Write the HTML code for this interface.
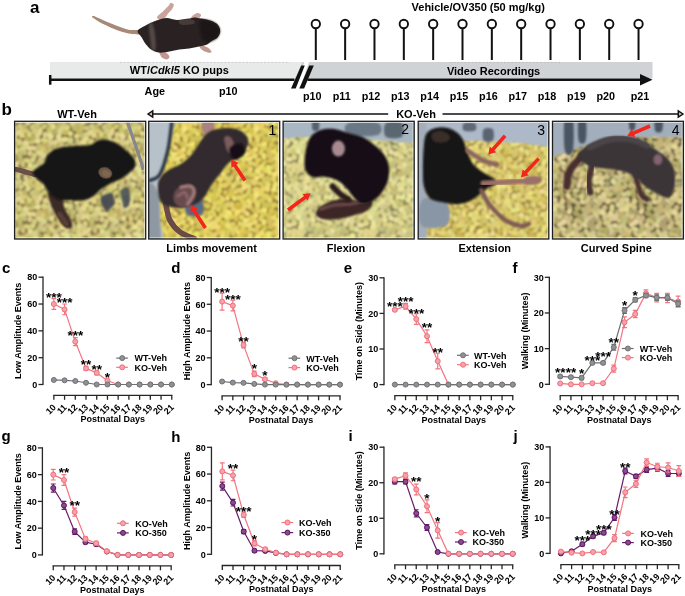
<!DOCTYPE html>
<html><head><meta charset="utf-8"><style>
html,body{margin:0;padding:0;background:#fff;width:685px;height:596px;overflow:hidden}
svg{display:block;will-change:transform}
</style></head><body>
<svg width="685" height="596" viewBox="0 0 685 596">
<defs><pattern id="pel0" width="72" height="66" patternUnits="userSpaceOnUse" x="0" y="0"><rect width="72" height="66" fill="#7e6e42"/><ellipse cx="44.8" cy="49.0" rx="3.3" ry="2.7" transform="rotate(114 44.8 49.0)" fill="#ded185"/><ellipse cx="57.3" cy="-3.8" rx="3.0" ry="2.9" transform="rotate(165 57.3 -3.8)" fill="#c5bb70"/><ellipse cx="57.3" cy="62.2" rx="3.0" ry="2.9" transform="rotate(165 57.3 62.2)" fill="#c5bb70"/><ellipse cx="2.1" cy="30.7" rx="3.8" ry="2.5" transform="rotate(110 2.1 30.7)" fill="#ccc37e"/><ellipse cx="74.1" cy="30.7" rx="3.8" ry="2.5" transform="rotate(110 74.1 30.7)" fill="#ccc37e"/><ellipse cx="-4.1" cy="42.8" rx="2.8" ry="2.4" transform="rotate(40 -4.1 42.8)" fill="#e7d899"/><ellipse cx="67.9" cy="42.8" rx="2.8" ry="2.4" transform="rotate(40 67.9 42.8)" fill="#e7d899"/><ellipse cx="64.9" cy="7.5" rx="3.9" ry="2.4" transform="rotate(176 64.9 7.5)" fill="#e9de8d"/><ellipse cx="33.8" cy="16.3" rx="3.1" ry="2.3" transform="rotate(33 33.8 16.3)" fill="#e5d692"/><ellipse cx="39.2" cy="37.9" rx="3.1" ry="2.6" transform="rotate(39 39.2 37.9)" fill="#b8ae69"/><ellipse cx="0.9" cy="14.3" rx="3.0" ry="3.0" transform="rotate(151 0.9 14.3)" fill="#c8bd77"/><ellipse cx="72.9" cy="14.3" rx="3.0" ry="3.0" transform="rotate(151 72.9 14.3)" fill="#c8bd77"/><ellipse cx="20.1" cy="60.5" rx="3.1" ry="2.3" transform="rotate(21 20.1 60.5)" fill="#d3d27e"/><ellipse cx="55.1" cy="10.5" rx="3.4" ry="2.7" transform="rotate(145 55.1 10.5)" fill="#dad58c"/><ellipse cx="44.5" cy="8.4" rx="3.6" ry="2.9" transform="rotate(24 44.5 8.4)" fill="#dcd280"/><ellipse cx="0.1" cy="57.5" rx="3.8" ry="2.4" transform="rotate(54 0.1 57.5)" fill="#d8d185"/><ellipse cx="72.1" cy="57.5" rx="3.8" ry="2.4" transform="rotate(54 72.1 57.5)" fill="#d8d185"/><ellipse cx="15.1" cy="14.2" rx="2.9" ry="2.9" transform="rotate(174 15.1 14.2)" fill="#c0ba67"/><ellipse cx="38.8" cy="44.7" rx="3.5" ry="2.3" transform="rotate(17 38.8 44.7)" fill="#c3b566"/><ellipse cx="14.7" cy="-3.9" rx="3.0" ry="2.5" transform="rotate(13 14.7 -3.9)" fill="#d8c784"/><ellipse cx="14.7" cy="62.1" rx="3.0" ry="2.5" transform="rotate(13 14.7 62.1)" fill="#d8c784"/><ellipse cx="49.7" cy="-2.2" rx="3.6" ry="3.1" transform="rotate(91 49.7 -2.2)" fill="#c6c368"/><ellipse cx="49.7" cy="63.8" rx="3.6" ry="3.1" transform="rotate(91 49.7 63.8)" fill="#c6c368"/><ellipse cx="64.3" cy="19.7" rx="2.9" ry="2.2" transform="rotate(109 64.3 19.7)" fill="#d1c878"/><ellipse cx="26.0" cy="11.0" rx="3.3" ry="2.8" transform="rotate(14 26.0 11.0)" fill="#e7db97"/><ellipse cx="10.5" cy="4.3" rx="3.8" ry="2.4" transform="rotate(81 10.5 4.3)" fill="#c4ba71"/><ellipse cx="10.5" cy="70.3" rx="3.8" ry="2.4" transform="rotate(81 10.5 70.3)" fill="#c4ba71"/><ellipse cx="21.7" cy="39.8" rx="3.3" ry="2.2" transform="rotate(148 21.7 39.8)" fill="#dacf85"/><ellipse cx="0.2" cy="44.7" rx="3.9" ry="2.3" transform="rotate(125 0.2 44.7)" fill="#e5d893"/><ellipse cx="72.2" cy="44.7" rx="3.9" ry="2.3" transform="rotate(125 72.2 44.7)" fill="#e5d893"/><ellipse cx="24.3" cy="20.5" rx="3.2" ry="2.4" transform="rotate(24 24.3 20.5)" fill="#c6be79"/><ellipse cx="58.9" cy="31.7" rx="2.9" ry="2.5" transform="rotate(115 58.9 31.7)" fill="#cbc17b"/><ellipse cx="22.7" cy="31.8" rx="3.8" ry="2.3" transform="rotate(73 22.7 31.8)" fill="#d4c27d"/><ellipse cx="50.7" cy="3.8" rx="3.5" ry="3.1" transform="rotate(82 50.7 3.8)" fill="#e9df99"/><ellipse cx="50.7" cy="69.8" rx="3.5" ry="3.1" transform="rotate(82 50.7 69.8)" fill="#e9df99"/><ellipse cx="-1.8" cy="1.5" rx="2.9" ry="2.3" transform="rotate(32 -1.8 1.5)" fill="#e8df89"/><ellipse cx="-1.8" cy="67.5" rx="2.9" ry="2.3" transform="rotate(32 -1.8 67.5)" fill="#e8df89"/><ellipse cx="70.2" cy="1.5" rx="2.9" ry="2.3" transform="rotate(32 70.2 1.5)" fill="#e8df89"/><ellipse cx="70.2" cy="67.5" rx="2.9" ry="2.3" transform="rotate(32 70.2 67.5)" fill="#e8df89"/><ellipse cx="54.0" cy="55.8" rx="3.9" ry="3.0" transform="rotate(173 54.0 55.8)" fill="#b8ad66"/><ellipse cx="1.3" cy="52.0" rx="3.2" ry="2.4" transform="rotate(29 1.3 52.0)" fill="#d5c475"/><ellipse cx="73.3" cy="52.0" rx="3.2" ry="2.4" transform="rotate(29 73.3 52.0)" fill="#d5c475"/><ellipse cx="26.4" cy="38.2" rx="3.6" ry="2.2" transform="rotate(108 26.4 38.2)" fill="#d3c47f"/><ellipse cx="14.1" cy="49.9" rx="2.9" ry="2.4" transform="rotate(43 14.1 49.9)" fill="#dad987"/><ellipse cx="66.9" cy="-3.8" rx="3.7" ry="2.7" transform="rotate(121 66.9 -3.8)" fill="#ded67f"/><ellipse cx="66.9" cy="62.2" rx="3.7" ry="2.7" transform="rotate(121 66.9 62.2)" fill="#ded67f"/><ellipse cx="37.8" cy="51.2" rx="3.3" ry="2.9" transform="rotate(4 37.8 51.2)" fill="#d8cc75"/><ellipse cx="7.8" cy="49.4" rx="3.2" ry="2.3" transform="rotate(149 7.8 49.4)" fill="#bfb16e"/><ellipse cx="2.6" cy="-3.6" rx="3.4" ry="2.6" transform="rotate(47 2.6 -3.6)" fill="#c2b868"/><ellipse cx="2.6" cy="62.4" rx="3.4" ry="2.6" transform="rotate(47 2.6 62.4)" fill="#c2b868"/><ellipse cx="74.6" cy="-3.6" rx="3.4" ry="2.6" transform="rotate(47 74.6 -3.6)" fill="#c2b868"/><ellipse cx="74.6" cy="62.4" rx="3.4" ry="2.6" transform="rotate(47 74.6 62.4)" fill="#c2b868"/><ellipse cx="6.6" cy="22.5" rx="3.0" ry="2.5" transform="rotate(68 6.6 22.5)" fill="#ccc073"/><ellipse cx="44.0" cy="60.6" rx="3.6" ry="2.3" transform="rotate(147 44.0 60.6)" fill="#d0cc75"/><ellipse cx="39.3" cy="20.6" rx="3.6" ry="3.1" transform="rotate(40 39.3 20.6)" fill="#ded589"/><ellipse cx="5.6" cy="9.8" rx="3.7" ry="2.4" transform="rotate(86 5.6 9.8)" fill="#c6c27b"/><ellipse cx="-1.0" cy="35.2" rx="2.9" ry="2.3" transform="rotate(172 -1.0 35.2)" fill="#bcb370"/><ellipse cx="71.0" cy="35.2" rx="2.9" ry="2.3" transform="rotate(172 71.0 35.2)" fill="#bcb370"/><ellipse cx="29.2" cy="15.7" rx="3.5" ry="2.3" transform="rotate(13 29.2 15.7)" fill="#e3db8e"/><ellipse cx="42.8" cy="54.5" rx="3.1" ry="2.5" transform="rotate(107 42.8 54.5)" fill="#ddd98d"/><ellipse cx="32.8" cy="27.8" rx="3.2" ry="2.7" transform="rotate(107 32.8 27.8)" fill="#d7d283"/><ellipse cx="60.4" cy="8.6" rx="3.0" ry="2.6" transform="rotate(52 60.4 8.6)" fill="#e2dd96"/><ellipse cx="7.7" cy="28.7" rx="3.6" ry="3.1" transform="rotate(85 7.7 28.7)" fill="#dfdb8d"/><ellipse cx="10.7" cy="55.8" rx="3.7" ry="2.8" transform="rotate(162 10.7 55.8)" fill="#ece08f"/><ellipse cx="27.1" cy="-0.8" rx="3.0" ry="2.4" transform="rotate(35 27.1 -0.8)" fill="#d2c672"/><ellipse cx="27.1" cy="65.2" rx="3.0" ry="2.4" transform="rotate(35 27.1 65.2)" fill="#d2c672"/><ellipse cx="6.4" cy="18.0" rx="3.1" ry="2.4" transform="rotate(173 6.4 18.0)" fill="#d3c983"/><ellipse cx="26.0" cy="51.9" rx="3.7" ry="2.4" transform="rotate(29 26.0 51.9)" fill="#e0dc8c"/><ellipse cx="55.8" cy="45.8" rx="3.2" ry="2.4" transform="rotate(6 55.8 45.8)" fill="#e0d482"/><ellipse cx="26.2" cy="46.5" rx="3.9" ry="2.4" transform="rotate(72 26.2 46.5)" fill="#dccd91"/><ellipse cx="46.8" cy="38.3" rx="3.5" ry="2.9" transform="rotate(2 46.8 38.3)" fill="#e4db88"/><ellipse cx="18.0" cy="44.3" rx="3.2" ry="2.2" transform="rotate(86 18.0 44.3)" fill="#ddd688"/><ellipse cx="33.3" cy="53.9" rx="3.2" ry="2.4" transform="rotate(10 33.3 53.9)" fill="#c6bf71"/><ellipse cx="62.6" cy="45.4" rx="3.2" ry="3.1" transform="rotate(103 62.6 45.4)" fill="#e7d892"/><ellipse cx="-4.5" cy="31.5" rx="3.3" ry="2.4" transform="rotate(132 -4.5 31.5)" fill="#e0d48b"/><ellipse cx="67.5" cy="31.5" rx="3.3" ry="2.4" transform="rotate(132 67.5 31.5)" fill="#e0d48b"/><ellipse cx="49.8" cy="47.5" rx="3.4" ry="2.4" transform="rotate(42 49.8 47.5)" fill="#d8c475"/><ellipse cx="56.2" cy="38.3" rx="3.7" ry="3.0" transform="rotate(4 56.2 38.3)" fill="#e8dc98"/><ellipse cx="47.9" cy="27.8" rx="2.8" ry="2.6" transform="rotate(154 47.9 27.8)" fill="#c6bc7f"/><ellipse cx="31.8" cy="42.9" rx="3.7" ry="2.5" transform="rotate(29 31.8 42.9)" fill="#d1c380"/><ellipse cx="45.4" cy="2.8" rx="2.8" ry="2.9" transform="rotate(12 45.4 2.8)" fill="#ded289"/><ellipse cx="45.4" cy="68.8" rx="2.8" ry="2.9" transform="rotate(12 45.4 68.8)" fill="#ded289"/><ellipse cx="0.0" cy="26.8" rx="3.4" ry="2.4" transform="rotate(113 0.0 26.8)" fill="#d7cb80"/><ellipse cx="72.0" cy="26.8" rx="3.4" ry="2.4" transform="rotate(113 72.0 26.8)" fill="#d7cb80"/><ellipse cx="20.1" cy="27.1" rx="3.2" ry="3.0" transform="rotate(87 20.1 27.1)" fill="#b9b467"/><ellipse cx="58.5" cy="42.4" rx="3.5" ry="2.9" transform="rotate(147 58.5 42.4)" fill="#e2d897"/><ellipse cx="43.8" cy="23.2" rx="3.5" ry="3.0" transform="rotate(92 43.8 23.2)" fill="#dad593"/><ellipse cx="64.3" cy="0.1" rx="3.5" ry="2.7" transform="rotate(50 64.3 0.1)" fill="#c8b969"/><ellipse cx="64.3" cy="66.1" rx="3.5" ry="2.7" transform="rotate(50 64.3 66.1)" fill="#c8b969"/><ellipse cx="7.8" cy="37.3" rx="3.3" ry="3.0" transform="rotate(100 7.8 37.3)" fill="#e5d599"/><ellipse cx="27.1" cy="28.5" rx="3.8" ry="2.4" transform="rotate(13 27.1 28.5)" fill="#d8d27e"/><ellipse cx="16.3" cy="19.2" rx="3.7" ry="2.6" transform="rotate(67 16.3 19.2)" fill="#e1d98b"/><ellipse cx="42.9" cy="17.1" rx="3.2" ry="2.8" transform="rotate(127 42.9 17.1)" fill="#dacd7c"/><ellipse cx="29.9" cy="21.1" rx="3.1" ry="2.2" transform="rotate(94 29.9 21.1)" fill="#e0ca8d"/><ellipse cx="56.3" cy="16.2" rx="3.5" ry="3.0" transform="rotate(175 56.3 16.2)" fill="#c4b969"/><ellipse cx="19.3" cy="10.2" rx="3.8" ry="3.1" transform="rotate(60 19.3 10.2)" fill="#d7ce7e"/><ellipse cx="-0.8" cy="19.4" rx="3.2" ry="2.4" transform="rotate(154 -0.8 19.4)" fill="#c3b668"/><ellipse cx="71.2" cy="19.4" rx="3.2" ry="2.4" transform="rotate(154 71.2 19.4)" fill="#c3b668"/><ellipse cx="43.8" cy="31.3" rx="3.1" ry="3.1" transform="rotate(122 43.8 31.3)" fill="#cec77c"/><ellipse cx="32.8" cy="60.5" rx="3.8" ry="2.3" transform="rotate(141 32.8 60.5)" fill="#d0c882"/><ellipse cx="63.9" cy="36.0" rx="3.7" ry="2.8" transform="rotate(172 63.9 36.0)" fill="#e4da97"/><ellipse cx="30.8" cy="38.0" rx="3.1" ry="2.2" transform="rotate(169 30.8 38.0)" fill="#ccc478"/><ellipse cx="51.0" cy="41.7" rx="3.4" ry="2.7" transform="rotate(39 51.0 41.7)" fill="#e5d58d"/><ellipse cx="61.3" cy="13.0" rx="3.8" ry="3.0" transform="rotate(84 61.3 13.0)" fill="#cdbd7c"/><ellipse cx="21.3" cy="54.8" rx="2.9" ry="2.2" transform="rotate(126 21.3 54.8)" fill="#decf82"/><ellipse cx="4.8" cy="55.2" rx="3.6" ry="2.9" transform="rotate(88 4.8 55.2)" fill="#dbd281"/><ellipse cx="76.8" cy="55.2" rx="3.6" ry="2.9" transform="rotate(88 76.8 55.2)" fill="#dbd281"/><ellipse cx="58.5" cy="4.5" rx="3.1" ry="2.5" transform="rotate(124 58.5 4.5)" fill="#eddb90"/><ellipse cx="58.5" cy="70.5" rx="3.1" ry="2.5" transform="rotate(124 58.5 70.5)" fill="#eddb90"/><ellipse cx="16.6" cy="54.1" rx="3.7" ry="2.2" transform="rotate(135 16.6 54.1)" fill="#cbbe7c"/><ellipse cx="5.2" cy="3.8" rx="3.2" ry="2.3" transform="rotate(148 5.2 3.8)" fill="#e9dc8c"/><ellipse cx="5.2" cy="69.8" rx="3.2" ry="2.3" transform="rotate(148 5.2 69.8)" fill="#e9dc8c"/><ellipse cx="-4.4" cy="24.7" rx="3.4" ry="3.0" transform="rotate(114 -4.4 24.7)" fill="#e5da88"/><ellipse cx="67.6" cy="24.7" rx="3.4" ry="3.0" transform="rotate(114 67.6 24.7)" fill="#e5da88"/><ellipse cx="10.9" cy="41.7" rx="3.3" ry="2.4" transform="rotate(13 10.9 41.7)" fill="#bdb666"/><ellipse cx="37.2" cy="8.8" rx="3.7" ry="2.8" transform="rotate(179 37.2 8.8)" fill="#e6df98"/><ellipse cx="6.1" cy="44.1" rx="3.5" ry="2.3" transform="rotate(139 6.1 44.1)" fill="#d9d583"/><ellipse cx="53.3" cy="26.1" rx="3.7" ry="2.5" transform="rotate(117 53.3 26.1)" fill="#c8bf71"/><ellipse cx="14.6" cy="2.6" rx="3.4" ry="2.7" transform="rotate(10 14.6 2.6)" fill="#d5cc82"/><ellipse cx="14.6" cy="68.6" rx="3.4" ry="2.7" transform="rotate(10 14.6 68.6)" fill="#d5cc82"/><ellipse cx="54.7" cy="0.0" rx="3.9" ry="2.7" transform="rotate(131 54.7 0.0)" fill="#baaf66"/><ellipse cx="54.7" cy="66.0" rx="3.9" ry="2.7" transform="rotate(131 54.7 66.0)" fill="#baaf66"/><ellipse cx="11.1" cy="10.5" rx="3.8" ry="2.9" transform="rotate(151 11.1 10.5)" fill="#ead890"/><ellipse cx="11.6" cy="18.9" rx="3.6" ry="2.6" transform="rotate(123 11.6 18.9)" fill="#e4d68f"/><ellipse cx="16.9" cy="31.8" rx="2.9" ry="2.3" transform="rotate(123 16.9 31.8)" fill="#e6d793"/><ellipse cx="29.5" cy="3.0" rx="3.1" ry="2.8" transform="rotate(139 29.5 3.0)" fill="#d9d67f"/><ellipse cx="29.5" cy="69.0" rx="3.1" ry="2.8" transform="rotate(139 29.5 69.0)" fill="#d9d67f"/><ellipse cx="39.5" cy="-0.7" rx="3.8" ry="3.0" transform="rotate(91 39.5 -0.7)" fill="#ead78f"/><ellipse cx="39.5" cy="65.3" rx="3.8" ry="3.0" transform="rotate(91 39.5 65.3)" fill="#ead78f"/><ellipse cx="22.0" cy="3.4" rx="3.0" ry="2.6" transform="rotate(178 22.0 3.4)" fill="#e6d585"/><ellipse cx="22.0" cy="69.4" rx="3.0" ry="2.6" transform="rotate(178 22.0 69.4)" fill="#e6d585"/><ellipse cx="59.0" cy="20.6" rx="3.5" ry="2.2" transform="rotate(97 59.0 20.6)" fill="#dbcd7e"/><ellipse cx="26.9" cy="6.5" rx="3.2" ry="2.4" transform="rotate(38 26.9 6.5)" fill="#b5aa5e"/><ellipse cx="-4.4" cy="52.5" rx="3.1" ry="2.3" transform="rotate(148 -4.4 52.5)" fill="#c1ba6b"/><ellipse cx="67.6" cy="52.5" rx="3.1" ry="2.3" transform="rotate(148 67.6 52.5)" fill="#c1ba6b"/><ellipse cx="49.2" cy="57.0" rx="3.6" ry="2.2" transform="rotate(56 49.2 57.0)" fill="#d4ce7e"/><ellipse cx="13.3" cy="25.7" rx="2.9" ry="2.5" transform="rotate(77 13.3 25.7)" fill="#ddd384"/><ellipse cx="48.9" cy="34.5" rx="3.6" ry="2.5" transform="rotate(90 48.9 34.5)" fill="#bdb862"/><ellipse cx="51.4" cy="20.2" rx="2.9" ry="2.7" transform="rotate(88 51.4 20.2)" fill="#ebde99"/><ellipse cx="59.8" cy="58.0" rx="3.4" ry="3.0" transform="rotate(141 59.8 58.0)" fill="#c4b261"/><ellipse cx="42.8" cy="42.7" rx="3.6" ry="2.4" transform="rotate(110 42.8 42.7)" fill="#dace84"/><ellipse cx="34.5" cy="23.4" rx="3.0" ry="2.3" transform="rotate(68 34.5 23.4)" fill="#d6cd80"/><ellipse cx="53.1" cy="60.6" rx="2.9" ry="2.2" transform="rotate(95 53.1 60.6)" fill="#e9dd8e"/><ellipse cx="37.2" cy="3.5" rx="3.2" ry="2.9" transform="rotate(103 37.2 3.5)" fill="#e3d68e"/><ellipse cx="37.2" cy="69.5" rx="3.2" ry="2.9" transform="rotate(103 37.2 69.5)" fill="#e3d68e"/><ellipse cx="12.2" cy="30.2" rx="3.6" ry="3.0" transform="rotate(99 12.2 30.2)" fill="#d4c585"/><ellipse cx="64.6" cy="58.4" rx="3.0" ry="2.4" transform="rotate(21 64.6 58.4)" fill="#c7c37a"/><ellipse cx="19.2" cy="49.8" rx="3.0" ry="2.7" transform="rotate(171 19.2 49.8)" fill="#cecc85"/><ellipse cx="17.3" cy="37.5" rx="3.7" ry="2.2" transform="rotate(56 17.3 37.5)" fill="#d6cb85"/><ellipse cx="34.6" cy="46.6" rx="3.2" ry="2.4" transform="rotate(54 34.6 46.6)" fill="#cec480"/><ellipse cx="30.2" cy="33.3" rx="2.9" ry="2.6" transform="rotate(86 30.2 33.3)" fill="#e6df8f"/><ellipse cx="63.1" cy="29.0" rx="3.3" ry="2.8" transform="rotate(164 63.1 29.0)" fill="#ebe391"/><ellipse cx="54.6" cy="34.0" rx="3.2" ry="2.7" transform="rotate(49 54.6 34.0)" fill="#d5c885"/><ellipse cx="7.4" cy="-0.2" rx="3.5" ry="3.0" transform="rotate(91 7.4 -0.2)" fill="#c0b863"/><ellipse cx="7.4" cy="65.8" rx="3.5" ry="3.0" transform="rotate(91 7.4 65.8)" fill="#c0b863"/><ellipse cx="11.7" cy="46.1" rx="2.8" ry="2.4" transform="rotate(102 11.7 46.1)" fill="#e0d180"/><ellipse cx="-1.7" cy="8.5" rx="3.5" ry="3.0" transform="rotate(98 -1.7 8.5)" fill="#d2cf85"/><ellipse cx="70.3" cy="8.5" rx="3.5" ry="3.0" transform="rotate(98 70.3 8.5)" fill="#d2cf85"/><ellipse cx="56.9" cy="50.9" rx="2.8" ry="3.1" transform="rotate(11 56.9 50.9)" fill="#c7be7f"/><ellipse cx="38.5" cy="31.6" rx="3.1" ry="2.8" transform="rotate(93 38.5 31.6)" fill="#c2bd73"/><ellipse cx="49.6" cy="14.3" rx="3.1" ry="3.0" transform="rotate(172 49.6 14.3)" fill="#c8b772"/><ellipse cx="31.9" cy="10.0" rx="2.9" ry="2.3" transform="rotate(165 31.9 10.0)" fill="#d0c371"/><ellipse cx="20.6" cy="17.4" rx="3.4" ry="2.3" transform="rotate(138 20.6 17.4)" fill="#d4d17b"/><ellipse cx="28.1" cy="56.6" rx="3.0" ry="2.6" transform="rotate(128 28.1 56.6)" fill="#e3d890"/><ellipse cx="-4.7" cy="48.0" rx="2.9" ry="2.8" transform="rotate(127 -4.7 48.0)" fill="#cec080"/><ellipse cx="67.3" cy="48.0" rx="2.9" ry="2.8" transform="rotate(127 67.3 48.0)" fill="#cec080"/><ellipse cx="38.6" cy="56.6" rx="3.6" ry="3.0" transform="rotate(168 38.6 56.6)" fill="#dacf78"/><ellipse cx="22.8" cy="-1.3" rx="3.2" ry="2.7" transform="rotate(7 22.8 -1.3)" fill="#d9ca78"/><ellipse cx="22.8" cy="64.7" rx="3.2" ry="2.7" transform="rotate(7 22.8 64.7)" fill="#d9ca78"/><ellipse cx="66.9" cy="15.0" rx="3.4" ry="2.4" transform="rotate(96 66.9 15.0)" fill="#c9c070"/><ellipse cx="44.8" cy="13.0" rx="3.4" ry="2.3" transform="rotate(12 44.8 13.0)" fill="#c4af5e"/><ellipse cx="2.8" cy="38.3" rx="3.9" ry="2.5" transform="rotate(14 2.8 38.3)" fill="#d6d47d"/><ellipse cx="74.8" cy="38.3" rx="3.9" ry="2.5" transform="rotate(14 74.8 38.3)" fill="#d6d47d"/><ellipse cx="59.4" cy="25.6" rx="3.0" ry="2.2" transform="rotate(18 59.4 25.6)" fill="#d9c676"/><ellipse cx="39.0" cy="15.1" rx="3.7" ry="3.1" transform="rotate(140 39.0 15.1)" fill="#c9bc6e"/><ellipse cx="40.8" cy="27.7" rx="3.4" ry="2.6" transform="rotate(92 40.8 27.7)" fill="#d2c386"/><ellipse cx="14.1" cy="7.0" rx="2.9" ry="2.4" transform="rotate(2 14.1 7.0)" fill="#e5dc8b"/><ellipse cx="49.9" cy="52.1" rx="3.3" ry="2.8" transform="rotate(44 49.9 52.1)" fill="#cdc27c"/><ellipse cx="61.2" cy="52.7" rx="2.9" ry="2.7" transform="rotate(129 61.2 52.7)" fill="#ddd792"/><ellipse cx="37.1" cy="-4.6" rx="3.2" ry="2.9" transform="rotate(19 37.1 -4.6)" fill="#c2c173"/><ellipse cx="37.1" cy="61.4" rx="3.2" ry="2.9" transform="rotate(19 37.1 61.4)" fill="#c2c173"/><ellipse cx="30.6" cy="49.3" rx="3.9" ry="2.9" transform="rotate(106 30.6 49.3)" fill="#d0c472"/><ellipse cx="6.3" cy="59.4" rx="3.8" ry="2.6" transform="rotate(167 6.3 59.4)" fill="#c0b46c"/><ellipse cx="50.3" cy="9.8" rx="3.7" ry="2.7" transform="rotate(76 50.3 9.8)" fill="#d9cc89"/><ellipse cx="12.5" cy="34.8" rx="3.4" ry="2.9" transform="rotate(116 12.5 34.8)" fill="#e1d687"/><ellipse cx="9.2" cy="14.5" rx="3.2" ry="2.9" transform="rotate(173 9.2 14.5)" fill="#d3c889"/><ellipse cx="35.1" cy="35.7" rx="3.6" ry="3.0" transform="rotate(85 35.1 35.7)" fill="#d3d286"/><ellipse cx="33.1" cy="5.7" rx="3.3" ry="2.5" transform="rotate(17 33.1 5.7)" fill="#b8b261"/><ellipse cx="25.1" cy="60.4" rx="2.9" ry="2.6" transform="rotate(89 25.1 60.4)" fill="#c0b36f"/><ellipse cx="3.5" cy="47.9" rx="3.8" ry="2.2" transform="rotate(71 3.5 47.9)" fill="#d8cc7a"/><ellipse cx="75.5" cy="47.9" rx="3.8" ry="2.2" transform="rotate(71 75.5 47.9)" fill="#d8cc7a"/><ellipse cx="59.7" cy="0.1" rx="3.0" ry="2.4" transform="rotate(75 59.7 0.1)" fill="#d8d78f"/><ellipse cx="59.7" cy="66.1" rx="3.0" ry="2.4" transform="rotate(75 59.7 66.1)" fill="#d8d78f"/><ellipse cx="6.6" cy="33.0" rx="3.5" ry="2.4" transform="rotate(136 6.6 33.0)" fill="#dad07d"/><ellipse cx="34.8" cy="-0.4" rx="3.5" ry="2.9" transform="rotate(40 34.8 -0.4)" fill="#d5c77e"/><ellipse cx="34.8" cy="65.6" rx="3.5" ry="2.9" transform="rotate(40 34.8 65.6)" fill="#d5c77e"/><ellipse cx="51.5" cy="30.7" rx="3.2" ry="2.3" transform="rotate(56 51.5 30.7)" fill="#e3d28c"/><ellipse cx="46.8" cy="19.5" rx="3.7" ry="2.8" transform="rotate(50 46.8 19.5)" fill="#c3b86c"/><ellipse cx="18.3" cy="0.3" rx="3.3" ry="2.5" transform="rotate(133 18.3 0.3)" fill="#dfd894"/><ellipse cx="18.3" cy="66.3" rx="3.3" ry="2.5" transform="rotate(133 18.3 66.3)" fill="#dfd894"/><ellipse cx="19.7" cy="22.2" rx="3.8" ry="3.0" transform="rotate(94 19.7 22.2)" fill="#c5b96f"/><ellipse cx="9.8" cy="-4.0" rx="3.3" ry="2.8" transform="rotate(102 9.8 -4.0)" fill="#c8bc66"/><ellipse cx="9.8" cy="62.0" rx="3.3" ry="2.8" transform="rotate(102 9.8 62.0)" fill="#c8bc66"/><ellipse cx="35.8" cy="41.0" rx="3.2" ry="2.7" transform="rotate(63 35.8 41.0)" fill="#e7db94"/><ellipse cx="63.5" cy="41.1" rx="2.8" ry="3.0" transform="rotate(125 63.5 41.1)" fill="#c5bf6b"/><ellipse cx="24.5" cy="15.4" rx="3.4" ry="2.7" transform="rotate(82 24.5 15.4)" fill="#d7d086"/><ellipse cx="-4.3" cy="38.4" rx="3.7" ry="2.8" transform="rotate(91 -4.3 38.4)" fill="#e0e199"/><ellipse cx="67.7" cy="38.4" rx="3.7" ry="2.8" transform="rotate(91 67.7 38.4)" fill="#e0e199"/><ellipse cx="62.0" cy="-3.8" rx="3.0" ry="2.5" transform="rotate(122 62.0 -3.8)" fill="#d6d286"/><ellipse cx="62.0" cy="62.2" rx="3.0" ry="2.5" transform="rotate(122 62.0 62.2)" fill="#d6d286"/></pattern><pattern id="pel1" width="72" height="66" patternUnits="userSpaceOnUse" x="13" y="7"><rect width="72" height="66" fill="#8a7035"/><ellipse cx="57.1" cy="54.2" rx="3.1" ry="2.6" transform="rotate(131 57.1 54.2)" fill="#cec650"/><ellipse cx="34.9" cy="17.3" rx="3.5" ry="2.4" transform="rotate(90 34.9 17.3)" fill="#eee475"/><ellipse cx="0.0" cy="43.7" rx="3.1" ry="2.3" transform="rotate(120 0.0 43.7)" fill="#ddc95d"/><ellipse cx="72.0" cy="43.7" rx="3.1" ry="2.3" transform="rotate(120 72.0 43.7)" fill="#ddc95d"/><ellipse cx="33.9" cy="50.1" rx="3.7" ry="2.9" transform="rotate(133 33.9 50.1)" fill="#edd26b"/><ellipse cx="26.9" cy="50.8" rx="3.8" ry="3.0" transform="rotate(164 26.9 50.8)" fill="#ead46b"/><ellipse cx="19.6" cy="52.9" rx="3.9" ry="2.3" transform="rotate(115 19.6 52.9)" fill="#ddd265"/><ellipse cx="52.5" cy="27.3" rx="3.8" ry="2.5" transform="rotate(44 52.5 27.3)" fill="#dac960"/><ellipse cx="38.8" cy="45.0" rx="3.2" ry="3.1" transform="rotate(175 38.8 45.0)" fill="#dfda68"/><ellipse cx="13.9" cy="36.5" rx="3.0" ry="2.6" transform="rotate(173 13.9 36.5)" fill="#d7c656"/><ellipse cx="58.0" cy="17.5" rx="3.7" ry="2.5" transform="rotate(16 58.0 17.5)" fill="#e8d772"/><ellipse cx="57.8" cy="45.3" rx="3.3" ry="2.2" transform="rotate(77 57.8 45.3)" fill="#d4bd49"/><ellipse cx="60.8" cy="22.1" rx="3.2" ry="2.7" transform="rotate(174 60.8 22.1)" fill="#f6dc6d"/><ellipse cx="6.7" cy="52.8" rx="2.9" ry="2.4" transform="rotate(104 6.7 52.8)" fill="#e4d068"/><ellipse cx="57.9" cy="29.4" rx="3.4" ry="2.3" transform="rotate(158 57.9 29.4)" fill="#e5d26c"/><ellipse cx="6.8" cy="13.0" rx="3.6" ry="2.3" transform="rotate(75 6.8 13.0)" fill="#d9c451"/><ellipse cx="45.7" cy="19.2" rx="3.1" ry="2.2" transform="rotate(157 45.7 19.2)" fill="#e7d975"/><ellipse cx="-3.5" cy="38.8" rx="3.7" ry="2.7" transform="rotate(50 -3.5 38.8)" fill="#dad069"/><ellipse cx="68.5" cy="38.8" rx="3.7" ry="2.7" transform="rotate(50 68.5 38.8)" fill="#dad069"/><ellipse cx="14.5" cy="43.3" rx="3.4" ry="2.3" transform="rotate(125 14.5 43.3)" fill="#ede16d"/><ellipse cx="25.9" cy="-4.4" rx="3.0" ry="2.7" transform="rotate(39 25.9 -4.4)" fill="#e5ce64"/><ellipse cx="25.9" cy="61.6" rx="3.0" ry="2.7" transform="rotate(39 25.9 61.6)" fill="#e5ce64"/><ellipse cx="65.5" cy="34.0" rx="3.3" ry="3.0" transform="rotate(32 65.5 34.0)" fill="#f6e281"/><ellipse cx="46.4" cy="46.1" rx="3.8" ry="3.0" transform="rotate(114 46.4 46.1)" fill="#f1de70"/><ellipse cx="58.0" cy="-1.6" rx="3.1" ry="2.8" transform="rotate(33 58.0 -1.6)" fill="#e1cf6c"/><ellipse cx="58.0" cy="64.4" rx="3.1" ry="2.8" transform="rotate(33 58.0 64.4)" fill="#e1cf6c"/><ellipse cx="2.0" cy="23.9" rx="3.3" ry="3.0" transform="rotate(34 2.0 23.9)" fill="#e8d36f"/><ellipse cx="74.0" cy="23.9" rx="3.3" ry="3.0" transform="rotate(34 74.0 23.9)" fill="#e8d36f"/><ellipse cx="42.4" cy="5.9" rx="3.0" ry="3.1" transform="rotate(175 42.4 5.9)" fill="#d8c651"/><ellipse cx="8.4" cy="43.7" rx="3.6" ry="2.7" transform="rotate(179 8.4 43.7)" fill="#d7ca66"/><ellipse cx="22.5" cy="13.0" rx="3.6" ry="2.8" transform="rotate(138 22.5 13.0)" fill="#e4c959"/><ellipse cx="34.8" cy="9.1" rx="3.8" ry="2.9" transform="rotate(163 34.8 9.1)" fill="#d4ca57"/><ellipse cx="15.1" cy="57.1" rx="3.6" ry="2.4" transform="rotate(176 15.1 57.1)" fill="#e1d561"/><ellipse cx="50.3" cy="0.8" rx="3.5" ry="2.7" transform="rotate(9 50.3 0.8)" fill="#dac552"/><ellipse cx="50.3" cy="66.8" rx="3.5" ry="2.7" transform="rotate(9 50.3 66.8)" fill="#dac552"/><ellipse cx="27.2" cy="25.7" rx="2.8" ry="2.7" transform="rotate(113 27.2 25.7)" fill="#dcc566"/><ellipse cx="9.1" cy="-0.0" rx="3.2" ry="3.0" transform="rotate(42 9.1 -0.0)" fill="#d2b946"/><ellipse cx="9.1" cy="66.0" rx="3.2" ry="3.0" transform="rotate(42 9.1 66.0)" fill="#d2b946"/><ellipse cx="3.9" cy="27.9" rx="3.6" ry="2.3" transform="rotate(68 3.9 27.9)" fill="#dccc62"/><ellipse cx="75.9" cy="27.9" rx="3.6" ry="2.3" transform="rotate(68 75.9 27.9)" fill="#dccc62"/><ellipse cx="-1.4" cy="16.2" rx="3.5" ry="2.5" transform="rotate(84 -1.4 16.2)" fill="#cec25b"/><ellipse cx="70.6" cy="16.2" rx="3.5" ry="2.5" transform="rotate(84 70.6 16.2)" fill="#cec25b"/><ellipse cx="-1.5" cy="58.9" rx="2.9" ry="2.4" transform="rotate(97 -1.5 58.9)" fill="#f2df76"/><ellipse cx="70.5" cy="58.9" rx="2.9" ry="2.4" transform="rotate(97 70.5 58.9)" fill="#f2df76"/><ellipse cx="48.3" cy="58.7" rx="3.1" ry="2.6" transform="rotate(58 48.3 58.7)" fill="#e3db6d"/><ellipse cx="32.2" cy="54.9" rx="3.9" ry="2.9" transform="rotate(34 32.2 54.9)" fill="#e9cf60"/><ellipse cx="57.3" cy="34.1" rx="3.9" ry="2.7" transform="rotate(9 57.3 34.1)" fill="#e6d170"/><ellipse cx="29.5" cy="5.7" rx="3.6" ry="2.4" transform="rotate(15 29.5 5.7)" fill="#e1cf69"/><ellipse cx="8.9" cy="38.9" rx="3.0" ry="2.2" transform="rotate(94 8.9 38.9)" fill="#f6e57f"/><ellipse cx="26.0" cy="16.9" rx="3.0" ry="2.9" transform="rotate(98 26.0 16.9)" fill="#eadb73"/><ellipse cx="32.5" cy="-4.8" rx="3.4" ry="2.8" transform="rotate(5 32.5 -4.8)" fill="#d3c859"/><ellipse cx="32.5" cy="61.2" rx="3.4" ry="2.8" transform="rotate(5 32.5 61.2)" fill="#d3c859"/><ellipse cx="18.3" cy="27.1" rx="3.6" ry="2.9" transform="rotate(173 18.3 27.1)" fill="#d1ba58"/><ellipse cx="63.3" cy="40.4" rx="3.1" ry="3.0" transform="rotate(51 63.3 40.4)" fill="#e7da64"/><ellipse cx="66.5" cy="24.8" rx="3.8" ry="2.6" transform="rotate(86 66.5 24.8)" fill="#ceba4c"/><ellipse cx="28.7" cy="32.2" rx="3.5" ry="3.0" transform="rotate(52 28.7 32.2)" fill="#ede477"/><ellipse cx="20.9" cy="0.4" rx="3.9" ry="2.2" transform="rotate(97 20.9 0.4)" fill="#ead571"/><ellipse cx="20.9" cy="66.4" rx="3.9" ry="2.2" transform="rotate(97 20.9 66.4)" fill="#ead571"/><ellipse cx="2.2" cy="51.1" rx="3.0" ry="2.8" transform="rotate(151 2.2 51.1)" fill="#cfbc5a"/><ellipse cx="74.2" cy="51.1" rx="3.0" ry="2.8" transform="rotate(151 74.2 51.1)" fill="#cfbc5a"/><ellipse cx="61.5" cy="4.1" rx="3.0" ry="2.5" transform="rotate(91 61.5 4.1)" fill="#dfd25e"/><ellipse cx="61.5" cy="70.1" rx="3.0" ry="2.5" transform="rotate(91 61.5 70.1)" fill="#dfd25e"/><ellipse cx="13.9" cy="-3.5" rx="3.8" ry="2.8" transform="rotate(64 13.9 -3.5)" fill="#e0cb5b"/><ellipse cx="13.9" cy="62.5" rx="3.8" ry="2.8" transform="rotate(64 13.9 62.5)" fill="#e0cb5b"/><ellipse cx="44.2" cy="27.9" rx="3.2" ry="2.8" transform="rotate(105 44.2 27.9)" fill="#d1c756"/><ellipse cx="35.4" cy="30.9" rx="3.8" ry="2.8" transform="rotate(61 35.4 30.9)" fill="#decf5c"/><ellipse cx="7.2" cy="23.9" rx="3.3" ry="2.6" transform="rotate(109 7.2 23.9)" fill="#e5d465"/><ellipse cx="65.6" cy="59.9" rx="3.6" ry="2.3" transform="rotate(65 65.6 59.9)" fill="#ead769"/><ellipse cx="50.0" cy="52.2" rx="3.0" ry="2.6" transform="rotate(167 50.0 52.2)" fill="#decb5a"/><ellipse cx="65.4" cy="29.1" rx="3.8" ry="2.8" transform="rotate(90 65.4 29.1)" fill="#e7d86b"/><ellipse cx="19.9" cy="47.0" rx="3.0" ry="2.5" transform="rotate(81 19.9 47.0)" fill="#edd974"/><ellipse cx="-4.3" cy="5.5" rx="3.6" ry="2.8" transform="rotate(99 -4.3 5.5)" fill="#d8ce58"/><ellipse cx="67.7" cy="5.5" rx="3.6" ry="2.8" transform="rotate(99 67.7 5.5)" fill="#d8ce58"/><ellipse cx="46.0" cy="35.3" rx="3.6" ry="2.6" transform="rotate(139 46.0 35.3)" fill="#f3e579"/><ellipse cx="2.4" cy="11.4" rx="3.1" ry="2.8" transform="rotate(80 2.4 11.4)" fill="#ddd154"/><ellipse cx="74.4" cy="11.4" rx="3.1" ry="2.8" transform="rotate(80 74.4 11.4)" fill="#ddd154"/><ellipse cx="-3.6" cy="46.2" rx="3.2" ry="2.9" transform="rotate(154 -3.6 46.2)" fill="#e5cc61"/><ellipse cx="68.4" cy="46.2" rx="3.2" ry="2.9" transform="rotate(154 68.4 46.2)" fill="#e5cc61"/><ellipse cx="24.7" cy="5.1" rx="3.2" ry="2.6" transform="rotate(47 24.7 5.1)" fill="#cbbe50"/><ellipse cx="52.7" cy="7.5" rx="3.6" ry="2.2" transform="rotate(153 52.7 7.5)" fill="#dece5a"/><ellipse cx="5.3" cy="34.3" rx="3.4" ry="2.3" transform="rotate(122 5.3 34.3)" fill="#cbb34f"/><ellipse cx="10.8" cy="18.6" rx="2.8" ry="2.3" transform="rotate(104 10.8 18.6)" fill="#e1d85f"/><ellipse cx="28.6" cy="-0.2" rx="3.8" ry="2.9" transform="rotate(92 28.6 -0.2)" fill="#e5d56c"/><ellipse cx="28.6" cy="65.8" rx="3.8" ry="2.9" transform="rotate(92 28.6 65.8)" fill="#e5d56c"/><ellipse cx="51.6" cy="42.6" rx="3.0" ry="2.6" transform="rotate(35 51.6 42.6)" fill="#d0c857"/><ellipse cx="40.7" cy="60.9" rx="3.8" ry="2.6" transform="rotate(81 40.7 60.9)" fill="#f1dd7c"/><ellipse cx="21.1" cy="31.1" rx="3.7" ry="2.3" transform="rotate(123 21.1 31.1)" fill="#ebdc71"/><ellipse cx="8.6" cy="7.4" rx="3.9" ry="2.7" transform="rotate(133 8.6 7.4)" fill="#f9e06f"/><ellipse cx="31.9" cy="13.3" rx="3.3" ry="2.4" transform="rotate(113 31.9 13.3)" fill="#e3d161"/><ellipse cx="61.9" cy="51.4" rx="3.0" ry="3.1" transform="rotate(124 61.9 51.4)" fill="#e1d765"/><ellipse cx="9.5" cy="27.7" rx="3.1" ry="2.5" transform="rotate(53 9.5 27.7)" fill="#eddb70"/><ellipse cx="27.6" cy="39.2" rx="3.0" ry="2.3" transform="rotate(126 27.6 39.2)" fill="#f7e97a"/><ellipse cx="9.8" cy="58.6" rx="2.9" ry="2.3" transform="rotate(78 9.8 58.6)" fill="#e3d862"/><ellipse cx="13.9" cy="29.6" rx="3.0" ry="2.8" transform="rotate(7 13.9 29.6)" fill="#cbbc47"/><ellipse cx="-3.7" cy="53.4" rx="2.8" ry="2.2" transform="rotate(112 -3.7 53.4)" fill="#dac359"/><ellipse cx="68.3" cy="53.4" rx="2.8" ry="2.2" transform="rotate(112 68.3 53.4)" fill="#dac359"/><ellipse cx="64.8" cy="10.2" rx="3.1" ry="2.5" transform="rotate(37 64.8 10.2)" fill="#e0d15e"/><ellipse cx="18.1" cy="8.8" rx="2.9" ry="2.4" transform="rotate(41 18.1 8.8)" fill="#f3dc7e"/><ellipse cx="26.7" cy="56.4" rx="3.8" ry="3.1" transform="rotate(145 26.7 56.4)" fill="#efe881"/><ellipse cx="44.8" cy="50.7" rx="2.9" ry="2.4" transform="rotate(161 44.8 50.7)" fill="#eee978"/><ellipse cx="35.1" cy="24.0" rx="3.6" ry="2.3" transform="rotate(136 35.1 24.0)" fill="#d4c854"/><ellipse cx="47.9" cy="8.2" rx="3.0" ry="3.1" transform="rotate(110 47.9 8.2)" fill="#ccba57"/><ellipse cx="52.4" cy="60.5" rx="3.4" ry="2.7" transform="rotate(62 52.4 60.5)" fill="#eedb6b"/><ellipse cx="12.6" cy="12.1" rx="3.0" ry="2.7" transform="rotate(152 12.6 12.1)" fill="#e0d75d"/><ellipse cx="65.6" cy="18.1" rx="3.1" ry="3.1" transform="rotate(69 65.6 18.1)" fill="#d5c750"/><ellipse cx="2.2" cy="-0.4" rx="3.5" ry="3.1" transform="rotate(170 2.2 -0.4)" fill="#e4ce6c"/><ellipse cx="2.2" cy="65.6" rx="3.5" ry="3.1" transform="rotate(170 2.2 65.6)" fill="#e4ce6c"/><ellipse cx="74.2" cy="-0.4" rx="3.5" ry="3.1" transform="rotate(170 74.2 -0.4)" fill="#e4ce6c"/><ellipse cx="74.2" cy="65.6" rx="3.5" ry="3.1" transform="rotate(170 74.2 65.6)" fill="#e4ce6c"/><ellipse cx="48.8" cy="31.7" rx="3.2" ry="2.2" transform="rotate(68 48.8 31.7)" fill="#f1db6b"/><ellipse cx="44.8" cy="0.2" rx="3.3" ry="2.2" transform="rotate(122 44.8 0.2)" fill="#e1d461"/><ellipse cx="44.8" cy="66.2" rx="3.3" ry="2.2" transform="rotate(122 44.8 66.2)" fill="#e1d461"/><ellipse cx="15.1" cy="20.1" rx="3.9" ry="2.8" transform="rotate(118 15.1 20.1)" fill="#e2d973"/><ellipse cx="44.6" cy="40.2" rx="3.0" ry="2.7" transform="rotate(163 44.6 40.2)" fill="#e3d45d"/><ellipse cx="19.4" cy="42.1" rx="3.5" ry="3.0" transform="rotate(55 19.4 42.1)" fill="#c8bb58"/><ellipse cx="-2.0" cy="31.8" rx="3.1" ry="2.8" transform="rotate(126 -2.0 31.8)" fill="#d3c854"/><ellipse cx="70.0" cy="31.8" rx="3.1" ry="2.8" transform="rotate(126 70.0 31.8)" fill="#d3c854"/><ellipse cx="53.3" cy="18.7" rx="3.1" ry="2.3" transform="rotate(174 53.3 18.7)" fill="#ede27c"/><ellipse cx="37.1" cy="57.6" rx="3.3" ry="3.0" transform="rotate(89 37.1 57.6)" fill="#dad360"/><ellipse cx="11.0" cy="51.7" rx="3.8" ry="2.5" transform="rotate(32 11.0 51.7)" fill="#e3cf6b"/><ellipse cx="57.1" cy="8.9" rx="3.8" ry="2.2" transform="rotate(70 57.1 8.9)" fill="#ddd263"/><ellipse cx="35.2" cy="4.6" rx="3.0" ry="3.0" transform="rotate(97 35.2 4.6)" fill="#f6e876"/><ellipse cx="35.2" cy="70.6" rx="3.0" ry="3.0" transform="rotate(97 35.2 70.6)" fill="#f6e876"/><ellipse cx="44.3" cy="12.7" rx="3.8" ry="2.9" transform="rotate(165 44.3 12.7)" fill="#e7dd61"/><ellipse cx="25.0" cy="43.0" rx="3.8" ry="3.1" transform="rotate(74 25.0 43.0)" fill="#e7ce70"/><ellipse cx="-0.3" cy="7.3" rx="3.6" ry="2.6" transform="rotate(23 -0.3 7.3)" fill="#f7e27e"/><ellipse cx="71.7" cy="7.3" rx="3.6" ry="2.6" transform="rotate(23 71.7 7.3)" fill="#f7e27e"/><ellipse cx="40.4" cy="33.1" rx="3.5" ry="2.7" transform="rotate(51 40.4 33.1)" fill="#efdf70"/><ellipse cx="23.5" cy="35.8" rx="3.9" ry="2.6" transform="rotate(174 23.5 35.8)" fill="#dcce5a"/><ellipse cx="20.4" cy="19.8" rx="3.9" ry="2.4" transform="rotate(153 20.4 19.8)" fill="#f2e077"/><ellipse cx="41.8" cy="21.6" rx="3.6" ry="2.7" transform="rotate(177 41.8 21.6)" fill="#d7bf59"/><ellipse cx="5.2" cy="59.1" rx="3.0" ry="2.5" transform="rotate(61 5.2 59.1)" fill="#e9e373"/><ellipse cx="3.5" cy="19.5" rx="3.5" ry="2.6" transform="rotate(153 3.5 19.5)" fill="#dacd66"/><ellipse cx="75.5" cy="19.5" rx="3.5" ry="2.6" transform="rotate(153 75.5 19.5)" fill="#dacd66"/><ellipse cx="61.1" cy="56.0" rx="2.8" ry="2.8" transform="rotate(156 61.1 56.0)" fill="#e0cf5c"/><ellipse cx="49.7" cy="21.4" rx="3.5" ry="2.9" transform="rotate(42 49.7 21.4)" fill="#eee473"/><ellipse cx="-2.2" cy="0.0" rx="3.4" ry="2.6" transform="rotate(122 -2.2 0.0)" fill="#dfcd67"/><ellipse cx="-2.2" cy="66.0" rx="3.4" ry="2.6" transform="rotate(122 -2.2 66.0)" fill="#dfcd67"/><ellipse cx="69.8" cy="0.0" rx="3.4" ry="2.6" transform="rotate(122 69.8 0.0)" fill="#dfcd67"/><ellipse cx="69.8" cy="66.0" rx="3.4" ry="2.6" transform="rotate(122 69.8 66.0)" fill="#dfcd67"/><ellipse cx="29.3" cy="21.3" rx="3.4" ry="2.4" transform="rotate(157 29.3 21.3)" fill="#e2cd5c"/><ellipse cx="52.9" cy="12.7" rx="3.2" ry="2.6" transform="rotate(144 52.9 12.7)" fill="#f0dd71"/><ellipse cx="43.4" cy="56.7" rx="3.7" ry="2.3" transform="rotate(102 43.4 56.7)" fill="#ccb946"/><ellipse cx="61.1" cy="14.1" rx="3.4" ry="2.9" transform="rotate(159 61.1 14.1)" fill="#ead768"/><ellipse cx="10.1" cy="32.5" rx="3.4" ry="2.9" transform="rotate(148 10.1 32.5)" fill="#dac859"/><ellipse cx="32.5" cy="36.8" rx="3.2" ry="2.6" transform="rotate(138 32.5 36.8)" fill="#ebd66f"/><ellipse cx="31.1" cy="44.7" rx="3.9" ry="2.2" transform="rotate(17 31.1 44.7)" fill="#d8cc60"/><ellipse cx="39.6" cy="11.2" rx="3.5" ry="2.2" transform="rotate(115 39.6 11.2)" fill="#cfc05a"/><ellipse cx="38.7" cy="49.6" rx="3.5" ry="2.3" transform="rotate(98 38.7 49.6)" fill="#f2df77"/><ellipse cx="56.7" cy="2.9" rx="3.1" ry="2.4" transform="rotate(120 56.7 2.9)" fill="#e0d662"/><ellipse cx="56.7" cy="68.9" rx="3.1" ry="2.4" transform="rotate(120 56.7 68.9)" fill="#e0d662"/><ellipse cx="1.5" cy="55.4" rx="3.6" ry="2.6" transform="rotate(165 1.5 55.4)" fill="#d8c450"/><ellipse cx="73.5" cy="55.4" rx="3.6" ry="2.6" transform="rotate(165 73.5 55.4)" fill="#d8c450"/><ellipse cx="15.5" cy="48.1" rx="3.8" ry="2.7" transform="rotate(134 15.5 48.1)" fill="#f5df7f"/><ellipse cx="4.9" cy="4.2" rx="3.0" ry="2.8" transform="rotate(4 4.9 4.2)" fill="#e3d05d"/><ellipse cx="4.9" cy="70.2" rx="3.0" ry="2.8" transform="rotate(4 4.9 70.2)" fill="#e3d05d"/><ellipse cx="76.9" cy="4.2" rx="3.0" ry="2.8" transform="rotate(4 76.9 4.2)" fill="#e3d05d"/><ellipse cx="76.9" cy="70.2" rx="3.0" ry="2.8" transform="rotate(4 76.9 70.2)" fill="#e3d05d"/><ellipse cx="48.9" cy="15.6" rx="3.4" ry="2.4" transform="rotate(161 48.9 15.6)" fill="#edde6b"/><ellipse cx="14.1" cy="4.6" rx="3.6" ry="2.9" transform="rotate(87 14.1 4.6)" fill="#e6d26b"/><ellipse cx="14.1" cy="70.6" rx="3.6" ry="2.9" transform="rotate(87 14.1 70.6)" fill="#e6d26b"/><ellipse cx="51.2" cy="36.9" rx="3.4" ry="2.5" transform="rotate(93 51.2 36.9)" fill="#e3d069"/><ellipse cx="56.1" cy="22.1" rx="3.7" ry="2.7" transform="rotate(160 56.1 22.1)" fill="#edda6f"/><ellipse cx="31.9" cy="28.2" rx="3.7" ry="2.4" transform="rotate(135 31.9 28.2)" fill="#ede06c"/><ellipse cx="26.6" cy="10.5" rx="2.9" ry="2.6" transform="rotate(123 26.6 10.5)" fill="#f0df73"/><ellipse cx="53.1" cy="47.0" rx="3.2" ry="3.1" transform="rotate(4 53.1 47.0)" fill="#d7cd5e"/><ellipse cx="20.0" cy="-4.2" rx="2.8" ry="3.1" transform="rotate(94 20.0 -4.2)" fill="#ede477"/><ellipse cx="20.0" cy="61.8" rx="2.8" ry="3.1" transform="rotate(94 20.0 61.8)" fill="#ede477"/><ellipse cx="22.2" cy="57.8" rx="3.8" ry="2.9" transform="rotate(81 22.2 57.8)" fill="#d2c14d"/><ellipse cx="39.7" cy="-0.5" rx="3.5" ry="3.1" transform="rotate(136 39.7 -0.5)" fill="#c8bf55"/><ellipse cx="39.7" cy="65.5" rx="3.5" ry="3.1" transform="rotate(136 39.7 65.5)" fill="#c8bf55"/><ellipse cx="1.6" cy="39.4" rx="3.8" ry="2.6" transform="rotate(137 1.6 39.4)" fill="#d8cb68"/><ellipse cx="73.6" cy="39.4" rx="3.8" ry="2.6" transform="rotate(137 73.6 39.4)" fill="#d8cb68"/><ellipse cx="4.5" cy="46.7" rx="2.9" ry="3.0" transform="rotate(168 4.5 46.7)" fill="#e2da69"/><ellipse cx="76.5" cy="46.7" rx="2.9" ry="3.0" transform="rotate(168 76.5 46.7)" fill="#e2da69"/><ellipse cx="59.3" cy="38.0" rx="3.3" ry="2.9" transform="rotate(110 59.3 38.0)" fill="#e1c85d"/><ellipse cx="39.4" cy="39.5" rx="3.8" ry="2.5" transform="rotate(31 39.4 39.5)" fill="#cdc05c"/><ellipse cx="22.6" cy="24.2" rx="3.8" ry="2.2" transform="rotate(20 22.6 24.2)" fill="#ded665"/><ellipse cx="-1.2" cy="20.6" rx="3.1" ry="2.9" transform="rotate(93 -1.2 20.6)" fill="#ebe170"/><ellipse cx="70.8" cy="20.6" rx="3.1" ry="2.9" transform="rotate(93 70.8 20.6)" fill="#ebe170"/><ellipse cx="13.5" cy="24.8" rx="3.1" ry="3.0" transform="rotate(92 13.5 24.8)" fill="#e1cb54"/><ellipse cx="63.8" cy="46.5" rx="2.8" ry="3.0" transform="rotate(174 63.8 46.5)" fill="#e4d360"/><ellipse cx="39.6" cy="28.6" rx="2.9" ry="2.7" transform="rotate(16 39.6 28.6)" fill="#eae670"/><ellipse cx="18.0" cy="34.6" rx="3.7" ry="2.5" transform="rotate(28 18.0 34.6)" fill="#d3cb62"/><ellipse cx="40.7" cy="16.3" rx="3.4" ry="3.0" transform="rotate(169 40.7 16.3)" fill="#d3be5e"/><ellipse cx="65.2" cy="0.4" rx="3.2" ry="2.8" transform="rotate(80 65.2 0.4)" fill="#cec356"/><ellipse cx="65.2" cy="66.4" rx="3.2" ry="2.8" transform="rotate(80 65.2 66.4)" fill="#cec356"/><ellipse cx="35.1" cy="-0.1" rx="3.8" ry="2.4" transform="rotate(87 35.1 -0.1)" fill="#cebe52"/><ellipse cx="35.1" cy="65.9" rx="3.8" ry="2.4" transform="rotate(87 35.1 65.9)" fill="#cebe52"/><ellipse cx="55.0" cy="39.6" rx="3.8" ry="2.2" transform="rotate(152 55.0 39.6)" fill="#d6c152"/><ellipse cx="57.7" cy="49.7" rx="3.9" ry="2.8" transform="rotate(57 57.7 49.7)" fill="#cab854"/><ellipse cx="17.0" cy="15.3" rx="3.5" ry="2.6" transform="rotate(177 17.0 15.3)" fill="#f2e27b"/><ellipse cx="62.3" cy="-2.9" rx="3.2" ry="2.6" transform="rotate(96 62.3 -2.9)" fill="#e1d256"/><ellipse cx="62.3" cy="63.1" rx="3.2" ry="2.6" transform="rotate(96 62.3 63.1)" fill="#e1d256"/><ellipse cx="57.1" cy="59.1" rx="3.8" ry="2.4" transform="rotate(7 57.1 59.1)" fill="#d1c451"/><ellipse cx="35.2" cy="41.4" rx="3.2" ry="2.3" transform="rotate(81 35.2 41.4)" fill="#d1c75c"/><ellipse cx="16.3" cy="0.6" rx="3.2" ry="2.5" transform="rotate(36 16.3 0.6)" fill="#e6d567"/><ellipse cx="16.3" cy="66.6" rx="3.2" ry="2.5" transform="rotate(36 16.3 66.6)" fill="#e6d567"/><ellipse cx="-2.6" cy="11.5" rx="3.1" ry="2.7" transform="rotate(54 -2.6 11.5)" fill="#eee273"/><ellipse cx="69.4" cy="11.5" rx="3.1" ry="2.7" transform="rotate(54 69.4 11.5)" fill="#eee273"/><ellipse cx="-1.2" cy="27.2" rx="3.5" ry="2.5" transform="rotate(102 -1.2 27.2)" fill="#d3ca5a"/><ellipse cx="70.8" cy="27.2" rx="3.5" ry="2.5" transform="rotate(102 70.8 27.2)" fill="#d3ca5a"/><ellipse cx="48.0" cy="25.6" rx="3.8" ry="2.3" transform="rotate(76 48.0 25.6)" fill="#e8d066"/><ellipse cx="61.4" cy="26.6" rx="2.9" ry="2.8" transform="rotate(12 61.4 26.6)" fill="#dac75b"/><ellipse cx="53.2" cy="32.6" rx="3.8" ry="2.3" transform="rotate(95 53.2 32.6)" fill="#ddd055"/><ellipse cx="53.0" cy="56.0" rx="2.9" ry="2.3" transform="rotate(168 53.0 56.0)" fill="#dbd257"/></pattern><pattern id="pel2" width="72" height="66" patternUnits="userSpaceOnUse" x="26" y="14"><rect width="72" height="66" fill="#7e7448"/><ellipse cx="23.3" cy="10.0" rx="3.8" ry="2.3" transform="rotate(51 23.3 10.0)" fill="#d5cb8a"/><ellipse cx="46.9" cy="4.8" rx="3.7" ry="2.9" transform="rotate(149 46.9 4.8)" fill="#dcd68d"/><ellipse cx="46.9" cy="70.8" rx="3.7" ry="2.9" transform="rotate(149 46.9 70.8)" fill="#dcd68d"/><ellipse cx="38.6" cy="24.1" rx="3.2" ry="3.0" transform="rotate(141 38.6 24.1)" fill="#ebe891"/><ellipse cx="4.2" cy="33.5" rx="3.4" ry="3.0" transform="rotate(176 4.2 33.5)" fill="#dfda98"/><ellipse cx="76.2" cy="33.5" rx="3.4" ry="3.0" transform="rotate(176 76.2 33.5)" fill="#dfda98"/><ellipse cx="2.7" cy="28.6" rx="3.3" ry="3.1" transform="rotate(144 2.7 28.6)" fill="#e9de8e"/><ellipse cx="74.7" cy="28.6" rx="3.3" ry="3.1" transform="rotate(144 74.7 28.6)" fill="#e9de8e"/><ellipse cx="5.0" cy="6.0" rx="2.9" ry="2.6" transform="rotate(59 5.0 6.0)" fill="#ece19e"/><ellipse cx="30.6" cy="54.6" rx="3.6" ry="2.5" transform="rotate(157 30.6 54.6)" fill="#dddd84"/><ellipse cx="8.9" cy="14.7" rx="3.7" ry="3.0" transform="rotate(106 8.9 14.7)" fill="#c5c278"/><ellipse cx="45.2" cy="-3.5" rx="3.7" ry="2.6" transform="rotate(109 45.2 -3.5)" fill="#eee79b"/><ellipse cx="45.2" cy="62.5" rx="3.7" ry="2.6" transform="rotate(109 45.2 62.5)" fill="#eee79b"/><ellipse cx="-1.7" cy="3.1" rx="3.2" ry="2.6" transform="rotate(58 -1.7 3.1)" fill="#ddd689"/><ellipse cx="-1.7" cy="69.1" rx="3.2" ry="2.6" transform="rotate(58 -1.7 69.1)" fill="#ddd689"/><ellipse cx="70.3" cy="3.1" rx="3.2" ry="2.6" transform="rotate(58 70.3 3.1)" fill="#ddd689"/><ellipse cx="70.3" cy="69.1" rx="3.2" ry="2.6" transform="rotate(58 70.3 69.1)" fill="#ddd689"/><ellipse cx="61.8" cy="19.1" rx="3.1" ry="3.0" transform="rotate(6 61.8 19.1)" fill="#cdcc80"/><ellipse cx="10.4" cy="7.8" rx="3.5" ry="2.8" transform="rotate(171 10.4 7.8)" fill="#e8dc96"/><ellipse cx="22.2" cy="53.9" rx="3.1" ry="2.8" transform="rotate(60 22.2 53.9)" fill="#e4e58e"/><ellipse cx="13.0" cy="38.4" rx="3.2" ry="2.2" transform="rotate(140 13.0 38.4)" fill="#e1dd91"/><ellipse cx="46.0" cy="24.6" rx="3.6" ry="2.2" transform="rotate(52 46.0 24.6)" fill="#d1d27f"/><ellipse cx="39.4" cy="4.1" rx="3.7" ry="2.6" transform="rotate(164 39.4 4.1)" fill="#e3d989"/><ellipse cx="39.4" cy="70.1" rx="3.7" ry="2.6" transform="rotate(164 39.4 70.1)" fill="#e3d989"/><ellipse cx="4.3" cy="13.6" rx="3.7" ry="2.6" transform="rotate(89 4.3 13.6)" fill="#ded97e"/><ellipse cx="76.3" cy="13.6" rx="3.7" ry="2.6" transform="rotate(89 76.3 13.6)" fill="#ded97e"/><ellipse cx="49.0" cy="28.2" rx="2.9" ry="2.4" transform="rotate(122 49.0 28.2)" fill="#ddd77c"/><ellipse cx="22.6" cy="38.6" rx="3.5" ry="2.4" transform="rotate(100 22.6 38.6)" fill="#cacd7d"/><ellipse cx="32.6" cy="19.8" rx="2.8" ry="2.7" transform="rotate(161 32.6 19.8)" fill="#bcb86b"/><ellipse cx="57.2" cy="46.1" rx="3.7" ry="2.8" transform="rotate(69 57.2 46.1)" fill="#e3df88"/><ellipse cx="17.6" cy="37.9" rx="3.3" ry="2.9" transform="rotate(117 17.6 37.9)" fill="#d9dd88"/><ellipse cx="37.8" cy="57.8" rx="3.0" ry="2.3" transform="rotate(59 37.8 57.8)" fill="#dddb8d"/><ellipse cx="52.5" cy="19.0" rx="3.1" ry="2.8" transform="rotate(82 52.5 19.0)" fill="#e0d283"/><ellipse cx="-1.4" cy="7.8" rx="3.1" ry="2.8" transform="rotate(31 -1.4 7.8)" fill="#ede591"/><ellipse cx="70.6" cy="7.8" rx="3.1" ry="2.8" transform="rotate(31 70.6 7.8)" fill="#ede591"/><ellipse cx="30.1" cy="50.0" rx="3.8" ry="2.7" transform="rotate(34 30.1 50.0)" fill="#ded47e"/><ellipse cx="10.9" cy="32.3" rx="3.1" ry="2.4" transform="rotate(125 10.9 32.3)" fill="#d6d58d"/><ellipse cx="2.8" cy="44.1" rx="3.7" ry="2.2" transform="rotate(85 2.8 44.1)" fill="#e1d988"/><ellipse cx="74.8" cy="44.1" rx="3.7" ry="2.2" transform="rotate(85 74.8 44.1)" fill="#e1d988"/><ellipse cx="55.0" cy="37.8" rx="2.9" ry="2.7" transform="rotate(22 55.0 37.8)" fill="#e4dd91"/><ellipse cx="50.1" cy="39.2" rx="3.4" ry="2.6" transform="rotate(157 50.1 39.2)" fill="#dfd887"/><ellipse cx="41.8" cy="30.1" rx="3.2" ry="2.4" transform="rotate(144 41.8 30.1)" fill="#e8e68f"/><ellipse cx="60.5" cy="-3.7" rx="3.7" ry="3.0" transform="rotate(166 60.5 -3.7)" fill="#dbdf93"/><ellipse cx="60.5" cy="62.3" rx="3.7" ry="3.0" transform="rotate(166 60.5 62.3)" fill="#dbdf93"/><ellipse cx="34.1" cy="43.8" rx="3.8" ry="2.2" transform="rotate(167 34.1 43.8)" fill="#e6df98"/><ellipse cx="27.8" cy="44.1" rx="3.1" ry="2.8" transform="rotate(75 27.8 44.1)" fill="#eadf98"/><ellipse cx="4.2" cy="50.7" rx="3.3" ry="2.4" transform="rotate(21 4.2 50.7)" fill="#e7db8d"/><ellipse cx="76.2" cy="50.7" rx="3.3" ry="2.4" transform="rotate(21 76.2 50.7)" fill="#e7db8d"/><ellipse cx="59.0" cy="57.0" rx="2.9" ry="3.1" transform="rotate(126 59.0 57.0)" fill="#c1c371"/><ellipse cx="20.0" cy="27.4" rx="3.4" ry="2.5" transform="rotate(163 20.0 27.4)" fill="#bdbc72"/><ellipse cx="25.8" cy="58.4" rx="3.1" ry="2.9" transform="rotate(18 25.8 58.4)" fill="#d2d48b"/><ellipse cx="16.8" cy="32.0" rx="3.2" ry="3.1" transform="rotate(162 16.8 32.0)" fill="#ebe294"/><ellipse cx="42.4" cy="17.3" rx="3.1" ry="2.6" transform="rotate(59 42.4 17.3)" fill="#dde099"/><ellipse cx="-3.4" cy="45.6" rx="3.0" ry="2.5" transform="rotate(134 -3.4 45.6)" fill="#e4d787"/><ellipse cx="68.6" cy="45.6" rx="3.0" ry="2.5" transform="rotate(134 68.6 45.6)" fill="#e4d787"/><ellipse cx="64.8" cy="51.5" rx="3.4" ry="2.7" transform="rotate(138 64.8 51.5)" fill="#c0bc72"/><ellipse cx="28.3" cy="26.3" rx="3.0" ry="2.6" transform="rotate(14 28.3 26.3)" fill="#ecea91"/><ellipse cx="7.5" cy="41.9" rx="3.1" ry="2.7" transform="rotate(151 7.5 41.9)" fill="#c6bb6d"/><ellipse cx="15.0" cy="10.7" rx="3.9" ry="2.8" transform="rotate(35 15.0 10.7)" fill="#e0db8a"/><ellipse cx="24.5" cy="3.5" rx="2.9" ry="2.5" transform="rotate(178 24.5 3.5)" fill="#dcd582"/><ellipse cx="24.5" cy="69.5" rx="2.9" ry="2.5" transform="rotate(178 24.5 69.5)" fill="#dcd582"/><ellipse cx="7.3" cy="24.0" rx="3.1" ry="2.8" transform="rotate(142 7.3 24.0)" fill="#e3e08d"/><ellipse cx="1.8" cy="57.7" rx="3.2" ry="2.4" transform="rotate(180 1.8 57.7)" fill="#d4cc87"/><ellipse cx="73.8" cy="57.7" rx="3.2" ry="2.4" transform="rotate(180 73.8 57.7)" fill="#d4cc87"/><ellipse cx="44.2" cy="9.8" rx="3.7" ry="2.6" transform="rotate(78 44.2 9.8)" fill="#cfc56f"/><ellipse cx="18.2" cy="22.9" rx="3.4" ry="2.3" transform="rotate(126 18.2 22.9)" fill="#d0ca81"/><ellipse cx="33.6" cy="31.9" rx="3.8" ry="2.4" transform="rotate(62 33.6 31.9)" fill="#e8dc94"/><ellipse cx="24.7" cy="17.5" rx="3.9" ry="2.7" transform="rotate(130 24.7 17.5)" fill="#cacb79"/><ellipse cx="59.7" cy="10.7" rx="3.8" ry="2.7" transform="rotate(100 59.7 10.7)" fill="#e9e596"/><ellipse cx="1.7" cy="-3.2" rx="3.1" ry="2.5" transform="rotate(64 1.7 -3.2)" fill="#beb771"/><ellipse cx="1.7" cy="62.8" rx="3.1" ry="2.5" transform="rotate(64 1.7 62.8)" fill="#beb771"/><ellipse cx="73.7" cy="-3.2" rx="3.1" ry="2.5" transform="rotate(64 73.7 -3.2)" fill="#beb771"/><ellipse cx="73.7" cy="62.8" rx="3.1" ry="2.5" transform="rotate(64 73.7 62.8)" fill="#beb771"/><ellipse cx="38.0" cy="9.7" rx="3.8" ry="2.9" transform="rotate(111 38.0 9.7)" fill="#dbd594"/><ellipse cx="38.0" cy="-1.4" rx="3.8" ry="2.9" transform="rotate(133 38.0 -1.4)" fill="#e3d98a"/><ellipse cx="38.0" cy="64.6" rx="3.8" ry="2.9" transform="rotate(133 38.0 64.6)" fill="#e3d98a"/><ellipse cx="62.2" cy="45.9" rx="3.9" ry="2.7" transform="rotate(126 62.2 45.9)" fill="#d7d57f"/><ellipse cx="12.0" cy="50.9" rx="3.1" ry="2.5" transform="rotate(112 12.0 50.9)" fill="#ebe390"/><ellipse cx="38.3" cy="51.4" rx="3.5" ry="2.5" transform="rotate(109 38.3 51.4)" fill="#dee291"/><ellipse cx="2.0" cy="18.4" rx="3.1" ry="3.1" transform="rotate(115 2.0 18.4)" fill="#c0c47b"/><ellipse cx="74.0" cy="18.4" rx="3.1" ry="3.1" transform="rotate(115 74.0 18.4)" fill="#c0c47b"/><ellipse cx="18.7" cy="45.7" rx="3.8" ry="3.1" transform="rotate(26 18.7 45.7)" fill="#c9c385"/><ellipse cx="-3.1" cy="29.5" rx="3.4" ry="2.7" transform="rotate(169 -3.1 29.5)" fill="#cdcd7f"/><ellipse cx="68.9" cy="29.5" rx="3.4" ry="2.7" transform="rotate(169 68.9 29.5)" fill="#cdcd7f"/><ellipse cx="-4.5" cy="-0.8" rx="3.2" ry="2.2" transform="rotate(156 -4.5 -0.8)" fill="#d7d38a"/><ellipse cx="-4.5" cy="65.2" rx="3.2" ry="2.2" transform="rotate(156 -4.5 65.2)" fill="#d7d38a"/><ellipse cx="67.5" cy="-0.8" rx="3.2" ry="2.2" transform="rotate(156 67.5 -0.8)" fill="#d7d38a"/><ellipse cx="67.5" cy="65.2" rx="3.2" ry="2.2" transform="rotate(156 67.5 65.2)" fill="#d7d38a"/><ellipse cx="-3.2" cy="24.1" rx="2.9" ry="2.8" transform="rotate(154 -3.2 24.1)" fill="#d7cb88"/><ellipse cx="68.8" cy="24.1" rx="2.9" ry="2.8" transform="rotate(154 68.8 24.1)" fill="#d7cb88"/><ellipse cx="60.5" cy="31.6" rx="3.7" ry="2.8" transform="rotate(166 60.5 31.6)" fill="#d0cb7f"/><ellipse cx="47.0" cy="52.8" rx="3.9" ry="2.8" transform="rotate(47 47.0 52.8)" fill="#caca7b"/><ellipse cx="54.0" cy="31.6" rx="3.2" ry="2.5" transform="rotate(71 54.0 31.6)" fill="#c7c672"/><ellipse cx="28.9" cy="-3.5" rx="3.1" ry="2.3" transform="rotate(39 28.9 -3.5)" fill="#e7e58e"/><ellipse cx="28.9" cy="62.5" rx="3.1" ry="2.3" transform="rotate(39 28.9 62.5)" fill="#e7e58e"/><ellipse cx="52.2" cy="11.2" rx="3.0" ry="2.9" transform="rotate(127 52.2 11.2)" fill="#ddd984"/><ellipse cx="9.4" cy="0.9" rx="3.3" ry="2.3" transform="rotate(16 9.4 0.9)" fill="#c9cb82"/><ellipse cx="9.4" cy="66.9" rx="3.3" ry="2.3" transform="rotate(16 9.4 66.9)" fill="#c9cb82"/><ellipse cx="9.4" cy="60.1" rx="3.6" ry="2.7" transform="rotate(43 9.4 60.1)" fill="#d8d688"/><ellipse cx="25.5" cy="30.2" rx="3.9" ry="2.3" transform="rotate(66 25.5 30.2)" fill="#d0ca7e"/><ellipse cx="31.7" cy="12.1" rx="2.8" ry="2.7" transform="rotate(180 31.7 12.1)" fill="#e6dc96"/><ellipse cx="0.3" cy="52.7" rx="3.6" ry="2.5" transform="rotate(1 0.3 52.7)" fill="#d8cd8b"/><ellipse cx="72.3" cy="52.7" rx="3.6" ry="2.5" transform="rotate(1 72.3 52.7)" fill="#d8cd8b"/><ellipse cx="23.5" cy="34.2" rx="3.6" ry="2.7" transform="rotate(168 23.5 34.2)" fill="#e3e194"/><ellipse cx="7.6" cy="37.0" rx="3.7" ry="2.5" transform="rotate(136 7.6 37.0)" fill="#e2de91"/><ellipse cx="17.9" cy="18.3" rx="3.8" ry="3.0" transform="rotate(179 17.9 18.3)" fill="#ebe29d"/><ellipse cx="50.3" cy="57.9" rx="3.6" ry="2.7" transform="rotate(126 50.3 57.9)" fill="#dfdf8b"/><ellipse cx="-4.2" cy="17.1" rx="2.9" ry="2.8" transform="rotate(29 -4.2 17.1)" fill="#c5be7f"/><ellipse cx="67.8" cy="17.1" rx="2.9" ry="2.8" transform="rotate(29 67.8 17.1)" fill="#c5be7f"/><ellipse cx="15.8" cy="-3.1" rx="3.9" ry="2.7" transform="rotate(146 15.8 -3.1)" fill="#ece69b"/><ellipse cx="15.8" cy="62.9" rx="3.9" ry="2.7" transform="rotate(146 15.8 62.9)" fill="#ece69b"/><ellipse cx="14.1" cy="21.0" rx="3.6" ry="2.7" transform="rotate(14 14.1 21.0)" fill="#d7d089"/><ellipse cx="52.0" cy="1.3" rx="3.4" ry="2.4" transform="rotate(176 52.0 1.3)" fill="#e1de8a"/><ellipse cx="52.0" cy="67.3" rx="3.4" ry="2.4" transform="rotate(176 52.0 67.3)" fill="#e1de8a"/><ellipse cx="44.9" cy="33.8" rx="3.6" ry="2.8" transform="rotate(130 44.9 33.8)" fill="#beb474"/><ellipse cx="41.1" cy="46.2" rx="3.1" ry="3.0" transform="rotate(28 41.1 46.2)" fill="#bebc75"/><ellipse cx="37.9" cy="15.7" rx="3.5" ry="3.0" transform="rotate(70 37.9 15.7)" fill="#d4d27a"/><ellipse cx="18.0" cy="1.0" rx="3.1" ry="2.8" transform="rotate(15 18.0 1.0)" fill="#dedb94"/><ellipse cx="18.0" cy="67.0" rx="3.1" ry="2.8" transform="rotate(15 18.0 67.0)" fill="#dedb94"/><ellipse cx="6.1" cy="55.5" rx="3.5" ry="2.2" transform="rotate(39 6.1 55.5)" fill="#e2de89"/><ellipse cx="-2.0" cy="36.1" rx="3.6" ry="3.0" transform="rotate(160 -2.0 36.1)" fill="#ccc778"/><ellipse cx="70.0" cy="36.1" rx="3.6" ry="3.0" transform="rotate(160 70.0 36.1)" fill="#ccc778"/><ellipse cx="3.0" cy="1.5" rx="3.0" ry="2.4" transform="rotate(103 3.0 1.5)" fill="#d2d48c"/><ellipse cx="3.0" cy="67.5" rx="3.0" ry="2.4" transform="rotate(103 3.0 67.5)" fill="#d2d48c"/><ellipse cx="75.0" cy="1.5" rx="3.0" ry="2.4" transform="rotate(103 75.0 1.5)" fill="#d2d48c"/><ellipse cx="75.0" cy="67.5" rx="3.0" ry="2.4" transform="rotate(103 75.0 67.5)" fill="#d2d48c"/><ellipse cx="28.0" cy="21.5" rx="3.9" ry="2.7" transform="rotate(128 28.0 21.5)" fill="#b9b471"/><ellipse cx="64.2" cy="41.4" rx="3.6" ry="3.0" transform="rotate(24 64.2 41.4)" fill="#e8e498"/><ellipse cx="52.8" cy="53.6" rx="3.3" ry="2.4" transform="rotate(127 52.8 53.6)" fill="#dbd688"/><ellipse cx="49.2" cy="45.8" rx="3.5" ry="2.5" transform="rotate(159 49.2 45.8)" fill="#d2cb87"/><ellipse cx="40.2" cy="41.4" rx="3.0" ry="2.8" transform="rotate(45 40.2 41.4)" fill="#c2bc75"/><ellipse cx="33.6" cy="7.8" rx="3.3" ry="2.4" transform="rotate(125 33.6 7.8)" fill="#e9e09b"/><ellipse cx="64.3" cy="13.2" rx="3.3" ry="2.5" transform="rotate(122 64.3 13.2)" fill="#d3cc7c"/><ellipse cx="20.6" cy="-4.3" rx="3.0" ry="2.9" transform="rotate(34 20.6 -4.3)" fill="#d0c56f"/><ellipse cx="20.6" cy="61.7" rx="3.0" ry="2.9" transform="rotate(34 20.6 61.7)" fill="#d0c56f"/><ellipse cx="54.2" cy="42.5" rx="3.2" ry="2.9" transform="rotate(8 54.2 42.5)" fill="#e3db8f"/><ellipse cx="47.2" cy="19.9" rx="2.8" ry="3.0" transform="rotate(59 47.2 19.9)" fill="#e3d689"/><ellipse cx="29.8" cy="34.6" rx="3.7" ry="3.0" transform="rotate(136 29.8 34.6)" fill="#e6dc8a"/><ellipse cx="-3.3" cy="56.0" rx="3.9" ry="2.6" transform="rotate(71 -3.3 56.0)" fill="#e6e395"/><ellipse cx="68.7" cy="56.0" rx="3.9" ry="2.6" transform="rotate(71 68.7 56.0)" fill="#e6e395"/><ellipse cx="62.8" cy="1.4" rx="3.0" ry="2.9" transform="rotate(142 62.8 1.4)" fill="#d3c980"/><ellipse cx="62.8" cy="67.4" rx="3.0" ry="2.9" transform="rotate(142 62.8 67.4)" fill="#d3c980"/><ellipse cx="42.3" cy="0.0" rx="3.4" ry="2.7" transform="rotate(34 42.3 0.0)" fill="#d0cb78"/><ellipse cx="42.3" cy="66.0" rx="3.4" ry="2.7" transform="rotate(34 42.3 66.0)" fill="#d0cb78"/><ellipse cx="59.0" cy="15.2" rx="3.3" ry="2.7" transform="rotate(139 59.0 15.2)" fill="#ece491"/><ellipse cx="64.7" cy="58.3" rx="3.1" ry="3.0" transform="rotate(52 64.7 58.3)" fill="#e0dd91"/><ellipse cx="-3.0" cy="40.7" rx="3.7" ry="2.4" transform="rotate(149 -3.0 40.7)" fill="#e3d98d"/><ellipse cx="69.0" cy="40.7" rx="3.7" ry="2.4" transform="rotate(149 69.0 40.7)" fill="#e3d98d"/><ellipse cx="59.2" cy="51.0" rx="3.6" ry="2.5" transform="rotate(139 59.2 51.0)" fill="#e7db87"/><ellipse cx="23.0" cy="23.9" rx="3.5" ry="2.7" transform="rotate(100 23.0 23.9)" fill="#ccc079"/><ellipse cx="56.3" cy="5.2" rx="3.4" ry="3.1" transform="rotate(33 56.3 5.2)" fill="#ede89d"/><ellipse cx="19.1" cy="5.5" rx="3.2" ry="2.7" transform="rotate(151 19.1 5.5)" fill="#dfdb8c"/><ellipse cx="46.9" cy="13.4" rx="3.7" ry="2.3" transform="rotate(177 46.9 13.4)" fill="#eae196"/><ellipse cx="11.8" cy="45.9" rx="3.3" ry="2.6" transform="rotate(41 11.8 45.9)" fill="#c2bb74"/><ellipse cx="34.8" cy="3.5" rx="3.1" ry="2.9" transform="rotate(91 34.8 3.5)" fill="#e6e09c"/><ellipse cx="34.8" cy="69.5" rx="3.1" ry="2.9" transform="rotate(91 34.8 69.5)" fill="#e6e09c"/><ellipse cx="62.9" cy="36.6" rx="3.4" ry="2.4" transform="rotate(154 62.9 36.6)" fill="#eada8a"/><ellipse cx="24.2" cy="49.5" rx="3.5" ry="2.9" transform="rotate(30 24.2 49.5)" fill="#ece693"/><ellipse cx="53.6" cy="-3.6" rx="2.9" ry="3.0" transform="rotate(1 53.6 -3.6)" fill="#e4de8b"/><ellipse cx="53.6" cy="62.4" rx="2.9" ry="3.0" transform="rotate(1 53.6 62.4)" fill="#e4de8b"/><ellipse cx="62.1" cy="6.0" rx="3.7" ry="3.0" transform="rotate(44 62.1 6.0)" fill="#cec982"/><ellipse cx="20.4" cy="14.2" rx="3.2" ry="2.6" transform="rotate(91 20.4 14.2)" fill="#c7c273"/><ellipse cx="11.2" cy="55.6" rx="3.1" ry="2.3" transform="rotate(50 11.2 55.6)" fill="#c4c66c"/><ellipse cx="56.0" cy="25.7" rx="3.4" ry="2.3" transform="rotate(128 56.0 25.7)" fill="#d9ce7f"/><ellipse cx="33.8" cy="37.1" rx="3.1" ry="2.6" transform="rotate(144 33.8 37.1)" fill="#e9df8f"/><ellipse cx="60.0" cy="23.4" rx="3.0" ry="2.3" transform="rotate(100 60.0 23.4)" fill="#ddd287"/><ellipse cx="16.8" cy="51.2" rx="3.3" ry="2.6" transform="rotate(120 16.8 51.2)" fill="#e3e793"/><ellipse cx="45.9" cy="42.0" rx="3.4" ry="3.0" transform="rotate(74 45.9 42.0)" fill="#e5e493"/><ellipse cx="23.8" cy="-1.2" rx="2.8" ry="2.8" transform="rotate(8 23.8 -1.2)" fill="#c2c07a"/><ellipse cx="23.8" cy="64.8" rx="2.8" ry="2.8" transform="rotate(8 23.8 64.8)" fill="#c2c07a"/><ellipse cx="7.0" cy="19.1" rx="3.8" ry="2.8" transform="rotate(97 7.0 19.1)" fill="#c2b974"/><ellipse cx="14.6" cy="4.3" rx="3.5" ry="2.9" transform="rotate(99 14.6 4.3)" fill="#d1c774"/><ellipse cx="14.6" cy="70.3" rx="3.5" ry="2.9" transform="rotate(99 14.6 70.3)" fill="#d1c774"/><ellipse cx="1.3" cy="39.6" rx="3.6" ry="2.9" transform="rotate(50 1.3 39.6)" fill="#d2c675"/><ellipse cx="73.3" cy="39.6" rx="3.6" ry="2.9" transform="rotate(50 73.3 39.6)" fill="#d2c675"/><ellipse cx="42.6" cy="56.8" rx="3.8" ry="2.7" transform="rotate(50 42.6 56.8)" fill="#e2db99"/><ellipse cx="37.5" cy="28.6" rx="3.7" ry="2.7" transform="rotate(0 37.5 28.6)" fill="#bcbb6f"/><ellipse cx="27.6" cy="38.7" rx="3.4" ry="2.4" transform="rotate(40 27.6 38.7)" fill="#e0e59d"/><ellipse cx="53.2" cy="49.1" rx="2.9" ry="2.8" transform="rotate(18 53.2 49.1)" fill="#ddd58a"/><ellipse cx="65.9" cy="8.4" rx="3.5" ry="2.7" transform="rotate(146 65.9 8.4)" fill="#d2c981"/><ellipse cx="63.9" cy="27.8" rx="3.1" ry="2.4" transform="rotate(77 63.9 27.8)" fill="#c8c36c"/><ellipse cx="51.5" cy="23.4" rx="3.4" ry="2.6" transform="rotate(97 51.5 23.4)" fill="#ddd783"/><ellipse cx="29.0" cy="4.3" rx="3.8" ry="2.6" transform="rotate(98 29.0 4.3)" fill="#e6dd8c"/><ellipse cx="29.0" cy="70.3" rx="3.8" ry="2.6" transform="rotate(98 29.0 70.3)" fill="#e6dd8c"/><ellipse cx="23.1" cy="43.7" rx="3.0" ry="2.7" transform="rotate(32 23.1 43.7)" fill="#dfd18f"/><ellipse cx="33.1" cy="-0.9" rx="3.8" ry="2.3" transform="rotate(171 33.1 -0.9)" fill="#cdc479"/><ellipse cx="33.1" cy="65.1" rx="3.8" ry="2.3" transform="rotate(171 33.1 65.1)" fill="#cdc479"/><ellipse cx="15.1" cy="58.3" rx="3.3" ry="2.5" transform="rotate(97 15.1 58.3)" fill="#c1bb6b"/><ellipse cx="39.2" cy="36.2" rx="3.1" ry="2.7" transform="rotate(149 39.2 36.2)" fill="#eae88e"/><ellipse cx="14.5" cy="27.9" rx="3.7" ry="3.1" transform="rotate(161 14.5 27.9)" fill="#c3b56c"/><ellipse cx="-0.8" cy="12.5" rx="3.0" ry="2.9" transform="rotate(85 -0.8 12.5)" fill="#d8cf81"/><ellipse cx="71.2" cy="12.5" rx="3.0" ry="2.9" transform="rotate(85 71.2 12.5)" fill="#d8cf81"/><ellipse cx="65.3" cy="32.9" rx="3.9" ry="2.9" transform="rotate(73 65.3 32.9)" fill="#ebe191"/><ellipse cx="59.2" cy="39.7" rx="3.4" ry="2.8" transform="rotate(55 59.2 39.7)" fill="#ccc87e"/><ellipse cx="33.3" cy="26.5" rx="3.7" ry="2.8" transform="rotate(126 33.3 26.5)" fill="#dddd86"/><ellipse cx="-2.7" cy="60.9" rx="3.9" ry="2.6" transform="rotate(131 -2.7 60.9)" fill="#d0c482"/><ellipse cx="69.3" cy="60.9" rx="3.9" ry="2.6" transform="rotate(131 69.3 60.9)" fill="#d0c482"/><ellipse cx="34.7" cy="48.3" rx="3.6" ry="3.0" transform="rotate(79 34.7 48.3)" fill="#d8cc8b"/><ellipse cx="56.9" cy="20.2" rx="3.7" ry="2.7" transform="rotate(118 56.9 20.2)" fill="#e1d384"/><ellipse cx="7.2" cy="46.8" rx="3.0" ry="2.2" transform="rotate(48 7.2 46.8)" fill="#c3bd73"/><ellipse cx="42.9" cy="51.2" rx="2.9" ry="2.4" transform="rotate(109 42.9 51.2)" fill="#e8d78b"/><ellipse cx="50.5" cy="34.3" rx="3.6" ry="2.6" transform="rotate(54 50.5 34.3)" fill="#d2ca7a"/><ellipse cx="1.6" cy="23.2" rx="3.7" ry="2.7" transform="rotate(42 1.6 23.2)" fill="#c4bc72"/><ellipse cx="73.6" cy="23.2" rx="3.7" ry="2.7" transform="rotate(42 73.6 23.2)" fill="#c4bc72"/><ellipse cx="15.0" cy="42.7" rx="3.7" ry="2.8" transform="rotate(168 15.0 42.7)" fill="#e8e090"/><ellipse cx="33.5" cy="59.5" rx="3.0" ry="3.1" transform="rotate(126 33.5 59.5)" fill="#e8e29f"/><ellipse cx="29.6" cy="16.3" rx="3.3" ry="2.6" transform="rotate(72 29.6 16.3)" fill="#c1bc76"/><ellipse cx="13.8" cy="16.1" rx="3.4" ry="2.7" transform="rotate(40 13.8 16.1)" fill="#d2c478"/><ellipse cx="51.4" cy="5.7" rx="3.4" ry="2.7" transform="rotate(100 51.4 5.7)" fill="#ccc36d"/><ellipse cx="58.0" cy="0.8" rx="3.7" ry="2.4" transform="rotate(29 58.0 0.8)" fill="#dade8a"/><ellipse cx="58.0" cy="66.8" rx="3.7" ry="2.4" transform="rotate(29 58.0 66.8)" fill="#dade8a"/><ellipse cx="7.5" cy="28.9" rx="3.4" ry="2.4" transform="rotate(95 7.5 28.9)" fill="#b7b56a"/><ellipse cx="27.7" cy="8.9" rx="3.1" ry="2.3" transform="rotate(162 27.7 8.9)" fill="#cbc57c"/><ellipse cx="43.7" cy="38.1" rx="3.8" ry="2.5" transform="rotate(54 43.7 38.1)" fill="#dfd98c"/><ellipse cx="0.7" cy="48.0" rx="3.0" ry="2.4" transform="rotate(1 0.7 48.0)" fill="#cdcd83"/><ellipse cx="72.7" cy="48.0" rx="3.0" ry="2.4" transform="rotate(1 72.7 48.0)" fill="#cdcd83"/></pattern><pattern id="pel3" width="72" height="66" patternUnits="userSpaceOnUse" x="39" y="21"><rect width="72" height="66" fill="#96823e"/><ellipse cx="16.3" cy="-2.5" rx="2.8" ry="2.7" transform="rotate(39 16.3 -2.5)" fill="#f0e885"/><ellipse cx="16.3" cy="63.5" rx="2.8" ry="2.7" transform="rotate(39 16.3 63.5)" fill="#f0e885"/><ellipse cx="9.1" cy="46.5" rx="3.5" ry="2.3" transform="rotate(35 9.1 46.5)" fill="#cfc56b"/><ellipse cx="6.1" cy="16.3" rx="3.0" ry="2.9" transform="rotate(123 6.1 16.3)" fill="#e4cb77"/><ellipse cx="-0.1" cy="13.8" rx="3.2" ry="2.5" transform="rotate(105 -0.1 13.8)" fill="#e5d184"/><ellipse cx="71.9" cy="13.8" rx="3.2" ry="2.5" transform="rotate(105 71.9 13.8)" fill="#e5d184"/><ellipse cx="46.2" cy="30.3" rx="3.8" ry="3.1" transform="rotate(104 46.2 30.3)" fill="#e1d37c"/><ellipse cx="32.6" cy="32.7" rx="3.7" ry="3.1" transform="rotate(90 32.6 32.7)" fill="#ebe382"/><ellipse cx="13.8" cy="54.8" rx="3.7" ry="2.3" transform="rotate(74 13.8 54.8)" fill="#e7d082"/><ellipse cx="29.4" cy="59.5" rx="3.8" ry="3.0" transform="rotate(136 29.4 59.5)" fill="#eee284"/><ellipse cx="27.3" cy="7.5" rx="3.4" ry="2.5" transform="rotate(74 27.3 7.5)" fill="#e1d670"/><ellipse cx="4.5" cy="40.9" rx="3.5" ry="3.0" transform="rotate(175 4.5 40.9)" fill="#dfdb7a"/><ellipse cx="76.5" cy="40.9" rx="3.5" ry="3.0" transform="rotate(175 76.5 40.9)" fill="#dfdb7a"/><ellipse cx="27.2" cy="43.6" rx="3.2" ry="2.7" transform="rotate(158 27.2 43.6)" fill="#dbd06e"/><ellipse cx="35.8" cy="42.9" rx="3.2" ry="2.6" transform="rotate(161 35.8 42.9)" fill="#ddd47a"/><ellipse cx="64.9" cy="38.4" rx="3.4" ry="2.3" transform="rotate(116 64.9 38.4)" fill="#e2d16a"/><ellipse cx="10.2" cy="4.2" rx="3.5" ry="2.8" transform="rotate(115 10.2 4.2)" fill="#cec067"/><ellipse cx="10.2" cy="70.2" rx="3.5" ry="2.8" transform="rotate(115 10.2 70.2)" fill="#cec067"/><ellipse cx="-3.9" cy="32.3" rx="2.9" ry="2.6" transform="rotate(166 -3.9 32.3)" fill="#e7d66e"/><ellipse cx="68.1" cy="32.3" rx="2.9" ry="2.6" transform="rotate(166 68.1 32.3)" fill="#e7d66e"/><ellipse cx="41.7" cy="48.1" rx="3.0" ry="2.6" transform="rotate(104 41.7 48.1)" fill="#d2bf66"/><ellipse cx="63.4" cy="18.9" rx="3.6" ry="2.7" transform="rotate(63 63.4 18.9)" fill="#cdb451"/><ellipse cx="50.6" cy="-3.3" rx="3.6" ry="2.6" transform="rotate(76 50.6 -3.3)" fill="#eee08f"/><ellipse cx="50.6" cy="62.7" rx="3.6" ry="2.6" transform="rotate(76 50.6 62.7)" fill="#eee08f"/><ellipse cx="60.7" cy="33.2" rx="3.5" ry="2.2" transform="rotate(15 60.7 33.2)" fill="#e0d97c"/><ellipse cx="14.2" cy="9.9" rx="3.4" ry="2.9" transform="rotate(42 14.2 9.9)" fill="#dac767"/><ellipse cx="38.1" cy="33.6" rx="3.6" ry="2.6" transform="rotate(85 38.1 33.6)" fill="#ecdb77"/><ellipse cx="5.1" cy="59.6" rx="3.0" ry="2.9" transform="rotate(102 5.1 59.6)" fill="#ebdc7d"/><ellipse cx="15.8" cy="16.1" rx="3.1" ry="2.8" transform="rotate(143 15.8 16.1)" fill="#ecde8e"/><ellipse cx="0.9" cy="22.7" rx="3.9" ry="2.8" transform="rotate(32 0.9 22.7)" fill="#dcd07d"/><ellipse cx="72.9" cy="22.7" rx="3.9" ry="2.8" transform="rotate(32 72.9 22.7)" fill="#dcd07d"/><ellipse cx="19.2" cy="27.9" rx="3.5" ry="2.3" transform="rotate(175 19.2 27.9)" fill="#e7de7e"/><ellipse cx="27.1" cy="55.1" rx="3.7" ry="2.8" transform="rotate(168 27.1 55.1)" fill="#ccb85f"/><ellipse cx="64.2" cy="11.6" rx="3.0" ry="2.2" transform="rotate(152 64.2 11.6)" fill="#e4d274"/><ellipse cx="21.6" cy="0.9" rx="3.5" ry="2.4" transform="rotate(39 21.6 0.9)" fill="#e3dc85"/><ellipse cx="21.6" cy="66.9" rx="3.5" ry="2.4" transform="rotate(39 21.6 66.9)" fill="#e3dc85"/><ellipse cx="55.0" cy="22.6" rx="3.5" ry="2.6" transform="rotate(165 55.0 22.6)" fill="#e3d87e"/><ellipse cx="12.3" cy="28.8" rx="2.9" ry="3.0" transform="rotate(8 12.3 28.8)" fill="#ece183"/><ellipse cx="32.1" cy="27.6" rx="3.2" ry="2.8" transform="rotate(48 32.1 27.6)" fill="#d4c360"/><ellipse cx="42.4" cy="19.1" rx="3.8" ry="3.1" transform="rotate(16 42.4 19.1)" fill="#c9b351"/><ellipse cx="7.7" cy="34.4" rx="3.7" ry="2.8" transform="rotate(72 7.7 34.4)" fill="#d8cd73"/><ellipse cx="-1.4" cy="4.2" rx="3.3" ry="2.7" transform="rotate(78 -1.4 4.2)" fill="#d0c05e"/><ellipse cx="-1.4" cy="70.2" rx="3.3" ry="2.7" transform="rotate(78 -1.4 70.2)" fill="#d0c05e"/><ellipse cx="70.6" cy="4.2" rx="3.3" ry="2.7" transform="rotate(78 70.6 4.2)" fill="#d0c05e"/><ellipse cx="70.6" cy="70.2" rx="3.3" ry="2.7" transform="rotate(78 70.6 70.2)" fill="#d0c05e"/><ellipse cx="1.2" cy="9.3" rx="3.6" ry="2.7" transform="rotate(123 1.2 9.3)" fill="#eae57b"/><ellipse cx="73.2" cy="9.3" rx="3.6" ry="2.7" transform="rotate(123 73.2 9.3)" fill="#eae57b"/><ellipse cx="27.8" cy="37.9" rx="3.7" ry="2.2" transform="rotate(113 27.8 37.9)" fill="#e8d876"/><ellipse cx="60.2" cy="13.9" rx="3.1" ry="2.7" transform="rotate(89 60.2 13.9)" fill="#d0b556"/><ellipse cx="63.0" cy="2.2" rx="3.9" ry="2.7" transform="rotate(175 63.0 2.2)" fill="#e2c973"/><ellipse cx="63.0" cy="68.2" rx="3.9" ry="2.7" transform="rotate(175 63.0 68.2)" fill="#e2c973"/><ellipse cx="-2.5" cy="50.1" rx="3.3" ry="2.3" transform="rotate(156 -2.5 50.1)" fill="#e8d474"/><ellipse cx="69.5" cy="50.1" rx="3.3" ry="2.3" transform="rotate(156 69.5 50.1)" fill="#e8d474"/><ellipse cx="-0.7" cy="38.3" rx="3.8" ry="2.6" transform="rotate(4 -0.7 38.3)" fill="#f2da8a"/><ellipse cx="71.3" cy="38.3" rx="3.8" ry="2.6" transform="rotate(4 71.3 38.3)" fill="#f2da8a"/><ellipse cx="31.8" cy="5.5" rx="3.0" ry="2.8" transform="rotate(24 31.8 5.5)" fill="#d7c96a"/><ellipse cx="34.1" cy="10.2" rx="2.9" ry="3.0" transform="rotate(168 34.1 10.2)" fill="#e0cf6f"/><ellipse cx="31.6" cy="47.9" rx="2.8" ry="2.9" transform="rotate(55 31.6 47.9)" fill="#d0c060"/><ellipse cx="51.5" cy="31.1" rx="3.4" ry="2.4" transform="rotate(11 51.5 31.1)" fill="#ddc36c"/><ellipse cx="28.4" cy="23.8" rx="3.4" ry="2.6" transform="rotate(121 28.4 23.8)" fill="#e3cc79"/><ellipse cx="52.2" cy="46.7" rx="3.5" ry="2.4" transform="rotate(172 52.2 46.7)" fill="#dfce74"/><ellipse cx="44.0" cy="1.5" rx="3.8" ry="2.8" transform="rotate(120 44.0 1.5)" fill="#d5c46e"/><ellipse cx="44.0" cy="67.5" rx="3.8" ry="2.8" transform="rotate(120 44.0 67.5)" fill="#d5c46e"/><ellipse cx="26.2" cy="28.5" rx="3.3" ry="2.4" transform="rotate(59 26.2 28.5)" fill="#ddcd6b"/><ellipse cx="6.7" cy="-2.1" rx="3.7" ry="2.7" transform="rotate(38 6.7 -2.1)" fill="#e4d477"/><ellipse cx="6.7" cy="63.9" rx="3.7" ry="2.7" transform="rotate(38 6.7 63.9)" fill="#e4d477"/><ellipse cx="50.8" cy="13.2" rx="3.7" ry="3.1" transform="rotate(132 50.8 13.2)" fill="#e8da8a"/><ellipse cx="16.5" cy="34.7" rx="3.7" ry="2.2" transform="rotate(120 16.5 34.7)" fill="#d2b767"/><ellipse cx="66.8" cy="-1.2" rx="3.8" ry="2.9" transform="rotate(56 66.8 -1.2)" fill="#d2bf61"/><ellipse cx="66.8" cy="64.8" rx="3.8" ry="2.9" transform="rotate(56 66.8 64.8)" fill="#d2bf61"/><ellipse cx="39.4" cy="-1.5" rx="3.2" ry="3.0" transform="rotate(115 39.4 -1.5)" fill="#ddc868"/><ellipse cx="39.4" cy="64.5" rx="3.2" ry="3.0" transform="rotate(115 39.4 64.5)" fill="#ddc868"/><ellipse cx="45.0" cy="-2.8" rx="3.6" ry="3.0" transform="rotate(110 45.0 -2.8)" fill="#d9c76c"/><ellipse cx="45.0" cy="63.2" rx="3.6" ry="3.0" transform="rotate(110 45.0 63.2)" fill="#d9c76c"/><ellipse cx="26.6" cy="-2.7" rx="3.2" ry="2.9" transform="rotate(127 26.6 -2.7)" fill="#e3d37e"/><ellipse cx="26.6" cy="63.3" rx="3.2" ry="2.9" transform="rotate(127 26.6 63.3)" fill="#e3d37e"/><ellipse cx="20.9" cy="40.5" rx="3.7" ry="2.4" transform="rotate(174 20.9 40.5)" fill="#d9ca5f"/><ellipse cx="60.7" cy="45.2" rx="3.6" ry="2.5" transform="rotate(176 60.7 45.2)" fill="#e8d86f"/><ellipse cx="59.1" cy="39.9" rx="3.4" ry="2.9" transform="rotate(171 59.1 39.9)" fill="#f1e580"/><ellipse cx="4.9" cy="48.4" rx="3.1" ry="2.4" transform="rotate(133 4.9 48.4)" fill="#d2b961"/><ellipse cx="76.9" cy="48.4" rx="3.1" ry="2.4" transform="rotate(133 76.9 48.4)" fill="#d2b961"/><ellipse cx="8.4" cy="54.7" rx="3.4" ry="2.4" transform="rotate(145 8.4 54.7)" fill="#ead97c"/><ellipse cx="19.7" cy="19.2" rx="3.0" ry="2.8" transform="rotate(7 19.7 19.2)" fill="#cabc5b"/><ellipse cx="20.0" cy="58.6" rx="3.5" ry="2.5" transform="rotate(109 20.0 58.6)" fill="#ebd987"/><ellipse cx="53.8" cy="16.5" rx="3.6" ry="3.0" transform="rotate(60 53.8 16.5)" fill="#dcd37c"/><ellipse cx="59.7" cy="24.3" rx="3.8" ry="2.3" transform="rotate(172 59.7 24.3)" fill="#d7d368"/><ellipse cx="56.2" cy="52.4" rx="2.9" ry="2.4" transform="rotate(66 56.2 52.4)" fill="#d7c575"/><ellipse cx="56.2" cy="-0.5" rx="3.7" ry="2.5" transform="rotate(73 56.2 -0.5)" fill="#e4df80"/><ellipse cx="56.2" cy="65.5" rx="3.7" ry="2.5" transform="rotate(73 56.2 65.5)" fill="#e4df80"/><ellipse cx="9.8" cy="40.3" rx="3.1" ry="2.8" transform="rotate(83 9.8 40.3)" fill="#d5c86b"/><ellipse cx="49.3" cy="5.7" rx="3.2" ry="2.2" transform="rotate(123 49.3 5.7)" fill="#ebd57e"/><ellipse cx="33.3" cy="57.3" rx="3.9" ry="3.0" transform="rotate(9 33.3 57.3)" fill="#d7c567"/><ellipse cx="66.2" cy="56.7" rx="3.7" ry="2.5" transform="rotate(178 66.2 56.7)" fill="#dcc56b"/><ellipse cx="47.1" cy="24.2" rx="3.6" ry="2.7" transform="rotate(98 47.1 24.2)" fill="#ead984"/><ellipse cx="52.2" cy="39.6" rx="3.3" ry="2.7" transform="rotate(56 52.2 39.6)" fill="#d2bd6c"/><ellipse cx="56.3" cy="6.6" rx="3.3" ry="3.1" transform="rotate(14 56.3 6.6)" fill="#d5be69"/><ellipse cx="12.7" cy="49.5" rx="3.6" ry="2.6" transform="rotate(77 12.7 49.5)" fill="#d6ca71"/><ellipse cx="-0.2" cy="-4.5" rx="3.0" ry="2.8" transform="rotate(162 -0.2 -4.5)" fill="#ecde82"/><ellipse cx="-0.2" cy="61.5" rx="3.0" ry="2.8" transform="rotate(162 -0.2 61.5)" fill="#ecde82"/><ellipse cx="71.8" cy="-4.5" rx="3.0" ry="2.8" transform="rotate(162 71.8 -4.5)" fill="#ecde82"/><ellipse cx="71.8" cy="61.5" rx="3.0" ry="2.8" transform="rotate(162 71.8 61.5)" fill="#ecde82"/><ellipse cx="9.6" cy="21.6" rx="3.3" ry="3.0" transform="rotate(5 9.6 21.6)" fill="#dbcd6c"/><ellipse cx="64.6" cy="60.9" rx="3.5" ry="2.2" transform="rotate(102 64.6 60.9)" fill="#efe386"/><ellipse cx="35.3" cy="24.2" rx="3.0" ry="2.8" transform="rotate(75 35.3 24.2)" fill="#e6d273"/><ellipse cx="22.2" cy="44.9" rx="2.9" ry="2.3" transform="rotate(110 22.2 44.9)" fill="#d4c25f"/><ellipse cx="28.4" cy="2.3" rx="3.1" ry="2.9" transform="rotate(94 28.4 2.3)" fill="#dec768"/><ellipse cx="28.4" cy="68.3" rx="3.1" ry="2.9" transform="rotate(94 28.4 68.3)" fill="#dec768"/><ellipse cx="44.7" cy="9.5" rx="2.9" ry="2.3" transform="rotate(152 44.7 9.5)" fill="#d8c96f"/><ellipse cx="43.3" cy="43.3" rx="3.1" ry="2.9" transform="rotate(55 43.3 43.3)" fill="#eede87"/><ellipse cx="-3.8" cy="42.9" rx="3.9" ry="2.5" transform="rotate(89 -3.8 42.9)" fill="#e2cf77"/><ellipse cx="68.2" cy="42.9" rx="3.9" ry="2.5" transform="rotate(89 68.2 42.9)" fill="#e2cf77"/><ellipse cx="17.0" cy="24.1" rx="3.1" ry="2.8" transform="rotate(156 17.0 24.1)" fill="#d1bc61"/><ellipse cx="46.6" cy="51.9" rx="3.6" ry="2.8" transform="rotate(174 46.6 51.9)" fill="#e5d580"/><ellipse cx="0.8" cy="53.6" rx="2.8" ry="3.1" transform="rotate(56 0.8 53.6)" fill="#e8d381"/><ellipse cx="72.8" cy="53.6" rx="2.8" ry="3.1" transform="rotate(56 72.8 53.6)" fill="#e8d381"/><ellipse cx="34.7" cy="-0.9" rx="3.9" ry="3.0" transform="rotate(102 34.7 -0.9)" fill="#d0be57"/><ellipse cx="34.7" cy="65.1" rx="3.9" ry="3.0" transform="rotate(102 34.7 65.1)" fill="#d0be57"/><ellipse cx="65.2" cy="28.1" rx="3.1" ry="3.1" transform="rotate(36 65.2 28.1)" fill="#ddc969"/><ellipse cx="14.3" cy="1.8" rx="2.9" ry="2.6" transform="rotate(71 14.3 1.8)" fill="#d1c46f"/><ellipse cx="14.3" cy="67.8" rx="2.9" ry="2.6" transform="rotate(71 14.3 67.8)" fill="#d1c46f"/><ellipse cx="43.4" cy="26.8" rx="3.8" ry="2.4" transform="rotate(55 43.4 26.8)" fill="#c9b957"/><ellipse cx="62.4" cy="51.5" rx="3.4" ry="2.9" transform="rotate(79 62.4 51.5)" fill="#e2d479"/><ellipse cx="33.8" cy="14.6" rx="3.1" ry="2.2" transform="rotate(83 33.8 14.6)" fill="#f1db83"/><ellipse cx="32.2" cy="39.5" rx="3.5" ry="3.0" transform="rotate(63 32.2 39.5)" fill="#d1c16e"/><ellipse cx="39.4" cy="13.1" rx="3.2" ry="2.5" transform="rotate(26 39.4 13.1)" fill="#dfcb72"/><ellipse cx="22.5" cy="32.2" rx="2.8" ry="2.6" transform="rotate(90 22.5 32.2)" fill="#ebe789"/><ellipse cx="54.9" cy="58.1" rx="3.2" ry="2.7" transform="rotate(14 54.9 58.1)" fill="#ceb859"/><ellipse cx="8.9" cy="12.2" rx="3.5" ry="2.3" transform="rotate(160 8.9 12.2)" fill="#f4e783"/><ellipse cx="21.6" cy="14.5" rx="3.0" ry="2.2" transform="rotate(121 21.6 14.5)" fill="#f4dd8e"/><ellipse cx="31.7" cy="19.1" rx="3.4" ry="2.4" transform="rotate(52 31.7 19.1)" fill="#e0cb6e"/><ellipse cx="5.4" cy="29.2" rx="3.0" ry="2.7" transform="rotate(81 5.4 29.2)" fill="#dcd77d"/><ellipse cx="54.9" cy="10.8" rx="3.3" ry="2.5" transform="rotate(142 54.9 10.8)" fill="#d1bf55"/><ellipse cx="21.3" cy="9.3" rx="2.9" ry="2.6" transform="rotate(92 21.3 9.3)" fill="#d8c570"/><ellipse cx="45.2" cy="36.0" rx="2.9" ry="2.5" transform="rotate(8 45.2 36.0)" fill="#ccc05e"/><ellipse cx="41.9" cy="57.3" rx="2.8" ry="2.7" transform="rotate(58 41.9 57.3)" fill="#e8e187"/><ellipse cx="65.6" cy="23.7" rx="2.8" ry="2.4" transform="rotate(85 65.6 23.7)" fill="#e6d16f"/><ellipse cx="53.2" cy="26.7" rx="3.5" ry="2.3" transform="rotate(33 53.2 26.7)" fill="#e8d577"/><ellipse cx="59.4" cy="58.4" rx="3.1" ry="2.8" transform="rotate(67 59.4 58.4)" fill="#dad270"/><ellipse cx="5.8" cy="24.2" rx="3.4" ry="2.5" transform="rotate(12 5.8 24.2)" fill="#edd789"/><ellipse cx="5.3" cy="5.0" rx="3.0" ry="2.2" transform="rotate(163 5.3 5.0)" fill="#f1dc85"/><ellipse cx="5.3" cy="71.0" rx="3.0" ry="2.2" transform="rotate(163 5.3 71.0)" fill="#f1dc85"/><ellipse cx="38.5" cy="38.1" rx="3.2" ry="2.5" transform="rotate(149 38.5 38.1)" fill="#e9d683"/><ellipse cx="56.2" cy="30.0" rx="3.8" ry="2.3" transform="rotate(4 56.2 30.0)" fill="#e9d984"/><ellipse cx="13.2" cy="59.7" rx="3.2" ry="2.8" transform="rotate(144 13.2 59.7)" fill="#e1cf79"/><ellipse cx="3.0" cy="0.5" rx="3.6" ry="2.8" transform="rotate(72 3.0 0.5)" fill="#e2db7a"/><ellipse cx="3.0" cy="66.5" rx="3.6" ry="2.8" transform="rotate(72 3.0 66.5)" fill="#e2db7a"/><ellipse cx="75.0" cy="0.5" rx="3.6" ry="2.8" transform="rotate(72 75.0 0.5)" fill="#e2db7a"/><ellipse cx="75.0" cy="66.5" rx="3.6" ry="2.8" transform="rotate(72 75.0 66.5)" fill="#e2db7a"/><ellipse cx="28.2" cy="12.3" rx="2.8" ry="2.6" transform="rotate(33 28.2 12.3)" fill="#d1b85d"/><ellipse cx="37.5" cy="19.8" rx="3.0" ry="2.3" transform="rotate(81 37.5 19.8)" fill="#dbd178"/><ellipse cx="26.8" cy="17.3" rx="3.7" ry="2.4" transform="rotate(27 26.8 17.3)" fill="#e1d674"/><ellipse cx="46.3" cy="56.5" rx="3.0" ry="2.6" transform="rotate(165 46.3 56.5)" fill="#eae585"/><ellipse cx="15.4" cy="45.0" rx="3.6" ry="3.0" transform="rotate(87 15.4 45.0)" fill="#d6d16c"/><ellipse cx="0.4" cy="46.3" rx="3.5" ry="3.0" transform="rotate(30 0.4 46.3)" fill="#d8c364"/><ellipse cx="72.4" cy="46.3" rx="3.5" ry="3.0" transform="rotate(30 72.4 46.3)" fill="#d8c364"/><ellipse cx="38.4" cy="52.7" rx="3.4" ry="3.1" transform="rotate(73 38.4 52.7)" fill="#e4d87e"/><ellipse cx="48.0" cy="16.8" rx="2.9" ry="2.6" transform="rotate(63 48.0 16.8)" fill="#d2c268"/><ellipse cx="22.1" cy="53.3" rx="3.4" ry="2.5" transform="rotate(167 22.1 53.3)" fill="#e8d57d"/><ellipse cx="37.9" cy="28.6" rx="3.7" ry="2.6" transform="rotate(66 37.9 28.6)" fill="#d3c570"/><ellipse cx="18.6" cy="49.5" rx="3.7" ry="2.6" transform="rotate(52 18.6 49.5)" fill="#ebd57f"/><ellipse cx="50.5" cy="55.0" rx="3.6" ry="2.5" transform="rotate(88 50.5 55.0)" fill="#e0cb6a"/><ellipse cx="38.5" cy="6.4" rx="3.7" ry="3.0" transform="rotate(53 38.5 6.4)" fill="#e4d26f"/><ellipse cx="26.8" cy="48.2" rx="3.9" ry="3.0" transform="rotate(65 26.8 48.2)" fill="#e7d482"/><ellipse cx="12.3" cy="33.3" rx="3.5" ry="2.2" transform="rotate(97 12.3 33.3)" fill="#ddc469"/><ellipse cx="66.5" cy="7.1" rx="3.0" ry="2.7" transform="rotate(109 66.5 7.1)" fill="#dacf73"/><ellipse cx="17.8" cy="5.7" rx="2.9" ry="2.5" transform="rotate(21 17.8 5.7)" fill="#dbcd6c"/><ellipse cx="23.6" cy="22.2" rx="3.5" ry="2.6" transform="rotate(180 23.6 22.2)" fill="#d6c36f"/><ellipse cx="60.7" cy="6.4" rx="3.9" ry="2.8" transform="rotate(179 60.7 6.4)" fill="#e3d572"/><ellipse cx="33.8" cy="52.1" rx="3.7" ry="2.5" transform="rotate(134 33.8 52.1)" fill="#ded07d"/><ellipse cx="57.1" cy="35.9" rx="3.5" ry="3.1" transform="rotate(92 57.1 35.9)" fill="#d8c571"/><ellipse cx="11.1" cy="16.8" rx="3.6" ry="2.9" transform="rotate(6 11.1 16.8)" fill="#e7d981"/><ellipse cx="-0.6" cy="28.7" rx="3.2" ry="3.0" transform="rotate(136 -0.6 28.7)" fill="#efe486"/><ellipse cx="71.4" cy="28.7" rx="3.2" ry="3.0" transform="rotate(136 71.4 28.7)" fill="#efe486"/><ellipse cx="27.2" cy="33.3" rx="3.0" ry="2.9" transform="rotate(93 27.2 33.3)" fill="#efe684"/><ellipse cx="65.2" cy="46.5" rx="3.1" ry="3.0" transform="rotate(14 65.2 46.5)" fill="#d4cd63"/><ellipse cx="50.3" cy="1.2" rx="3.3" ry="2.4" transform="rotate(155 50.3 1.2)" fill="#d7bf5f"/><ellipse cx="50.3" cy="67.2" rx="3.3" ry="2.4" transform="rotate(155 50.3 67.2)" fill="#d7bf5f"/><ellipse cx="23.5" cy="5.0" rx="3.8" ry="2.9" transform="rotate(132 23.5 5.0)" fill="#dece79"/><ellipse cx="56.4" cy="43.5" rx="3.1" ry="2.5" transform="rotate(76 56.4 43.5)" fill="#e9d481"/><ellipse cx="48.0" cy="41.8" rx="3.0" ry="2.7" transform="rotate(163 48.0 41.8)" fill="#e3d47b"/><ellipse cx="47.5" cy="46.3" rx="2.9" ry="2.5" transform="rotate(19 47.5 46.3)" fill="#d4cc6a"/><ellipse cx="2.9" cy="35.1" rx="3.1" ry="2.8" transform="rotate(43 2.9 35.1)" fill="#dac87b"/><ellipse cx="74.9" cy="35.1" rx="3.1" ry="2.8" transform="rotate(43 74.9 35.1)" fill="#dac87b"/><ellipse cx="36.4" cy="47.8" rx="3.6" ry="3.0" transform="rotate(149 36.4 47.8)" fill="#eadd80"/><ellipse cx="-3.9" cy="16.3" rx="3.3" ry="2.8" transform="rotate(105 -3.9 16.3)" fill="#e6e079"/><ellipse cx="68.1" cy="16.3" rx="3.3" ry="2.8" transform="rotate(105 68.1 16.3)" fill="#e6e079"/><ellipse cx="50.7" cy="21.7" rx="2.8" ry="2.9" transform="rotate(147 50.7 21.7)" fill="#e3d274"/><ellipse cx="37.1" cy="60.1" rx="3.8" ry="2.9" transform="rotate(8 37.1 60.1)" fill="#d9c96d"/><ellipse cx="24.8" cy="59.1" rx="3.3" ry="2.6" transform="rotate(131 24.8 59.1)" fill="#e3dd79"/><ellipse cx="58.8" cy="19.1" rx="3.5" ry="2.4" transform="rotate(176 58.8 19.1)" fill="#d6c26b"/><ellipse cx="60.6" cy="-2.4" rx="3.8" ry="2.3" transform="rotate(159 60.6 -2.4)" fill="#dbc673"/><ellipse cx="60.6" cy="63.6" rx="3.8" ry="2.3" transform="rotate(159 60.6 63.6)" fill="#dbc673"/><ellipse cx="1.8" cy="18.3" rx="3.8" ry="2.8" transform="rotate(92 1.8 18.3)" fill="#e8d377"/><ellipse cx="73.8" cy="18.3" rx="3.8" ry="2.8" transform="rotate(92 73.8 18.3)" fill="#e8d377"/><ellipse cx="11.7" cy="-2.2" rx="3.0" ry="2.3" transform="rotate(128 11.7 -2.2)" fill="#d9c968"/><ellipse cx="11.7" cy="63.8" rx="3.0" ry="2.3" transform="rotate(128 11.7 63.8)" fill="#d9c968"/><ellipse cx="16.4" cy="40.5" rx="3.8" ry="2.9" transform="rotate(175 16.4 40.5)" fill="#ebdc82"/><ellipse cx="60.9" cy="28.8" rx="3.9" ry="2.9" transform="rotate(32 60.9 28.8)" fill="#d8cf65"/><ellipse cx="39.7" cy="23.7" rx="3.0" ry="2.7" transform="rotate(128 39.7 23.7)" fill="#ede08e"/><ellipse cx="41.7" cy="30.9" rx="3.8" ry="2.5" transform="rotate(9 41.7 30.9)" fill="#ceb352"/><ellipse cx="50.4" cy="35.4" rx="3.0" ry="2.6" transform="rotate(66 50.4 35.4)" fill="#decc6f"/><ellipse cx="14.0" cy="20.3" rx="3.1" ry="2.7" transform="rotate(69 14.0 20.3)" fill="#e6df80"/><ellipse cx="23.5" cy="36.7" rx="3.0" ry="2.4" transform="rotate(116 23.5 36.7)" fill="#d3c35c"/><ellipse cx="43.8" cy="13.8" rx="3.5" ry="2.6" transform="rotate(9 43.8 13.8)" fill="#e7d873"/></pattern><pattern id="pel4" width="72" height="66" patternUnits="userSpaceOnUse" x="52" y="28"><rect width="72" height="66" fill="#5a4e34"/><ellipse cx="33.3" cy="24.6" rx="3.1" ry="2.6" transform="rotate(83 33.3 24.6)" fill="#aea565"/><ellipse cx="10.0" cy="57.2" rx="3.0" ry="2.6" transform="rotate(75 10.0 57.2)" fill="#d2c080"/><ellipse cx="0.5" cy="33.2" rx="3.0" ry="3.1" transform="rotate(114 0.5 33.2)" fill="#d0cb87"/><ellipse cx="72.5" cy="33.2" rx="3.0" ry="3.1" transform="rotate(114 72.5 33.2)" fill="#d0cb87"/><ellipse cx="64.7" cy="5.3" rx="3.3" ry="2.5" transform="rotate(45 64.7 5.3)" fill="#c9c080"/><ellipse cx="39.9" cy="40.7" rx="3.8" ry="2.3" transform="rotate(41 39.9 40.7)" fill="#d9cb98"/><ellipse cx="2.9" cy="25.0" rx="3.5" ry="2.3" transform="rotate(114 2.9 25.0)" fill="#c9be76"/><ellipse cx="74.9" cy="25.0" rx="3.5" ry="2.3" transform="rotate(114 74.9 25.0)" fill="#c9be76"/><ellipse cx="50.7" cy="29.8" rx="3.2" ry="2.9" transform="rotate(89 50.7 29.8)" fill="#d5c287"/><ellipse cx="52.2" cy="10.4" rx="3.4" ry="3.0" transform="rotate(7 52.2 10.4)" fill="#b8a571"/><ellipse cx="17.1" cy="7.3" rx="3.4" ry="2.5" transform="rotate(89 17.1 7.3)" fill="#e3df9a"/><ellipse cx="36.5" cy="61.0" rx="3.8" ry="2.8" transform="rotate(87 36.5 61.0)" fill="#b09e70"/><ellipse cx="42.5" cy="51.1" rx="3.0" ry="3.0" transform="rotate(79 42.5 51.1)" fill="#cac085"/><ellipse cx="27.6" cy="49.2" rx="2.9" ry="2.7" transform="rotate(155 27.6 49.2)" fill="#bdb479"/><ellipse cx="7.3" cy="19.2" rx="3.7" ry="2.9" transform="rotate(163 7.3 19.2)" fill="#c8b67a"/><ellipse cx="48.5" cy="47.9" rx="3.3" ry="2.7" transform="rotate(131 48.5 47.9)" fill="#d1bb87"/><ellipse cx="30.4" cy="5.8" rx="3.5" ry="2.3" transform="rotate(62 30.4 5.8)" fill="#d2d08b"/><ellipse cx="19.2" cy="13.9" rx="3.8" ry="2.7" transform="rotate(72 19.2 13.9)" fill="#c2b173"/><ellipse cx="20.2" cy="53.4" rx="3.4" ry="2.8" transform="rotate(30 20.2 53.4)" fill="#ada367"/><ellipse cx="14.4" cy="58.5" rx="3.5" ry="2.6" transform="rotate(87 14.4 58.5)" fill="#c8b581"/><ellipse cx="27.3" cy="32.5" rx="3.6" ry="2.6" transform="rotate(79 27.3 32.5)" fill="#b1a26d"/><ellipse cx="43.0" cy="8.0" rx="3.4" ry="2.5" transform="rotate(69 43.0 8.0)" fill="#c4bc7b"/><ellipse cx="41.7" cy="59.1" rx="2.8" ry="3.1" transform="rotate(159 41.7 59.1)" fill="#b8ac7d"/><ellipse cx="14.6" cy="0.5" rx="3.2" ry="3.0" transform="rotate(123 14.6 0.5)" fill="#c0b27b"/><ellipse cx="14.6" cy="66.5" rx="3.2" ry="3.0" transform="rotate(123 14.6 66.5)" fill="#c0b27b"/><ellipse cx="6.0" cy="35.6" rx="3.8" ry="2.3" transform="rotate(91 6.0 35.6)" fill="#b2a55f"/><ellipse cx="1.3" cy="5.6" rx="3.6" ry="2.6" transform="rotate(120 1.3 5.6)" fill="#d7c77d"/><ellipse cx="73.3" cy="5.6" rx="3.6" ry="2.6" transform="rotate(120 73.3 5.6)" fill="#d7c77d"/><ellipse cx="43.8" cy="-2.8" rx="3.3" ry="2.6" transform="rotate(99 43.8 -2.8)" fill="#ccbb7b"/><ellipse cx="43.8" cy="63.2" rx="3.3" ry="2.6" transform="rotate(99 43.8 63.2)" fill="#ccbb7b"/><ellipse cx="19.3" cy="-0.3" rx="3.7" ry="2.3" transform="rotate(69 19.3 -0.3)" fill="#e6d38f"/><ellipse cx="19.3" cy="65.7" rx="3.7" ry="2.3" transform="rotate(69 19.3 65.7)" fill="#e6d38f"/><ellipse cx="50.8" cy="-3.2" rx="3.8" ry="3.0" transform="rotate(11 50.8 -3.2)" fill="#d6c987"/><ellipse cx="50.8" cy="62.8" rx="3.8" ry="3.0" transform="rotate(11 50.8 62.8)" fill="#d6c987"/><ellipse cx="17.0" cy="40.3" rx="3.8" ry="2.6" transform="rotate(16 17.0 40.3)" fill="#cac282"/><ellipse cx="48.5" cy="39.0" rx="3.3" ry="2.9" transform="rotate(149 48.5 39.0)" fill="#d6c292"/><ellipse cx="55.8" cy="5.7" rx="3.8" ry="2.9" transform="rotate(94 55.8 5.7)" fill="#d3ca94"/><ellipse cx="25.0" cy="57.0" rx="3.8" ry="3.0" transform="rotate(20 25.0 57.0)" fill="#aaa062"/><ellipse cx="42.1" cy="29.8" rx="3.4" ry="2.4" transform="rotate(82 42.1 29.8)" fill="#e4d48d"/><ellipse cx="29.0" cy="-0.9" rx="3.6" ry="2.4" transform="rotate(38 29.0 -0.9)" fill="#e7d59a"/><ellipse cx="29.0" cy="65.1" rx="3.6" ry="2.4" transform="rotate(38 29.0 65.1)" fill="#e7d59a"/><ellipse cx="41.4" cy="1.2" rx="2.9" ry="3.0" transform="rotate(132 41.4 1.2)" fill="#d3c58f"/><ellipse cx="41.4" cy="67.2" rx="2.9" ry="3.0" transform="rotate(132 41.4 67.2)" fill="#d3c58f"/><ellipse cx="57.6" cy="21.7" rx="3.5" ry="2.7" transform="rotate(54 57.6 21.7)" fill="#dfdb98"/><ellipse cx="31.2" cy="14.1" rx="3.1" ry="2.8" transform="rotate(21 31.2 14.1)" fill="#b3a661"/><ellipse cx="6.4" cy="41.5" rx="3.1" ry="2.7" transform="rotate(112 6.4 41.5)" fill="#dfcf90"/><ellipse cx="7.4" cy="51.8" rx="2.9" ry="2.9" transform="rotate(113 7.4 51.8)" fill="#aba06e"/><ellipse cx="1.8" cy="51.5" rx="3.4" ry="2.4" transform="rotate(9 1.8 51.5)" fill="#ada65f"/><ellipse cx="73.8" cy="51.5" rx="3.4" ry="2.4" transform="rotate(9 73.8 51.5)" fill="#ada65f"/><ellipse cx="58.1" cy="32.8" rx="3.5" ry="2.3" transform="rotate(174 58.1 32.8)" fill="#a7a56a"/><ellipse cx="51.1" cy="16.4" rx="3.5" ry="2.4" transform="rotate(58 51.1 16.4)" fill="#cbc387"/><ellipse cx="28.9" cy="24.6" rx="3.8" ry="2.3" transform="rotate(107 28.9 24.6)" fill="#e7d195"/><ellipse cx="61.9" cy="24.4" rx="3.5" ry="2.3" transform="rotate(145 61.9 24.4)" fill="#cbc076"/><ellipse cx="60.7" cy="17.1" rx="3.7" ry="2.3" transform="rotate(21 60.7 17.1)" fill="#cbc58d"/><ellipse cx="3.6" cy="-1.6" rx="2.8" ry="2.7" transform="rotate(66 3.6 -1.6)" fill="#e5d79f"/><ellipse cx="3.6" cy="64.4" rx="2.8" ry="2.7" transform="rotate(66 3.6 64.4)" fill="#e5d79f"/><ellipse cx="75.6" cy="-1.6" rx="2.8" ry="2.7" transform="rotate(66 75.6 -1.6)" fill="#e5d79f"/><ellipse cx="75.6" cy="64.4" rx="2.8" ry="2.7" transform="rotate(66 75.6 64.4)" fill="#e5d79f"/><ellipse cx="12.4" cy="-3.5" rx="2.9" ry="2.2" transform="rotate(65 12.4 -3.5)" fill="#d5c48e"/><ellipse cx="12.4" cy="62.5" rx="2.9" ry="2.2" transform="rotate(65 12.4 62.5)" fill="#d5c48e"/><ellipse cx="-1.0" cy="40.0" rx="3.0" ry="2.6" transform="rotate(77 -1.0 40.0)" fill="#ddd296"/><ellipse cx="71.0" cy="40.0" rx="3.0" ry="2.6" transform="rotate(77 71.0 40.0)" fill="#ddd296"/><ellipse cx="15.0" cy="25.7" rx="3.4" ry="2.4" transform="rotate(22 15.0 25.7)" fill="#cdbf79"/><ellipse cx="25.5" cy="9.3" rx="3.8" ry="2.9" transform="rotate(118 25.5 9.3)" fill="#bcb770"/><ellipse cx="50.1" cy="4.3" rx="3.8" ry="2.5" transform="rotate(90 50.1 4.3)" fill="#b1ae69"/><ellipse cx="50.1" cy="70.3" rx="3.8" ry="2.5" transform="rotate(90 50.1 70.3)" fill="#b1ae69"/><ellipse cx="32.5" cy="46.5" rx="3.4" ry="3.1" transform="rotate(55 32.5 46.5)" fill="#c4b273"/><ellipse cx="63.9" cy="11.2" rx="3.0" ry="2.3" transform="rotate(137 63.9 11.2)" fill="#e4cf96"/><ellipse cx="63.4" cy="32.6" rx="3.4" ry="3.1" transform="rotate(110 63.4 32.6)" fill="#b3a86f"/><ellipse cx="7.1" cy="3.2" rx="3.6" ry="2.3" transform="rotate(20 7.1 3.2)" fill="#e0d896"/><ellipse cx="7.1" cy="69.2" rx="3.6" ry="2.3" transform="rotate(20 7.1 69.2)" fill="#e0d896"/><ellipse cx="38.1" cy="11.4" rx="3.0" ry="3.0" transform="rotate(120 38.1 11.4)" fill="#d9cd97"/><ellipse cx="56.2" cy="14.7" rx="3.4" ry="2.3" transform="rotate(74 56.2 14.7)" fill="#bbab73"/><ellipse cx="0.9" cy="11.6" rx="3.5" ry="3.1" transform="rotate(2 0.9 11.6)" fill="#beb66f"/><ellipse cx="72.9" cy="11.6" rx="3.5" ry="3.1" transform="rotate(2 72.9 11.6)" fill="#beb66f"/><ellipse cx="32.9" cy="36.9" rx="3.4" ry="2.8" transform="rotate(131 32.9 36.9)" fill="#c9c581"/><ellipse cx="37.7" cy="35.5" rx="2.8" ry="2.7" transform="rotate(72 37.7 35.5)" fill="#c3b26f"/><ellipse cx="21.6" cy="47.8" rx="3.5" ry="2.7" transform="rotate(150 21.6 47.8)" fill="#b7b469"/><ellipse cx="35.3" cy="42.0" rx="3.5" ry="2.7" transform="rotate(68 35.3 42.0)" fill="#b0a376"/><ellipse cx="52.5" cy="41.2" rx="3.4" ry="2.6" transform="rotate(144 52.5 41.2)" fill="#e3d48b"/><ellipse cx="-1.0" cy="55.0" rx="3.0" ry="2.8" transform="rotate(142 -1.0 55.0)" fill="#d4c68c"/><ellipse cx="71.0" cy="55.0" rx="3.0" ry="2.8" transform="rotate(142 71.0 55.0)" fill="#d4c68c"/><ellipse cx="13.8" cy="14.6" rx="3.6" ry="2.8" transform="rotate(95 13.8 14.6)" fill="#a8a06b"/><ellipse cx="8.0" cy="7.9" rx="3.6" ry="2.4" transform="rotate(48 8.0 7.9)" fill="#d1c28d"/><ellipse cx="-4.5" cy="-1.6" rx="2.9" ry="2.5" transform="rotate(129 -4.5 -1.6)" fill="#cac987"/><ellipse cx="-4.5" cy="64.4" rx="2.9" ry="2.5" transform="rotate(129 -4.5 64.4)" fill="#cac987"/><ellipse cx="67.5" cy="-1.6" rx="2.9" ry="2.5" transform="rotate(129 67.5 -1.6)" fill="#cac987"/><ellipse cx="67.5" cy="64.4" rx="2.9" ry="2.5" transform="rotate(129 67.5 64.4)" fill="#cac987"/><ellipse cx="26.6" cy="41.9" rx="2.9" ry="2.3" transform="rotate(25 26.6 41.9)" fill="#e6d692"/><ellipse cx="43.6" cy="14.6" rx="3.1" ry="2.9" transform="rotate(5 43.6 14.6)" fill="#d1be7e"/><ellipse cx="63.1" cy="60.7" rx="3.0" ry="2.4" transform="rotate(52 63.1 60.7)" fill="#cfc37c"/><ellipse cx="22.9" cy="16.3" rx="3.1" ry="2.3" transform="rotate(14 22.9 16.3)" fill="#b3a06b"/><ellipse cx="19.9" cy="30.5" rx="3.7" ry="2.3" transform="rotate(176 19.9 30.5)" fill="#d1ce84"/><ellipse cx="44.0" cy="37.5" rx="2.9" ry="2.9" transform="rotate(44 44.0 37.5)" fill="#dacf8e"/><ellipse cx="12.3" cy="35.9" rx="3.5" ry="2.5" transform="rotate(59 12.3 35.9)" fill="#e4d293"/><ellipse cx="13.6" cy="47.0" rx="3.5" ry="2.4" transform="rotate(65 13.6 47.0)" fill="#b7ae74"/><ellipse cx="47.4" cy="9.1" rx="3.8" ry="2.3" transform="rotate(38 47.4 9.1)" fill="#c8bd7a"/><ellipse cx="45.0" cy="22.3" rx="3.9" ry="2.6" transform="rotate(37 45.0 22.3)" fill="#e6d59a"/><ellipse cx="54.8" cy="58.3" rx="3.8" ry="2.8" transform="rotate(80 54.8 58.3)" fill="#d8c485"/><ellipse cx="39.0" cy="22.1" rx="3.6" ry="2.5" transform="rotate(30 39.0 22.1)" fill="#dfda93"/><ellipse cx="33.9" cy="57.2" rx="3.5" ry="2.5" transform="rotate(152 33.9 57.2)" fill="#cfc08e"/><ellipse cx="37.0" cy="6.5" rx="2.9" ry="2.8" transform="rotate(128 37.0 6.5)" fill="#d8cd93"/><ellipse cx="0.8" cy="60.8" rx="3.6" ry="2.8" transform="rotate(142 0.8 60.8)" fill="#b4a060"/><ellipse cx="72.8" cy="60.8" rx="3.6" ry="2.8" transform="rotate(142 72.8 60.8)" fill="#b4a060"/><ellipse cx="59.3" cy="-0.3" rx="2.9" ry="2.5" transform="rotate(31 59.3 -0.3)" fill="#e9d99e"/><ellipse cx="59.3" cy="65.7" rx="2.9" ry="2.5" transform="rotate(31 59.3 65.7)" fill="#e9d99e"/><ellipse cx="23.1" cy="25.4" rx="2.8" ry="2.9" transform="rotate(9 23.1 25.4)" fill="#e0d1a0"/><ellipse cx="62.5" cy="37.7" rx="3.0" ry="2.5" transform="rotate(56 62.5 37.7)" fill="#b8ae6e"/><ellipse cx="0.7" cy="45.2" rx="3.6" ry="2.7" transform="rotate(167 0.7 45.2)" fill="#e5d090"/><ellipse cx="72.7" cy="45.2" rx="3.6" ry="2.7" transform="rotate(167 72.7 45.2)" fill="#e5d090"/><ellipse cx="62.3" cy="44.7" rx="3.1" ry="2.8" transform="rotate(73 62.3 44.7)" fill="#dcce9b"/><ellipse cx="65.4" cy="49.8" rx="2.8" ry="3.1" transform="rotate(102 65.4 49.8)" fill="#e6d295"/><ellipse cx="13.4" cy="51.4" rx="3.1" ry="2.4" transform="rotate(118 13.4 51.4)" fill="#e9d69c"/><ellipse cx="4.1" cy="56.4" rx="2.9" ry="2.8" transform="rotate(135 4.1 56.4)" fill="#dac78d"/><ellipse cx="76.1" cy="56.4" rx="2.9" ry="2.8" transform="rotate(135 76.1 56.4)" fill="#dac78d"/><ellipse cx="-2.5" cy="2.8" rx="2.8" ry="2.6" transform="rotate(124 -2.5 2.8)" fill="#d3c48d"/><ellipse cx="-2.5" cy="68.8" rx="2.8" ry="2.6" transform="rotate(124 -2.5 68.8)" fill="#d3c48d"/><ellipse cx="69.5" cy="2.8" rx="2.8" ry="2.6" transform="rotate(124 69.5 2.8)" fill="#d3c48d"/><ellipse cx="69.5" cy="68.8" rx="2.8" ry="2.6" transform="rotate(124 69.5 68.8)" fill="#d3c48d"/><ellipse cx="12.5" cy="9.5" rx="3.7" ry="2.3" transform="rotate(123 12.5 9.5)" fill="#e3d68e"/><ellipse cx="48.0" cy="34.5" rx="3.0" ry="2.6" transform="rotate(35 48.0 34.5)" fill="#e2d497"/><ellipse cx="-2.9" cy="26.2" rx="3.4" ry="2.6" transform="rotate(121 -2.9 26.2)" fill="#c3ba7c"/><ellipse cx="69.1" cy="26.2" rx="3.4" ry="2.6" transform="rotate(121 69.1 26.2)" fill="#c3ba7c"/><ellipse cx="12.8" cy="42.0" rx="3.4" ry="2.3" transform="rotate(69 12.8 42.0)" fill="#ae9a63"/><ellipse cx="51.1" cy="23.6" rx="3.0" ry="3.1" transform="rotate(1 51.1 23.6)" fill="#aaa372"/><ellipse cx="40.1" cy="46.6" rx="3.5" ry="2.7" transform="rotate(24 40.1 46.6)" fill="#beb277"/><ellipse cx="5.4" cy="46.6" rx="3.8" ry="3.0" transform="rotate(35 5.4 46.6)" fill="#d1c686"/><ellipse cx="46.7" cy="52.7" rx="3.5" ry="2.8" transform="rotate(29 46.7 52.7)" fill="#e7da97"/><ellipse cx="46.4" cy="27.9" rx="3.2" ry="2.2" transform="rotate(21 46.4 27.9)" fill="#c9bf76"/><ellipse cx="2.1" cy="19.3" rx="2.8" ry="3.0" transform="rotate(55 2.1 19.3)" fill="#aea963"/><ellipse cx="74.1" cy="19.3" rx="2.8" ry="3.0" transform="rotate(55 74.1 19.3)" fill="#aea963"/><ellipse cx="56.0" cy="47.8" rx="3.9" ry="2.6" transform="rotate(92 56.0 47.8)" fill="#dcd58c"/><ellipse cx="36.8" cy="29.2" rx="3.5" ry="2.7" transform="rotate(47 36.8 29.2)" fill="#d5c88b"/><ellipse cx="37.3" cy="50.7" rx="3.2" ry="2.6" transform="rotate(24 37.3 50.7)" fill="#cabc7d"/><ellipse cx="34.7" cy="19.2" rx="3.5" ry="2.9" transform="rotate(175 34.7 19.2)" fill="#cbbe84"/><ellipse cx="54.7" cy="53.8" rx="3.0" ry="2.9" transform="rotate(46 54.7 53.8)" fill="#e5d698"/><ellipse cx="-1.9" cy="49.1" rx="3.0" ry="3.1" transform="rotate(134 -1.9 49.1)" fill="#e4d994"/><ellipse cx="70.1" cy="49.1" rx="3.0" ry="3.1" transform="rotate(134 70.1 49.1)" fill="#e4d994"/><ellipse cx="13.0" cy="4.7" rx="3.1" ry="2.5" transform="rotate(124 13.0 4.7)" fill="#bab76d"/><ellipse cx="13.0" cy="70.7" rx="3.1" ry="2.5" transform="rotate(124 13.0 70.7)" fill="#bab76d"/><ellipse cx="29.9" cy="18.6" rx="3.8" ry="2.4" transform="rotate(39 29.9 18.6)" fill="#b1a36f"/><ellipse cx="53.7" cy="34.5" rx="2.9" ry="2.8" transform="rotate(166 53.7 34.5)" fill="#cac17b"/><ellipse cx="24.3" cy="1.2" rx="3.3" ry="2.2" transform="rotate(123 24.3 1.2)" fill="#ccc389"/><ellipse cx="24.3" cy="67.2" rx="3.3" ry="2.2" transform="rotate(123 24.3 67.2)" fill="#ccc389"/><ellipse cx="39.6" cy="17.6" rx="3.6" ry="2.5" transform="rotate(7 39.6 17.6)" fill="#e6dd9c"/><ellipse cx="32.3" cy="31.1" rx="3.7" ry="2.2" transform="rotate(90 32.3 31.1)" fill="#e4d49c"/><ellipse cx="25.7" cy="36.6" rx="3.1" ry="3.0" transform="rotate(38 25.7 36.6)" fill="#d8ce88"/><ellipse cx="8.8" cy="25.2" rx="3.8" ry="2.9" transform="rotate(156 8.8 25.2)" fill="#e5d592"/><ellipse cx="-3.1" cy="20.3" rx="3.6" ry="2.8" transform="rotate(127 -3.1 20.3)" fill="#beb573"/><ellipse cx="68.9" cy="20.3" rx="3.6" ry="2.8" transform="rotate(127 68.9 20.3)" fill="#beb573"/><ellipse cx="61.4" cy="52.8" rx="3.6" ry="2.7" transform="rotate(78 61.4 52.8)" fill="#bbb379"/><ellipse cx="36.8" cy="2.0" rx="3.7" ry="3.0" transform="rotate(106 36.8 2.0)" fill="#b6a771"/><ellipse cx="36.8" cy="68.0" rx="3.7" ry="3.0" transform="rotate(106 36.8 68.0)" fill="#b6a771"/><ellipse cx="55.2" cy="28.3" rx="3.7" ry="2.4" transform="rotate(159 55.2 28.3)" fill="#cabb85"/><ellipse cx="-4.9" cy="45.0" rx="2.9" ry="3.1" transform="rotate(121 -4.9 45.0)" fill="#ceca81"/><ellipse cx="67.1" cy="45.0" rx="2.9" ry="3.1" transform="rotate(121 67.1 45.0)" fill="#ceca81"/><ellipse cx="57.6" cy="9.8" rx="3.5" ry="2.3" transform="rotate(115 57.6 9.8)" fill="#b6a671"/><ellipse cx="19.5" cy="35.2" rx="3.7" ry="2.3" transform="rotate(41 19.5 35.2)" fill="#bab16a"/><ellipse cx="65.9" cy="55.3" rx="3.7" ry="3.0" transform="rotate(159 65.9 55.3)" fill="#bdb071"/><ellipse cx="21.4" cy="43.0" rx="3.1" ry="2.3" transform="rotate(38 21.4 43.0)" fill="#c2b582"/><ellipse cx="49.4" cy="57.2" rx="3.8" ry="2.6" transform="rotate(136 49.4 57.2)" fill="#d4c78c"/><ellipse cx="30.3" cy="60.6" rx="2.8" ry="3.0" transform="rotate(2 30.3 60.6)" fill="#d3cc92"/><ellipse cx="58.3" cy="40.1" rx="3.3" ry="2.4" transform="rotate(176 58.3 40.1)" fill="#ccc182"/><ellipse cx="13.6" cy="19.1" rx="2.9" ry="2.4" transform="rotate(173 13.6 19.1)" fill="#d7cc95"/><ellipse cx="28.9" cy="54.8" rx="3.1" ry="2.7" transform="rotate(53 28.9 54.8)" fill="#c3ba82"/><ellipse cx="65.0" cy="15.7" rx="3.1" ry="2.4" transform="rotate(168 65.0 15.7)" fill="#d3c990"/><ellipse cx="-1.0" cy="15.6" rx="3.1" ry="2.3" transform="rotate(30 -1.0 15.6)" fill="#d3c688"/><ellipse cx="71.0" cy="15.6" rx="3.1" ry="2.3" transform="rotate(30 71.0 15.6)" fill="#d3c688"/><ellipse cx="24.6" cy="-3.7" rx="2.9" ry="2.3" transform="rotate(53 24.6 -3.7)" fill="#c6bd7a"/><ellipse cx="24.6" cy="62.3" rx="2.9" ry="2.3" transform="rotate(53 24.6 62.3)" fill="#c6bd7a"/><ellipse cx="-4.1" cy="34.3" rx="3.0" ry="2.5" transform="rotate(13 -4.1 34.3)" fill="#d7cd92"/><ellipse cx="67.9" cy="34.3" rx="3.0" ry="2.5" transform="rotate(13 67.9 34.3)" fill="#d7cd92"/><ellipse cx="6.1" cy="14.6" rx="2.9" ry="3.0" transform="rotate(151 6.1 14.6)" fill="#bca879"/><ellipse cx="12.0" cy="29.5" rx="3.3" ry="2.8" transform="rotate(48 12.0 29.5)" fill="#cec17e"/><ellipse cx="45.5" cy="3.2" rx="2.9" ry="2.4" transform="rotate(164 45.5 3.2)" fill="#bdb06d"/><ellipse cx="45.5" cy="69.2" rx="2.9" ry="2.4" transform="rotate(164 45.5 69.2)" fill="#bdb06d"/><ellipse cx="24.7" cy="20.6" rx="3.4" ry="2.5" transform="rotate(130 24.7 20.6)" fill="#e2cd8c"/><ellipse cx="-3.0" cy="8.0" rx="3.4" ry="2.5" transform="rotate(128 -3.0 8.0)" fill="#ccb876"/><ellipse cx="69.0" cy="8.0" rx="3.4" ry="2.5" transform="rotate(128 69.0 8.0)" fill="#ccb876"/><ellipse cx="7.4" cy="-3.9" rx="3.3" ry="3.0" transform="rotate(129 7.4 -3.9)" fill="#e7d4a0"/><ellipse cx="7.4" cy="62.1" rx="3.3" ry="3.0" transform="rotate(129 7.4 62.1)" fill="#e7d4a0"/><ellipse cx="4.9" cy="30.7" rx="3.3" ry="2.6" transform="rotate(111 4.9 30.7)" fill="#baac69"/><ellipse cx="76.9" cy="30.7" rx="3.3" ry="2.6" transform="rotate(111 76.9 30.7)" fill="#baac69"/><ellipse cx="43.9" cy="43.1" rx="3.4" ry="2.4" transform="rotate(126 43.9 43.1)" fill="#c9bc7d"/><ellipse cx="20.1" cy="4.0" rx="3.3" ry="2.9" transform="rotate(83 20.1 4.0)" fill="#cbbc85"/><ellipse cx="20.1" cy="70.0" rx="3.3" ry="2.9" transform="rotate(83 20.1 70.0)" fill="#cbbc85"/><ellipse cx="20.4" cy="60.9" rx="3.1" ry="2.6" transform="rotate(115 20.4 60.9)" fill="#cbc07b"/><ellipse cx="54.4" cy="0.6" rx="3.0" ry="3.1" transform="rotate(130 54.4 0.6)" fill="#d5cd93"/><ellipse cx="54.4" cy="66.6" rx="3.0" ry="3.1" transform="rotate(130 54.4 66.6)" fill="#d5cd93"/><ellipse cx="17.7" cy="22.0" rx="3.6" ry="3.1" transform="rotate(134 17.7 22.0)" fill="#b5ab6e"/><ellipse cx="46.5" cy="18.1" rx="3.3" ry="2.3" transform="rotate(179 46.5 18.1)" fill="#dfcd8d"/><ellipse cx="59.4" cy="57.1" rx="3.9" ry="2.9" transform="rotate(104 59.4 57.1)" fill="#decc99"/><ellipse cx="64.9" cy="28.1" rx="3.4" ry="3.1" transform="rotate(12 64.9 28.1)" fill="#c9b875"/><ellipse cx="26.5" cy="13.8" rx="3.7" ry="2.7" transform="rotate(138 26.5 13.8)" fill="#dacb83"/><ellipse cx="-3.7" cy="59.5" rx="3.6" ry="3.0" transform="rotate(59 -3.7 59.5)" fill="#c0bd7e"/><ellipse cx="68.3" cy="59.5" rx="3.6" ry="3.0" transform="rotate(59 68.3 59.5)" fill="#c0bd7e"/><ellipse cx="39.8" cy="55.0" rx="3.5" ry="2.9" transform="rotate(33 39.8 55.0)" fill="#d8c78a"/><ellipse cx="66.3" cy="40.6" rx="3.6" ry="2.8" transform="rotate(123 66.3 40.6)" fill="#dcca8e"/><ellipse cx="32.2" cy="51.2" rx="3.8" ry="2.9" transform="rotate(165 32.2 51.2)" fill="#c6b379"/><ellipse cx="33.1" cy="9.7" rx="3.4" ry="2.7" transform="rotate(68 33.1 9.7)" fill="#d7cb8e"/><ellipse cx="33.8" cy="-1.1" rx="3.2" ry="3.0" transform="rotate(96 33.8 -1.1)" fill="#b0a26f"/><ellipse cx="33.8" cy="64.9" rx="3.2" ry="3.0" transform="rotate(96 33.8 64.9)" fill="#b0a26f"/><ellipse cx="60.0" cy="28.4" rx="3.5" ry="2.7" transform="rotate(106 60.0 28.4)" fill="#cfbd7d"/><ellipse cx="30.9" cy="41.0" rx="3.3" ry="2.3" transform="rotate(138 30.9 41.0)" fill="#d7c68b"/><ellipse cx="64.0" cy="20.4" rx="2.8" ry="2.8" transform="rotate(105 64.0 20.4)" fill="#c6c187"/><ellipse cx="63.6" cy="0.8" rx="3.4" ry="2.6" transform="rotate(8 63.6 0.8)" fill="#d6ce95"/><ellipse cx="63.6" cy="66.8" rx="3.4" ry="2.6" transform="rotate(8 63.6 66.8)" fill="#d6ce95"/><ellipse cx="60.3" cy="4.4" rx="3.4" ry="2.3" transform="rotate(136 60.3 4.4)" fill="#bcb370"/><ellipse cx="60.3" cy="70.4" rx="3.4" ry="2.3" transform="rotate(136 60.3 70.4)" fill="#bcb370"/><ellipse cx="21.1" cy="9.4" rx="3.7" ry="3.0" transform="rotate(19 21.1 9.4)" fill="#d8c48f"/></pattern>
<filter id="soft" x="0" y="0" width="1" height="1"><feGaussianBlur stdDeviation="0.85"/></filter>
<filter id="bed0" x="0" y="0" width="1" height="1" color-interpolation-filters="sRGB">
<feTurbulence type="turbulence" baseFrequency="0.14" numOctaves="1" seed="4" result="n"/>
<feColorMatrix in="n" type="matrix" values="-1.0 0 0 0 0.960  -1.1 0 0 0 0.916  -0.9 0 0 0 0.584  0 0 0 0 1"/>
<feGaussianBlur stdDeviation="0.8"/>
</filter>
<filter id="bed1" x="0" y="0" width="1" height="1" color-interpolation-filters="sRGB">
<feTurbulence type="turbulence" baseFrequency="0.14" numOctaves="1" seed="11" result="n"/>
<feColorMatrix in="n" type="matrix" values="-1.0 0 0 0 1.010  -1.1 0 0 0 0.956  -0.9 0 0 0 0.564  0 0 0 0 1"/>
<feGaussianBlur stdDeviation="0.8"/>
</filter>
<filter id="bed2" x="0" y="0" width="1" height="1" color-interpolation-filters="sRGB">
<feTurbulence type="turbulence" baseFrequency="0.15" numOctaves="1" seed="5" result="n"/>
<feColorMatrix in="n" type="matrix" values="-1.0 0 0 0 0.950  -1.1 0 0 0 0.926  -0.9 0 0 0 0.624  0 0 0 0 1"/>
<feGaussianBlur stdDeviation="0.8"/>
</filter>
<filter id="bed3" x="0" y="0" width="1" height="1" color-interpolation-filters="sRGB">
<feTurbulence type="turbulence" baseFrequency="0.14" numOctaves="1" seed="3" result="n"/>
<feColorMatrix in="n" type="matrix" values="-1.0 0 0 0 0.970  -1.1 0 0 0 0.916  -0.9 0 0 0 0.574  0 0 0 0 1"/>
<feGaussianBlur stdDeviation="0.8"/>
</filter>
<filter id="bed4" x="0" y="0" width="1" height="1" color-interpolation-filters="sRGB">
<feTurbulence type="turbulence" baseFrequency="0.15" numOctaves="1" seed="9" result="n"/>
<feColorMatrix in="n" type="matrix" values="-1.1 0 0 0 0.896  -1.2100000000000002 0 0 0 0.864  -0.9900000000000001 0 0 0 0.588  0 0 0 0 1"/>
<feGaussianBlur stdDeviation="0.8"/>
</filter>
<filter id="bl1" x="-30%" y="-30%" width="160%" height="160%"><feGaussianBlur stdDeviation="1.2"/></filter>
<filter id="bl2" x="-30%" y="-30%" width="160%" height="160%"><feGaussianBlur stdDeviation="0.7"/></filter>
<filter id="bl3" x="-30%" y="-30%" width="160%" height="160%"><feGaussianBlur stdDeviation="2"/></filter>
<clipPath id="cp0"><rect x="14.6" y="121.3" width="131.1" height="117.7"/></clipPath>
<clipPath id="cp1"><rect x="148.7" y="121.3" width="131.0" height="117.7"/></clipPath>
<clipPath id="cp2"><rect x="283.1" y="121.3" width="131.1" height="117.7"/></clipPath>
<clipPath id="cp3"><rect x="418.2" y="121.3" width="130.6" height="117.7"/></clipPath>
<clipPath id="cp4"><rect x="552.5" y="121.3" width="130.9" height="117.7"/></clipPath></defs>
<rect width="685" height="596" fill="#fff"/>
<text x="30" y="13" font-family="Liberation Sans" font-weight="bold" font-size="17">a</text>
<rect x="50" y="62" width="252" height="16.5" fill="#e8e9e9"/>
<line x1="120" y1="62.4" x2="290" y2="62.4" stroke="#c4c4c4" stroke-width="0.7" stroke-dasharray="2 1.6"/>
<polygon points="302,62 652.5,62 652.5,78.5 296,78.5" fill="#d0d3d5"/>
<line x1="450" y1="62.4" x2="560" y2="62.4" stroke="#b4b6b8" stroke-width="0.7" stroke-dasharray="2 1.6"/>
<polygon points="304.8,61 309.2,61 300,89 295.7,89" fill="#fff"/>
<polygon points="301.2,65.6 304.8,65.6 295.7,88.6 291,88.6" fill="#111"/>
<polygon points="309.2,65.6 313.8,65.6 304.1,88.6 299.3,88.6" fill="#111"/>
<line x1="50" y1="79.8" x2="294.5" y2="79.8" stroke="#111" stroke-width="2.4"/>
<line x1="307.5" y1="79.8" x2="642" y2="79.8" stroke="#111" stroke-width="2.4"/>
<line x1="50.2" y1="75" x2="50.2" y2="84.7" stroke="#111" stroke-width="2.5"/>
<polygon points="640,74 652.5,79.8 640,85.5" fill="#111"/>
<line x1="315.8" y1="28" x2="315.8" y2="60" stroke="#111" stroke-width="2"/>
<circle cx="315.8" cy="24" r="4.2" fill="#fff" stroke="#111" stroke-width="1.9"/>
<text x="312.3" y="99.8" font-family="Liberation Sans" font-weight="bold" font-size="10.8" text-anchor="middle">p10</text>
<line x1="345.14" y1="28" x2="345.14" y2="60" stroke="#111" stroke-width="2"/>
<circle cx="345.14" cy="24" r="4.2" fill="#fff" stroke="#111" stroke-width="1.9"/>
<text x="341.64" y="99.8" font-family="Liberation Sans" font-weight="bold" font-size="10.8" text-anchor="middle">p11</text>
<line x1="374.48" y1="28" x2="374.48" y2="60" stroke="#111" stroke-width="2"/>
<circle cx="374.48" cy="24" r="4.2" fill="#fff" stroke="#111" stroke-width="1.9"/>
<text x="370.98" y="99.8" font-family="Liberation Sans" font-weight="bold" font-size="10.8" text-anchor="middle">p12</text>
<line x1="403.82" y1="28" x2="403.82" y2="60" stroke="#111" stroke-width="2"/>
<circle cx="403.82" cy="24" r="4.2" fill="#fff" stroke="#111" stroke-width="1.9"/>
<text x="400.32" y="99.8" font-family="Liberation Sans" font-weight="bold" font-size="10.8" text-anchor="middle">p13</text>
<line x1="433.16" y1="28" x2="433.16" y2="60" stroke="#111" stroke-width="2"/>
<circle cx="433.16" cy="24" r="4.2" fill="#fff" stroke="#111" stroke-width="1.9"/>
<text x="429.66" y="99.8" font-family="Liberation Sans" font-weight="bold" font-size="10.8" text-anchor="middle">p14</text>
<line x1="462.5" y1="28" x2="462.5" y2="60" stroke="#111" stroke-width="2"/>
<circle cx="462.5" cy="24" r="4.2" fill="#fff" stroke="#111" stroke-width="1.9"/>
<text x="459" y="99.8" font-family="Liberation Sans" font-weight="bold" font-size="10.8" text-anchor="middle">p15</text>
<line x1="491.84" y1="28" x2="491.84" y2="60" stroke="#111" stroke-width="2"/>
<circle cx="491.84" cy="24" r="4.2" fill="#fff" stroke="#111" stroke-width="1.9"/>
<text x="488.34" y="99.8" font-family="Liberation Sans" font-weight="bold" font-size="10.8" text-anchor="middle">p16</text>
<line x1="521.18" y1="28" x2="521.18" y2="60" stroke="#111" stroke-width="2"/>
<circle cx="521.18" cy="24" r="4.2" fill="#fff" stroke="#111" stroke-width="1.9"/>
<text x="517.68" y="99.8" font-family="Liberation Sans" font-weight="bold" font-size="10.8" text-anchor="middle">p17</text>
<line x1="550.52" y1="28" x2="550.52" y2="60" stroke="#111" stroke-width="2"/>
<circle cx="550.52" cy="24" r="4.2" fill="#fff" stroke="#111" stroke-width="1.9"/>
<text x="547.02" y="99.8" font-family="Liberation Sans" font-weight="bold" font-size="10.8" text-anchor="middle">p18</text>
<line x1="579.86" y1="28" x2="579.86" y2="60" stroke="#111" stroke-width="2"/>
<circle cx="579.86" cy="24" r="4.2" fill="#fff" stroke="#111" stroke-width="1.9"/>
<text x="576.36" y="99.8" font-family="Liberation Sans" font-weight="bold" font-size="10.8" text-anchor="middle">p19</text>
<line x1="609.2" y1="28" x2="609.2" y2="60" stroke="#111" stroke-width="2"/>
<circle cx="609.2" cy="24" r="4.2" fill="#fff" stroke="#111" stroke-width="1.9"/>
<text x="605.7" y="99.8" font-family="Liberation Sans" font-weight="bold" font-size="10.8" text-anchor="middle">p20</text>
<line x1="638.54" y1="28" x2="638.54" y2="60" stroke="#111" stroke-width="2"/>
<circle cx="638.54" cy="24" r="4.2" fill="#fff" stroke="#111" stroke-width="1.9"/>
<text x="640.04" y="99.8" font-family="Liberation Sans" font-weight="bold" font-size="10.8" text-anchor="middle">p21</text>
<text x="478.2" y="10.5" font-family="Liberation Sans" font-weight="bold" font-size="11" text-anchor="middle">Vehicle/OV350 (50 mg/kg)</text>
<text x="493.6" y="74.5" font-family="Liberation Sans" font-weight="bold" font-size="11" text-anchor="middle">Video Recordings</text>
<text x="179.3" y="74.3" font-family="Liberation Sans" font-weight="bold" font-size="11" text-anchor="middle">WT/<tspan font-style="italic">Cdkl5</tspan> KO pups</text>
<text x="154.8" y="94.8" font-family="Liberation Sans" font-weight="bold" font-size="10.8" text-anchor="middle">Age</text>
<text x="228.3" y="94.8" font-family="Liberation Sans" font-weight="bold" font-size="10.8" text-anchor="middle">p10</text>
<g><path d="M93.7,16.1 C95.6,16.7 100.9,19.4 104.9,21.1 C108.8,22.7 113.3,24.6 117.3,26.1 C121.2,27.5 124.9,29.1 128.4,29.8 C131.9,30.5 136.3,29.5 138.3,30.3 C140.4,31.0 142.5,33.7 140.8,34.2 C139.2,34.8 132.4,34.2 128.4,33.5 C124.5,32.8 121.2,31.7 117.3,30.3 C113.3,28.8 108.9,26.9 104.9,24.8 C100.8,22.7 95.0,19.3 93.2,17.9 C91.3,16.4 91.7,15.6 93.7,16.1Z" fill="#a88876" filter="url(#bl2)"/><path d="M157.0,17.4 C157.0,15.9 161.3,13.0 163.2,11.2 C165.0,9.3 166.9,7.6 168.1,6.2 C169.4,4.8 169.7,3.3 170.6,3.0 C171.6,2.7 173.5,3.5 173.8,4.5 C174.1,5.4 173.3,7.2 172.3,8.7 C171.4,10.2 169.7,11.8 168.1,13.6 C166.6,15.5 165.0,19.2 163.2,19.9 C161.3,20.5 157.0,18.8 157.0,17.4Z" fill="#c8a49c" filter="url(#bl2)"/><path d="M190.5,18.6 C190.5,17.4 192.9,15.3 194.2,14.4 C195.4,13.4 196.7,12.8 197.9,12.9 C199.1,13.0 201.0,13.9 201.1,14.9 C201.3,15.8 199.8,17.5 198.6,18.6 C197.5,19.8 195.5,21.8 194.2,21.8 C192.8,21.8 190.5,19.9 190.5,18.6Z" fill="#c8a49c" filter="url(#bl2)"/><path d="M155.7,48.4 C155.5,49.4 158.4,51.8 159.4,53.3 C160.5,54.9 160.7,56.5 161.9,57.6 C163.2,58.6 165.6,59.7 166.9,59.6 C168.1,59.4 169.6,57.8 169.4,56.6 C169.2,55.3 167.1,53.7 165.6,52.1 C164.2,50.5 162.3,47.8 160.7,47.1 C159.0,46.5 155.9,47.4 155.7,48.4Z" fill="#c09890" filter="url(#bl2)"/><path d="M199.1,44.7 C199.6,44.0 202.5,45.3 204.1,45.9 C205.8,46.5 207.8,47.4 209.1,48.4 C210.3,49.4 211.8,51.4 211.6,52.1 C211.3,52.8 209.5,53.0 207.8,52.6 C206.2,52.2 203.1,51.0 201.6,49.6 C200.2,48.3 198.7,45.3 199.1,44.7Z" fill="#c09890" filter="url(#bl2)"/><path d="M137.6,31.0 C138.1,29.2 142.2,27.5 144.6,26.1 C147.0,24.6 149.5,23.4 152.0,22.3 C154.5,21.2 157.0,20.1 159.4,19.4 C161.9,18.6 164.0,17.8 166.9,17.9 C169.8,17.9 173.1,19.7 176.8,19.9 C180.5,20.0 186.3,19.0 189.2,18.6 C192.1,18.2 192.1,17.4 194.2,17.4 C196.2,17.4 198.7,18.0 201.6,18.6 C204.5,19.2 208.9,20.1 211.6,21.1 C214.2,22.1 216.3,23.2 217.8,24.8 C219.2,26.5 220.2,28.9 220.2,31.0 C220.2,33.1 219.2,35.6 217.8,37.2 C216.3,38.9 213.4,39.7 211.6,40.9 C209.7,42.2 208.7,43.8 206.6,44.7 C204.5,45.6 202.0,45.8 199.1,46.4 C196.2,47.0 192.5,47.8 189.2,48.4 C185.9,48.9 182.6,49.1 179.3,49.6 C176.0,50.1 172.7,50.9 169.4,51.4 C166.1,51.9 162.3,52.8 159.4,52.6 C156.5,52.4 154.3,51.5 152.0,50.1 C149.7,48.7 147.5,46.3 145.8,44.2 C144.1,42.0 142.9,39.4 141.6,37.2 C140.2,35.0 137.1,32.9 137.6,31.0Z" fill="#2c2320" filter="url(#bl2)"/><path d="M149.0,24.8 C149.4,22.5 151.5,21.9 152.5,23.6 C153.5,25.2 154.4,30.6 155.0,34.7 C155.5,38.9 156.2,45.9 155.7,48.4 C155.2,50.9 152.9,51.5 152.0,49.6 C151.0,47.8 150.5,41.4 150.0,37.2 C149.5,33.1 148.6,27.1 149.0,24.8Z" fill="#7d706a" opacity="0.5" filter="url(#bl1)"/><path d="M201.6,19.9 C203.8,18.9 209.9,20.6 212.8,21.8 C215.7,23.1 217.9,25.4 219.0,27.3 C220.1,29.2 220.1,31.5 219.5,33.5 C218.9,35.5 217.4,37.8 215.3,39.2 C213.1,40.7 208.9,42.5 206.6,42.2 C204.3,41.9 202.8,39.7 201.6,37.2 C200.5,34.7 199.6,30.2 199.6,27.3 C199.6,24.4 199.4,20.8 201.6,19.9Z" fill="#1c1615" filter="url(#bl1)"/><path d="M179.3,20.3 C180.9,19.4 189.2,18.8 191.7,19.4 C194.2,19.9 195.8,22.7 194.2,23.6 C192.5,24.5 184.3,25.4 181.8,24.8 C179.3,24.3 177.6,21.3 179.3,20.3Z" fill="#5a4e4a" opacity="0.6" filter="url(#bl2)"/></g>
<text x="1.5" y="114.6" font-family="Liberation Sans" font-weight="bold" font-size="17">b</text>
<text x="77" y="118" font-family="Liberation Sans" font-weight="bold" font-size="11" text-anchor="middle">WT-Veh</text>
<text x="416" y="117.8" font-family="Liberation Sans" font-weight="bold" font-size="11" text-anchor="middle">KO-Veh</text>
<line x1="152" y1="114" x2="388.2" y2="114" stroke="#111" stroke-width="1.7"/>
<polygon points="148,114 152.7,110.8 152.7,117.2" fill="#ccc" stroke="#111" stroke-width="1.5" stroke-linejoin="miter"/>
<line x1="442.5" y1="114" x2="679" y2="114" stroke="#111" stroke-width="1.7"/>
<polygon points="683,114 678.3,110.8 678.3,117.2" fill="#ccc" stroke="#111" stroke-width="1.5"/>
<text x="211.6" y="251.8" font-family="Liberation Sans" font-weight="bold" font-size="11" text-anchor="middle">Limbs movement</text>
<text x="346" y="251.8" font-family="Liberation Sans" font-weight="bold" font-size="11" text-anchor="middle">Flexion</text>
<text x="484.8" y="251.8" font-family="Liberation Sans" font-weight="bold" font-size="11" text-anchor="middle">Extension</text>
<text x="616.3" y="251.8" font-family="Liberation Sans" font-weight="bold" font-size="11" text-anchor="middle">Curved Spine</text>
<g clip-path="url(#cp0)">
<g filter="url(#soft)"><rect x="14.6" y="121.3" width="131.1" height="117.7" fill="url(#pel0)"/></g>
<path d="M127.8,123.0 C129.9,129.2 138.2,153.0 140.7,160.6 C143.1,168.2 142.3,167.2 142.6,168.5" fill="none" stroke="#85868e" stroke-width="3.2" stroke-linecap="round" stroke-linejoin="round" filter="url(#bl2)"/>
<path d="M101.1,197.2 C102.7,195.2 109.8,192.1 112.0,193.2 C114.1,194.4 114.8,201.2 113.9,204.1 C113.1,207.1 109.0,210.9 107.0,211.0 C105.0,211.2 103.1,207.4 102.1,205.1 C101.1,202.8 99.4,199.2 101.1,197.2Z" fill="#3c4250" filter="url(#bl1)" opacity="0.9"/>
<path d="M120.9,190.3 C122.0,188.2 126.9,185.9 128.4,187.9 C129.9,189.9 130.4,198.8 129.8,202.1 C129.2,205.5 126.1,208.4 124.8,208.1 C123.5,207.7 122.5,203.1 121.9,200.2 C121.2,197.2 119.8,192.3 120.9,190.3Z" fill="#404856" filter="url(#bl1)" opacity="0.85"/>
<path d="M14.0,168.9 C15.6,169.3 20.3,170.5 23.9,171.5 C27.5,172.5 33.8,174.3 35.8,174.8" fill="none" stroke="#6a5048" stroke-width="5" stroke-linecap="round" stroke-linejoin="round" filter="url(#bl2)"/>
<path d="M48.6,192.2 C50.4,190.6 58.9,191.6 61.5,194.2 C64.1,196.9 62.8,203.6 64.5,208.1 C66.1,212.5 70.2,217.6 71.4,220.9 C72.5,224.2 72.5,226.9 71.4,227.9 C70.2,228.9 66.9,228.9 64.5,226.9 C62.0,224.9 58.9,219.8 56.5,216.0 C54.2,212.2 51.9,208.1 50.6,204.1 C49.3,200.2 46.8,193.9 48.6,192.2Z" fill="#3a2a28" filter="url(#bl1)" />
<path d="M59.5,214.0 C60.7,215.7 65.3,222.3 66.4,223.9" fill="none" stroke="#5a4038" stroke-width="5" stroke-linecap="round" stroke-linejoin="round" filter="url(#bl1)"/>
<path d="M32.8,171.5 C34.1,169.2 41.4,166.0 43.7,163.5 C46.0,161.1 45.0,158.9 46.7,156.6 C48.3,154.3 50.4,151.3 53.6,149.7 C56.7,148.0 61.2,147.4 65.5,146.7 C69.7,146.1 75.0,146.1 79.3,145.7 C83.6,145.4 88.2,145.6 91.2,144.7 C94.2,143.9 94.5,141.6 97.1,140.8 C99.8,140.0 103.4,139.1 107.0,139.8 C110.6,140.5 115.3,142.6 118.9,144.7 C122.5,146.9 126.1,150.2 128.8,152.7 C131.4,155.1 133.7,157.3 134.7,159.6 C135.8,161.9 135.8,164.5 135.1,166.5 C134.5,168.5 133.0,169.5 130.8,171.5 C128.6,173.4 124.8,176.6 121.9,178.4 C118.9,180.2 116.4,180.5 113.0,182.3 C109.5,184.2 104.4,187.0 101.1,189.3 C97.8,191.6 96.1,194.4 93.2,196.2 C90.2,198.0 87.6,199.5 83.3,200.2 C79.0,200.8 71.7,200.3 67.4,200.2 C63.1,200.0 60.7,200.5 57.5,199.2 C54.4,197.9 50.9,194.7 48.6,192.2 C46.3,189.8 45.8,186.8 43.7,184.3 C41.5,181.9 37.6,179.5 35.8,177.4 C34.0,175.3 31.5,173.8 32.8,171.5Z" fill="#161314" filter="url(#bl1)" />
<ellipse cx="105.3" cy="172.9" rx="7" ry="5.6" transform="rotate(20 105.3 172.9)" fill="#6e5846" filter="url(#bl2)"/>
<ellipse cx="106" cy="173.5" rx="4.2" ry="3.2" transform="rotate(20 106 173.5)" fill="#7e6650" filter="url(#bl2)"/>
<rect x="14.6" y="121.89999999999999" width="131.1" height="1" fill="#f4f4f0" opacity="0.8"/>
<rect x="14.6" y="237.2" width="131.1" height="1.1" fill="#f4f4f0" opacity="0.6"/>
<rect x="144.0" y="121.3" width="1" height="117.7" fill="#f4f4f0" opacity="0.5"/>
</g>
<rect x="14.6" y="121.3" width="131.1" height="117.7" fill="none" stroke="#1e1e1e" stroke-width="1.3"/>
<g clip-path="url(#cp1)">
<g filter="url(#soft)"><rect x="148.7" y="121.3" width="131.0" height="117.7" fill="url(#pel1)"/></g>
<rect x="148.7" y="121.3" width="131.0" height="117.7" fill="#ffe860" opacity="0.08"/>
<path d="M140.1,113.1 C145.7,90.7 168.8,108.5 173.7,113.1 C178.7,117.7 171.4,131.9 169.8,140.8 C168.1,149.7 165.5,159.3 163.8,166.5 C162.2,173.8 160.5,175.4 159.9,184.3 C159.2,193.2 159.2,209.4 159.9,220.0 C160.5,230.5 167.1,243.0 163.8,247.7 C160.5,252.3 144.0,270.1 140.1,247.7 C136.1,225.2 134.5,135.5 140.1,113.1Z" fill="#b6c1ca" filter="url(#bl1)" />
<path d="M171.7,123.0 C171.1,127.6 169.8,142.1 167.8,150.7 C165.8,159.3 162.8,169.5 159.9,174.4 C156.9,179.4 151.6,179.4 150.0,180.4" fill="none" stroke="#2c3644" stroke-width="3.5" stroke-linecap="round" stroke-linejoin="round" filter="url(#bl1)"/>
<path d="M148.0,186.3 C149.6,177.7 155.9,186.6 157.9,192.2 C159.9,197.9 159.5,211.4 159.9,220.0 C160.2,228.5 161.9,239.7 159.9,243.7 C157.9,247.7 150.0,253.3 148.0,243.7 C146.0,234.1 146.4,194.9 148.0,186.3Z" fill="#8d98a2" filter="url(#bl1)" />
<path d="M185.6,200.2 C187.9,197.5 198.6,196.9 201.4,199.2 C204.2,201.5 204.7,211.4 202.4,214.0 C200.1,216.7 190.4,217.3 187.6,215.0 C184.8,212.7 183.3,202.8 185.6,200.2Z" fill="#5a6a80" filter="url(#bl1)" />
<path d="M165.8,204.1 C166.5,206.8 167.5,215.3 169.8,220.0 C172.1,224.6 175.5,228.7 179.7,231.8 C183.8,235.0 192.0,237.6 194.5,238.8" fill="none" stroke="#6a4848" stroke-width="5.5" stroke-linecap="round" stroke-linejoin="round" filter="url(#bl2)"/>
<path d="M201.4,123.0 C202.8,120.3 211.3,120.0 213.3,122.0 C215.3,124.0 214.6,132.2 213.3,134.9 C212.0,137.5 207.4,139.8 205.4,137.8 C203.4,135.8 200.1,125.6 201.4,123.0Z" fill="#a88280" filter="url(#bl1)" />
<path d="M157.9,186.3 C157.9,182.7 158.2,181.0 159.9,178.4 C161.5,175.8 164.2,172.9 167.8,170.5 C171.4,168.0 177.7,166.2 181.6,163.5 C185.6,160.9 188.6,158.1 191.5,154.6 C194.5,151.2 197.1,146.1 199.5,142.8 C201.8,139.5 203.1,137.0 205.4,134.9 C207.7,132.7 209.7,131.1 213.3,129.9 C216.9,128.8 222.9,127.9 227.2,127.9 C231.4,127.9 235.7,128.4 239.0,129.9 C242.3,131.4 245.5,134.4 247.0,136.8 C248.4,139.3 248.6,142.1 247.9,144.7 C247.3,147.4 245.1,150.4 243.0,152.7 C240.8,155.0 237.7,156.6 235.1,158.6 C232.4,160.6 229.5,162.2 227.2,164.5 C224.9,166.8 223.5,169.5 221.2,172.5 C218.9,175.4 215.6,179.1 213.3,182.3 C211.0,185.6 209.0,189.6 207.4,192.2 C205.7,194.9 205.4,196.2 203.4,198.2 C201.4,200.2 198.1,202.8 195.5,204.1 C192.9,205.4 190.5,205.4 187.6,206.1 C184.6,206.8 181.0,208.1 177.7,208.1 C174.4,208.1 170.8,207.4 167.8,206.1 C164.8,204.8 161.5,203.5 159.9,200.2 C158.2,196.9 157.9,189.9 157.9,186.3Z" fill="#302a2d" filter="url(#bl1)" />
<path d="M224.2,137.8 C224.7,135.5 228.5,135.7 230.1,136.8 C231.8,138.0 233.8,141.9 234.1,144.7 C234.4,147.6 233.3,152.7 232.1,153.7 C231.0,154.6 228.5,153.3 227.2,150.7 C225.8,148.0 223.7,140.1 224.2,137.8Z" fill="#7a5c5e" filter="url(#bl1)" />
<path d="M230.1,147.7 C231.8,145.6 238.5,142.9 241.0,143.8 C243.5,144.6 245.8,150.0 245.0,152.7 C244.1,155.3 238.4,158.9 236.1,159.6 C233.8,160.3 232.1,158.6 231.1,156.6 C230.1,154.6 228.5,149.9 230.1,147.7Z" fill="#121012" filter="url(#bl1)" />
<path d="M175.7,190.3 C178.0,187.6 184.3,184.7 187.6,184.3 C190.9,184.0 194.3,185.8 195.5,188.3 C196.7,190.8 195.8,196.2 194.5,199.2 C193.2,202.1 190.1,204.8 187.6,206.1 C185.1,207.4 182.0,208.1 179.7,207.1 C177.4,206.1 174.4,203.0 173.7,200.2 C173.1,197.4 173.4,192.9 175.7,190.3Z" fill="#6a4c4e" filter="url(#bl1)" />
<path d="M180.7,187.3 C182.3,187.1 188.3,185.3 190.5,186.3 C192.8,187.3 194.4,190.3 193.9,193.2 C193.4,196.2 188.6,202.3 187.6,204.1" fill="none" stroke="#a27c7a" stroke-width="3.2" stroke-linecap="round" stroke-linejoin="round" filter="url(#bl1)"/>
<path d="M177.7,196.2 C178.8,195.5 183.0,191.9 184.6,192.2 C186.3,192.6 187.1,197.2 187.6,198.2" fill="none" stroke="#8e6a6a" stroke-width="2.5" stroke-linecap="round" stroke-linejoin="round" filter="url(#bl1)"/>
<path d="M246.5,179.4 L236.5,164.4 L238.6,163.0 L231.1,159.6 L231.4,167.8 L233.5,166.4 L243.5,181.4Z" fill="#f4251f" filter="url(#bl2)"/>
<path d="M206.9,226.9 L195.8,210.0 L197.9,208.6 L190.5,205.1 L190.7,213.3 L192.8,211.9 L203.9,228.9Z" fill="#f4251f" filter="url(#bl2)"/>
<text x="268.6" y="134.9" font-family="Liberation Sans" font-size="14">1</text>
<rect x="148.7" y="121.89999999999999" width="131.0" height="1" fill="#f4f4f0" opacity="0.8"/>
<rect x="148.7" y="237.2" width="131.0" height="1.1" fill="#f4f4f0" opacity="0.6"/>
<rect x="278.0" y="121.3" width="1" height="117.7" fill="#f4f4f0" opacity="0.5"/>
</g>
<rect x="148.7" y="121.3" width="131.0" height="117.7" fill="none" stroke="#1e1e1e" stroke-width="1.3"/>
<g clip-path="url(#cp2)">
<g filter="url(#soft)"><rect x="283.1" y="121.3" width="131.1" height="117.7" fill="url(#pel2)"/></g>
<rect x="283.1" y="121.3" width="131.1" height="117.7" fill="#fff8e0" opacity="0.08"/>
<path d="M275.1,113.1 C300.2,109.1 400.4,108.5 425.5,113.1 C450.6,117.7 434.4,136.3 425.5,140.8 C416.6,145.2 385.9,140.3 372.1,139.8 C358.2,139.3 353.3,138.3 342.4,137.8 C331.5,137.3 318.0,137.0 306.7,136.8 C295.5,136.7 280.4,140.8 275.1,136.8 C269.8,132.9 250.0,117.0 275.1,113.1Z" fill="#a9b6c3" filter="url(#bl1)" />
<path d="M348.3,123.0 C353.3,121.0 373.0,121.0 378.0,123.0 C382.9,125.0 382.9,132.9 378.0,134.9 C373.0,136.8 353.3,136.8 348.3,134.9 C343.4,132.9 343.4,125.0 348.3,123.0Z" fill="#6a7886" filter="url(#bl1)" />
<path d="M385.9,123.0 C388.5,120.7 399.1,120.7 401.7,123.0 C404.4,125.3 404.4,134.5 401.7,136.8 C399.1,139.1 388.5,139.1 385.9,136.8 C383.3,134.5 383.3,125.3 385.9,123.0Z" fill="#5a6670" filter="url(#bl1)" />
<path d="M312.7,121.0 C313.7,119.5 317.6,119.5 318.6,121.0 C319.6,122.5 319.6,128.4 318.6,129.9 C317.6,131.4 313.7,131.4 312.7,129.9 C311.7,128.4 311.7,122.5 312.7,121.0Z" fill="#55606c" filter="url(#bl1)" />
<path d="M315.7,214.0 C315.5,211.9 318.5,208.4 321.6,206.1 C324.7,203.8 330.0,201.4 334.5,200.2 C338.9,198.9 343.7,198.1 348.3,198.6 C352.9,199.1 358.2,202.7 362.2,203.1 C366.1,203.6 371.1,200.0 372.1,201.2 C373.0,202.3 371.7,207.5 368.1,210.1 C364.5,212.6 355.9,214.8 350.3,216.4 C344.7,217.9 339.1,218.9 334.5,219.4 C329.8,219.8 325.7,219.9 322.6,219.0 C319.4,218.1 315.8,216.2 315.7,214.0Z" fill="#3c2826" filter="url(#bl1)" />
<path d="M320.6,209.1 C322.9,208.4 329.5,205.9 334.5,205.1 C339.4,204.3 345.0,204.9 350.3,204.1 C355.6,203.3 363.5,200.8 366.1,200.2" fill="none" stroke="#6a4846" stroke-width="3.2" stroke-linecap="round" stroke-linejoin="round" filter="url(#bl1)"/>
<path d="M332.5,186.3 C333.8,187.6 337.8,192.1 340.4,194.2 C343.0,196.4 347.0,198.3 348.3,199.2" fill="none" stroke="#2a1e1e" stroke-width="6" stroke-linecap="round" stroke-linejoin="round" filter="url(#bl1)"/>
<path d="M304.8,166.5 C304.3,162.6 304.8,155.6 305.8,150.7 C306.7,145.7 308.2,140.3 310.7,136.8 C313.2,133.4 316.6,131.2 320.6,129.9 C324.6,128.6 329.8,128.4 334.5,128.9 C339.1,129.4 343.7,131.6 348.3,132.9 C352.9,134.2 357.9,134.9 362.2,136.8 C366.4,138.8 370.4,141.8 374.0,144.7 C377.7,147.7 381.5,151.0 383.9,154.6 C386.4,158.3 388.2,162.2 388.9,166.5 C389.5,170.8 389.0,176.1 387.9,180.4 C386.7,184.7 384.3,188.9 382.0,192.2 C379.6,195.5 377.0,198.2 374.0,200.2 C371.1,202.1 367.1,204.1 364.1,204.1 C361.2,204.1 358.9,202.5 356.2,200.2 C353.6,197.9 350.9,193.2 348.3,190.3 C345.7,187.3 343.0,184.3 340.4,182.3 C337.8,180.4 335.4,179.4 332.5,178.4 C329.5,177.4 325.5,176.6 322.6,176.4 C319.6,176.2 317.0,177.7 314.7,177.4 C312.4,177.1 310.4,176.2 308.7,174.4 C307.1,172.6 305.3,170.5 304.8,166.5Z" fill="#131012" filter="url(#bl1)" />
<ellipse cx="338.4" cy="148.6" rx="6.5" ry="8" fill="#a88a90" filter="url(#bl1)"/>
<path d="M289.1,211.4 L306.1,198.8 L307.6,200.8 L310.7,193.2 L302.5,193.9 L304.0,195.9 L286.9,208.6Z" fill="#f4251f" filter="url(#bl2)"/>
<text x="401.2" y="134.2" font-family="Liberation Sans" font-size="14">2</text>
<rect x="283.1" y="121.89999999999999" width="131.1" height="1" fill="#f4f4f0" opacity="0.8"/>
<rect x="283.1" y="237.2" width="131.1" height="1.1" fill="#f4f4f0" opacity="0.6"/>
<rect x="412.50000000000006" y="121.3" width="1" height="117.7" fill="#f4f4f0" opacity="0.5"/>
</g>
<rect x="283.1" y="121.3" width="131.1" height="117.7" fill="none" stroke="#1e1e1e" stroke-width="1.3"/>
<g clip-path="url(#cp3)">
<g filter="url(#soft)"><rect x="418.2" y="121.3" width="130.6" height="117.7" fill="url(#pel3)"/></g>
<path d="M410.1,113.1 C435.2,107.8 535.4,107.8 560.5,113.1 C585.6,118.4 567.7,139.8 560.5,144.7 C553.2,149.7 530.8,143.4 517.0,142.8 C503.1,142.1 490.6,140.8 477.4,140.8 C464.2,140.8 449.0,142.1 437.8,142.8 C426.6,143.4 414.7,149.7 410.1,144.7 C405.5,139.8 385.0,118.4 410.1,113.1Z" fill="#adb9c8" filter="url(#bl1)" />
<path d="M410.1,121.0 C412.7,99.9 423.3,99.9 425.9,121.0 C428.6,142.1 428.6,226.5 425.9,247.7 C423.3,268.8 412.7,268.8 410.1,247.7 C407.4,226.5 407.4,142.1 410.1,121.0Z" fill="#a4aeba" filter="url(#bl1)" />
<path d="M422.0,200.2 C425.9,195.9 441.4,196.2 445.7,200.2 C450.0,204.1 451.6,219.6 447.7,223.9 C443.7,228.2 426.2,229.8 422.0,225.9 C417.7,221.9 418.0,204.4 422.0,200.2Z" fill="#8896a6" filter="url(#bl1)" />
<path d="M463.9,123.4 C465.8,122.2 473.1,122.2 475.0,123.4 C476.8,124.6 476.8,129.3 475.0,130.5 C473.1,131.7 465.8,131.7 463.9,130.5 C462.1,129.3 462.1,124.6 463.9,123.4Z" fill="#5e6874" filter="url(#bl1)" />
<path d="M483.7,129.3 C485.2,127.5 491.3,127.5 492.8,129.3 C494.3,131.2 494.3,138.5 492.8,140.4 C491.3,142.2 485.2,142.2 483.7,140.4 C482.2,138.5 482.2,131.2 483.7,129.3Z" fill="#5a6472" filter="url(#bl1)" />
<path d="M423.9,144.7 C424.6,138.8 424.9,135.7 426.9,132.9 C428.9,130.1 432.3,128.8 435.8,127.9 C439.3,127.1 444.1,127.1 447.7,127.9 C451.3,128.8 454.9,130.7 457.6,132.9 C460.2,135.0 461.9,137.5 463.5,140.8 C465.2,144.1 465.8,148.7 467.5,152.7 C469.1,156.6 470.8,161.2 473.4,164.5 C476.1,167.8 480.0,170.1 483.3,172.5 C486.6,174.8 491.1,176.4 493.2,178.4 C495.3,180.4 497.2,182.7 496.2,184.3 C495.2,186.0 490.4,186.3 487.3,188.3 C484.1,190.3 480.7,193.9 477.4,196.2 C474.1,198.5 471.1,200.8 467.5,202.1 C463.8,203.5 459.9,204.1 455.6,204.1 C451.3,204.1 446.0,203.1 441.7,202.1 C437.5,201.2 432.8,200.8 429.9,198.2 C426.9,195.5 425.1,191.3 423.9,186.3 C422.8,181.4 422.9,175.4 422.9,168.5 C422.9,161.6 423.3,150.7 423.9,144.7Z" fill="#151213" filter="url(#bl1)" />
<path d="M431.9,133.9 C433.0,132.0 438.8,130.6 441.7,130.9 C444.7,131.2 448.8,134.0 449.7,135.8 C450.5,137.7 449.2,140.8 446.7,141.8 C444.2,142.8 437.3,143.1 434.8,141.8 C432.3,140.5 430.7,135.7 431.9,133.9Z" fill="#3a2e2c" filter="url(#bl1)" />
<path d="M467.5,150.7 C470.1,152.3 478.4,158.3 483.3,160.6 C488.3,162.9 494.9,163.9 497.2,164.5" fill="none" stroke="#8a6460" stroke-width="4.5" stroke-linecap="round" stroke-linejoin="round" filter="url(#bl1)"/>
<path d="M483.3,183.3 C487.3,183.1 498.2,182.4 507.1,182.0 C516.0,181.5 531.8,180.6 536.7,180.4" fill="none" stroke="#9c7068" stroke-width="5.5" stroke-linecap="round" stroke-linejoin="round" filter="url(#bl1)"/>
<path d="M524.9,177.4 C527.2,176.1 535.9,175.8 538.7,176.4 C541.5,177.1 542.7,180.0 541.7,181.4 C540.7,182.7 535.6,183.9 532.8,184.3 C530.0,184.8 526.2,185.1 524.9,183.9 C523.5,182.8 522.6,178.7 524.9,177.4Z" fill="#9a7068" filter="url(#bl1)" />
<path d="M481.3,190.3 C482.6,192.6 485.3,199.2 489.2,204.1 C493.2,209.1 499.8,216.3 505.1,220.0 C510.4,223.6 517.0,225.2 520.9,225.9 C524.9,226.5 527.5,224.2 528.8,223.9" fill="none" stroke="#7e5a54" stroke-width="4.5" stroke-linecap="round" stroke-linejoin="round" filter="url(#bl1)"/>
<path d="M503.8,134.6 L491.6,148.2 L489.8,146.5 L488.3,154.6 L496.2,152.2 L494.3,150.6 L506.4,137.0Z" fill="#f4251f" filter="url(#bl2)"/>
<path d="M537.4,157.4 L524.4,171.1 L522.6,169.4 L520.9,177.4 L528.8,175.3 L527.0,173.6 L540.0,159.8Z" fill="#f4251f" filter="url(#bl2)"/>
<text x="537.2" y="134.9" font-family="Liberation Sans" font-size="14">3</text>
<rect x="418.2" y="121.89999999999999" width="130.6" height="1" fill="#f4f4f0" opacity="0.8"/>
<rect x="418.2" y="237.2" width="130.6" height="1.1" fill="#f4f4f0" opacity="0.6"/>
<rect x="547.0999999999999" y="121.3" width="1" height="117.7" fill="#f4f4f0" opacity="0.5"/>
</g>
<rect x="418.2" y="121.3" width="130.6" height="117.7" fill="none" stroke="#1e1e1e" stroke-width="1.3"/>
<g clip-path="url(#cp4)">
<g filter="url(#soft)"><rect x="552.5" y="121.3" width="130.9" height="117.7" fill="url(#pel4)"/></g>
<path d="M544.1,113.1 C569.2,106.2 669.4,109.5 694.5,113.1 C719.6,116.7 701.7,130.9 694.5,134.9 C687.2,138.8 664.8,136.2 651.0,136.8 C637.1,137.5 622.9,137.2 611.4,138.8 C599.8,140.5 589.6,144.4 581.7,146.7 C573.8,149.0 570.1,151.3 563.9,152.7 C557.6,154.0 547.4,161.2 544.1,154.6 C540.8,148.0 519.0,120.0 544.1,113.1Z" fill="#a2aebb" filter="url(#bl1)" />
<path d="M564.9,117.0 C566.2,111.4 571.5,111.4 572.8,117.0 C574.1,122.6 574.1,145.1 572.8,150.7 C571.5,156.3 566.2,156.3 564.9,150.7 C563.5,145.1 563.5,122.6 564.9,117.0Z" fill="#4a5462" filter="url(#bl1)" />
<path d="M578.7,117.0 C579.9,113.1 584.5,113.1 585.6,117.0 C586.8,121.0 586.8,136.8 585.6,140.8 C584.5,144.7 579.9,144.7 578.7,140.8 C577.6,136.8 577.6,121.0 578.7,117.0Z" fill="#4a5462" filter="url(#bl1)" />
<path d="M629.6,117.0 C630.4,115.1 633.9,115.1 634.7,117.0 C635.6,119.0 635.6,126.9 634.7,128.9 C633.9,130.9 630.4,130.9 629.6,128.9 C628.7,126.9 628.7,119.0 629.6,117.0Z" fill="#4a5462" filter="url(#bl1)" />
<path d="M655.3,117.0 C656.4,114.7 660.9,114.7 662.0,117.0 C663.2,119.4 663.2,128.6 662.0,130.9 C660.9,133.2 656.4,133.2 655.3,130.9 C654.2,128.6 654.2,119.4 655.3,117.0Z" fill="#4a5462" filter="url(#bl1)" />
<path d="M581.7,156.6 C579.7,158.9 572.3,165.5 569.8,170.5 C567.3,175.4 567.3,183.7 566.8,186.3" fill="none" stroke="#4a2f2f" stroke-width="7.5" stroke-linecap="round" stroke-linejoin="round" filter="url(#bl1)"/>
<path d="M592.6,163.5 C591.9,166.4 589.0,175.6 588.6,180.4 C588.2,185.2 589.8,190.3 590.0,192.2" fill="none" stroke="#4a3030" stroke-width="6.5" stroke-linecap="round" stroke-linejoin="round" filter="url(#bl1)"/>
<path d="M635.1,174.4 C636.1,177.7 639.1,190.1 641.1,194.2 C643.0,198.3 646.0,198.3 647.0,199.2" fill="none" stroke="#4a3232" stroke-width="5.5" stroke-linecap="round" stroke-linejoin="round" filter="url(#bl1)"/>
<path d="M577.7,154.6 C578.4,152.2 582.3,149.0 585.6,146.7 C588.9,144.4 593.2,142.4 597.5,140.8 C601.8,139.1 606.8,137.5 611.4,136.8 C616.0,136.2 620.6,136.2 625.2,136.8 C629.8,137.5 634.8,139.1 639.1,140.8 C643.4,142.4 647.0,144.4 651.0,146.7 C654.9,149.0 659.5,152.0 662.8,154.6 C666.1,157.3 668.8,159.6 670.7,162.6 C672.7,165.5 674.0,168.5 674.7,172.5 C675.4,176.4 675.4,182.3 674.7,186.3 C674.0,190.3 672.4,194.4 670.7,196.2 C669.1,198.0 667.4,197.9 664.8,197.2 C662.2,196.5 658.2,194.1 654.9,192.2 C651.6,190.4 648.0,188.6 645.0,186.3 C642.0,184.0 639.7,180.5 637.1,178.4 C634.5,176.2 632.5,174.8 629.2,173.4 C625.9,172.1 621.3,170.9 617.3,170.1 C613.3,169.3 609.1,168.9 605.4,168.5 C601.8,168.1 598.5,168.1 595.5,167.5 C592.6,166.9 589.9,165.9 587.6,164.9 C585.3,163.9 583.3,163.3 581.7,161.6 C580.0,159.9 577.1,157.1 577.7,154.6Z" fill="#3a3437" filter="url(#bl1)" />
<path d="M589.6,147.7 C592.9,146.4 602.5,141.1 609.4,139.8 C616.3,138.5 624.9,138.8 631.2,139.8 C637.4,140.8 644.4,144.7 647.0,145.7" fill="none" stroke="#4a4448" stroke-width="6" stroke-linecap="round" stroke-linejoin="round" filter="url(#bl1)"/>
<ellipse cx="657.9" cy="159.6" rx="4.5" ry="5.5" fill="#826470" filter="url(#bl1)"/>
<path d="M649.3,124.3 L632.9,131.4 L631.9,129.1 L627.2,135.8 L635.3,137.0 L634.3,134.7 L650.7,127.7Z" fill="#f4251f" filter="url(#bl2)"/>
<text x="671.8" y="135.4" font-family="Liberation Sans" font-size="14">4</text>
<rect x="552.5" y="121.89999999999999" width="130.9" height="1" fill="#f4f4f0" opacity="0.8"/>
<rect x="552.5" y="237.2" width="130.9" height="1.1" fill="#f4f4f0" opacity="0.6"/>
<rect x="681.6999999999999" y="121.3" width="1" height="117.7" fill="#f4f4f0" opacity="0.5"/>
</g>
<rect x="552.5" y="121.3" width="130.9" height="117.7" fill="none" stroke="#1e1e1e" stroke-width="1.3"/>
<text x="2" y="272.6" font-family="Liberation Sans" font-weight="bold" font-size="15">c</text>
<line x1="43" y1="276.6" x2="43" y2="385.1" stroke="#262626" stroke-width="1.3"/>
<line x1="38.5" y1="384.5" x2="43" y2="384.5" stroke="#262626" stroke-width="1.3"/>
<text x="37.3" y="387.75" font-family="Liberation Sans" font-weight="bold" font-size="9" text-anchor="end">0</text>
<line x1="38.5" y1="357.68" x2="43" y2="357.68" stroke="#262626" stroke-width="1.3"/>
<text x="37.3" y="360.93" font-family="Liberation Sans" font-weight="bold" font-size="9" text-anchor="end">20</text>
<line x1="38.5" y1="330.85" x2="43" y2="330.85" stroke="#262626" stroke-width="1.3"/>
<text x="37.3" y="334.1" font-family="Liberation Sans" font-weight="bold" font-size="9" text-anchor="end">40</text>
<line x1="38.5" y1="304.02" x2="43" y2="304.02" stroke="#262626" stroke-width="1.3"/>
<text x="37.3" y="307.27" font-family="Liberation Sans" font-weight="bold" font-size="9" text-anchor="end">60</text>
<line x1="38.5" y1="277.2" x2="43" y2="277.2" stroke="#262626" stroke-width="1.3"/>
<text x="37.3" y="280.45" font-family="Liberation Sans" font-weight="bold" font-size="9" text-anchor="end">80</text>
<line x1="53.25" y1="395.3" x2="172.37" y2="395.3" stroke="#262626" stroke-width="1.3"/>
<line x1="53.85" y1="395.3" x2="53.85" y2="399.8" stroke="#262626" stroke-width="1.3"/>
<text transform="translate(56.65,407.9) rotate(-45)" font-family="Liberation Sans" font-weight="bold" font-size="9" text-anchor="end">10</text>
<line x1="64.57" y1="395.3" x2="64.57" y2="399.8" stroke="#262626" stroke-width="1.3"/>
<text transform="translate(67.37,407.9) rotate(-45)" font-family="Liberation Sans" font-weight="bold" font-size="9" text-anchor="end">11</text>
<line x1="75.29" y1="395.3" x2="75.29" y2="399.8" stroke="#262626" stroke-width="1.3"/>
<text transform="translate(78.09,407.9) rotate(-45)" font-family="Liberation Sans" font-weight="bold" font-size="9" text-anchor="end">12</text>
<line x1="86.01" y1="395.3" x2="86.01" y2="399.8" stroke="#262626" stroke-width="1.3"/>
<text transform="translate(88.81,407.9) rotate(-45)" font-family="Liberation Sans" font-weight="bold" font-size="9" text-anchor="end">13</text>
<line x1="96.73" y1="395.3" x2="96.73" y2="399.8" stroke="#262626" stroke-width="1.3"/>
<text transform="translate(99.53,407.9) rotate(-45)" font-family="Liberation Sans" font-weight="bold" font-size="9" text-anchor="end">14</text>
<line x1="107.45" y1="395.3" x2="107.45" y2="399.8" stroke="#262626" stroke-width="1.3"/>
<text transform="translate(110.25,407.9) rotate(-45)" font-family="Liberation Sans" font-weight="bold" font-size="9" text-anchor="end">15</text>
<line x1="118.17" y1="395.3" x2="118.17" y2="399.8" stroke="#262626" stroke-width="1.3"/>
<text transform="translate(120.97,407.9) rotate(-45)" font-family="Liberation Sans" font-weight="bold" font-size="9" text-anchor="end">16</text>
<line x1="128.89" y1="395.3" x2="128.89" y2="399.8" stroke="#262626" stroke-width="1.3"/>
<text transform="translate(131.69,407.9) rotate(-45)" font-family="Liberation Sans" font-weight="bold" font-size="9" text-anchor="end">17</text>
<line x1="139.61" y1="395.3" x2="139.61" y2="399.8" stroke="#262626" stroke-width="1.3"/>
<text transform="translate(142.41,407.9) rotate(-45)" font-family="Liberation Sans" font-weight="bold" font-size="9" text-anchor="end">18</text>
<line x1="150.33" y1="395.3" x2="150.33" y2="399.8" stroke="#262626" stroke-width="1.3"/>
<text transform="translate(153.13,407.9) rotate(-45)" font-family="Liberation Sans" font-weight="bold" font-size="9" text-anchor="end">19</text>
<line x1="161.05" y1="395.3" x2="161.05" y2="399.8" stroke="#262626" stroke-width="1.3"/>
<text transform="translate(163.85,407.9) rotate(-45)" font-family="Liberation Sans" font-weight="bold" font-size="9" text-anchor="end">20</text>
<line x1="171.77" y1="395.3" x2="171.77" y2="399.8" stroke="#262626" stroke-width="1.3"/>
<text transform="translate(174.57,407.9) rotate(-45)" font-family="Liberation Sans" font-weight="bold" font-size="9" text-anchor="end">21</text>
<text x="112.81" y="422.1" font-family="Liberation Sans" font-weight="bold" font-size="9" text-anchor="middle">Postnatal Days</text>
<text transform="translate(21.3,330.85) rotate(-90)" font-family="Liberation Sans" font-weight="bold" font-size="9" text-anchor="middle">Low Amplitude Events</text>
<path d="M53.85 298.66V309.39M51.45 298.66H56.25M51.45 309.39H56.25" stroke="#f27480" stroke-width="1.2" fill="none"/>
<path d="M64.57 304.02V314.75M62.17 304.02H66.97M62.17 314.75H66.97" stroke="#f27480" stroke-width="1.2" fill="none"/>
<path d="M75.29 337.56V345.6M72.89 337.56H77.69M72.89 345.6H77.69" stroke="#f27480" stroke-width="1.2" fill="none"/>
<path d="M86.01 366.39V370.42M83.61 366.39H88.41M83.61 370.42H88.41" stroke="#f27480" stroke-width="1.2" fill="none"/>
<path d="M96.73 370.82V374.84M94.33 370.82H99.13M94.33 374.84H99.13" stroke="#f27480" stroke-width="1.2" fill="none"/>
<path d="M107.45 379.4V382.09M105.05 379.4H109.85M105.05 382.09H109.85" stroke="#f27480" stroke-width="1.2" fill="none"/>
<polyline points="53.85,304.02 64.57,309.39 75.29,341.58 86.01,368.4 96.73,372.83 107.45,380.74 118.17,384.5 128.89,384.5 139.61,384.5 150.33,384.5 161.05,384.5 171.77,384.5" fill="none" stroke="#f27480" stroke-width="1.2"/>
<circle cx="53.85" cy="304.02" r="2.5" fill="#f5a3aa" stroke="#f0707c" stroke-width="1"/>
<circle cx="64.57" cy="309.39" r="2.5" fill="#f5a3aa" stroke="#f0707c" stroke-width="1"/>
<circle cx="75.29" cy="341.58" r="2.5" fill="#f5a3aa" stroke="#f0707c" stroke-width="1"/>
<circle cx="86.01" cy="368.4" r="2.5" fill="#f5a3aa" stroke="#f0707c" stroke-width="1"/>
<circle cx="96.73" cy="372.83" r="2.5" fill="#f5a3aa" stroke="#f0707c" stroke-width="1"/>
<circle cx="107.45" cy="380.74" r="2.5" fill="#f5a3aa" stroke="#f0707c" stroke-width="1"/>
<circle cx="118.17" cy="384.5" r="2.5" fill="#f5a3aa" stroke="#f0707c" stroke-width="1"/>
<circle cx="128.89" cy="384.5" r="2.5" fill="#f5a3aa" stroke="#f0707c" stroke-width="1"/>
<circle cx="139.61" cy="384.5" r="2.5" fill="#f5a3aa" stroke="#f0707c" stroke-width="1"/>
<circle cx="150.33" cy="384.5" r="2.5" fill="#f5a3aa" stroke="#f0707c" stroke-width="1"/>
<circle cx="161.05" cy="384.5" r="2.5" fill="#f5a3aa" stroke="#f0707c" stroke-width="1"/>
<circle cx="171.77" cy="384.5" r="2.5" fill="#f5a3aa" stroke="#f0707c" stroke-width="1"/>
<path d="M53.85 379.54V380.34M51.45 379.54H56.25M51.45 380.34H56.25" stroke="#6d6e70" stroke-width="1.2" fill="none"/>
<path d="M64.57 379.94V380.74M62.17 379.94H66.97M62.17 380.74H66.97" stroke="#6d6e70" stroke-width="1.2" fill="none"/>
<path d="M75.29 380.61V381.42M72.89 380.61H77.69M72.89 381.42H77.69" stroke="#6d6e70" stroke-width="1.2" fill="none"/>
<path d="M86.01 382.35V383.16M83.61 382.35H88.41M83.61 383.16H88.41" stroke="#6d6e70" stroke-width="1.2" fill="none"/>
<polyline points="53.85,379.94 64.57,380.34 75.29,381.01 86.01,382.76 96.73,384.5 107.45,384.5 118.17,384.5 128.89,384.5 139.61,384.5 150.33,384.5 161.05,384.5 171.77,384.5" fill="none" stroke="#6d6e70" stroke-width="1.2"/>
<circle cx="53.85" cy="379.94" r="2.5" fill="#8f9194" stroke="#707276" stroke-width="1"/>
<circle cx="64.57" cy="380.34" r="2.5" fill="#8f9194" stroke="#707276" stroke-width="1"/>
<circle cx="75.29" cy="381.01" r="2.5" fill="#8f9194" stroke="#707276" stroke-width="1"/>
<circle cx="86.01" cy="382.76" r="2.5" fill="#8f9194" stroke="#707276" stroke-width="1"/>
<circle cx="96.73" cy="384.5" r="2.5" fill="#8f9194" stroke="#707276" stroke-width="1"/>
<circle cx="107.45" cy="384.5" r="2.5" fill="#8f9194" stroke="#707276" stroke-width="1"/>
<circle cx="118.17" cy="384.5" r="2.5" fill="#8f9194" stroke="#707276" stroke-width="1"/>
<circle cx="128.89" cy="384.5" r="2.5" fill="#8f9194" stroke="#707276" stroke-width="1"/>
<circle cx="139.61" cy="384.5" r="2.5" fill="#8f9194" stroke="#707276" stroke-width="1"/>
<circle cx="150.33" cy="384.5" r="2.5" fill="#8f9194" stroke="#707276" stroke-width="1"/>
<circle cx="161.05" cy="384.5" r="2.5" fill="#8f9194" stroke="#707276" stroke-width="1"/>
<circle cx="171.77" cy="384.5" r="2.5" fill="#8f9194" stroke="#707276" stroke-width="1"/>
<text x="53.85" y="301.7" font-family="Liberation Sans" font-weight="bold" font-size="13.5" text-anchor="middle">***</text>
<text x="64.57" y="306.8" font-family="Liberation Sans" font-weight="bold" font-size="13.5" text-anchor="middle">***</text>
<text x="75.29" y="340" font-family="Liberation Sans" font-weight="bold" font-size="13.5" text-anchor="middle">***</text>
<text x="86.01" y="369" font-family="Liberation Sans" font-weight="bold" font-size="13.5" text-anchor="middle">**</text>
<text x="96.73" y="373.5" font-family="Liberation Sans" font-weight="bold" font-size="13.5" text-anchor="middle">**</text>
<text x="107.45" y="381.5" font-family="Liberation Sans" font-weight="bold" font-size="13.5" text-anchor="middle">*</text>
<line x1="116.2" y1="358.1" x2="127.9" y2="358.1" stroke="#6d6e70" stroke-width="1.2"/>
<circle cx="122.2" cy="358.1" r="2.5" fill="#8f9194" stroke="#707276" stroke-width="1"/>
<text x="134.5" y="361.4" font-family="Liberation Sans" font-weight="bold" font-size="9">WT-Veh</text>
<line x1="116.2" y1="367.3" x2="127.9" y2="367.3" stroke="#f27480" stroke-width="1.2"/>
<circle cx="122.2" cy="367.3" r="2.5" fill="#f5a3aa" stroke="#f0707c" stroke-width="1"/>
<text x="134.5" y="370.6" font-family="Liberation Sans" font-weight="bold" font-size="9">KO-Veh</text>
<text x="171.2" y="272.6" font-family="Liberation Sans" font-weight="bold" font-size="15">d</text>
<line x1="211.25" y1="276.9" x2="211.25" y2="385.2" stroke="#262626" stroke-width="1.3"/>
<line x1="206.75" y1="384.6" x2="211.25" y2="384.6" stroke="#262626" stroke-width="1.3"/>
<text x="205.55" y="387.85" font-family="Liberation Sans" font-weight="bold" font-size="9" text-anchor="end">0</text>
<line x1="206.75" y1="357.83" x2="211.25" y2="357.83" stroke="#262626" stroke-width="1.3"/>
<text x="205.55" y="361.08" font-family="Liberation Sans" font-weight="bold" font-size="9" text-anchor="end">20</text>
<line x1="206.75" y1="331.05" x2="211.25" y2="331.05" stroke="#262626" stroke-width="1.3"/>
<text x="205.55" y="334.3" font-family="Liberation Sans" font-weight="bold" font-size="9" text-anchor="end">40</text>
<line x1="206.75" y1="304.27" x2="211.25" y2="304.27" stroke="#262626" stroke-width="1.3"/>
<text x="205.55" y="307.52" font-family="Liberation Sans" font-weight="bold" font-size="9" text-anchor="end">60</text>
<line x1="206.75" y1="277.5" x2="211.25" y2="277.5" stroke="#262626" stroke-width="1.3"/>
<text x="205.55" y="280.75" font-family="Liberation Sans" font-weight="bold" font-size="9" text-anchor="end">80</text>
<line x1="221.5" y1="395.8" x2="340.62" y2="395.8" stroke="#262626" stroke-width="1.3"/>
<line x1="222.1" y1="395.8" x2="222.1" y2="400.3" stroke="#262626" stroke-width="1.3"/>
<text transform="translate(224.9,408.4) rotate(-45)" font-family="Liberation Sans" font-weight="bold" font-size="9" text-anchor="end">10</text>
<line x1="232.82" y1="395.8" x2="232.82" y2="400.3" stroke="#262626" stroke-width="1.3"/>
<text transform="translate(235.62,408.4) rotate(-45)" font-family="Liberation Sans" font-weight="bold" font-size="9" text-anchor="end">11</text>
<line x1="243.54" y1="395.8" x2="243.54" y2="400.3" stroke="#262626" stroke-width="1.3"/>
<text transform="translate(246.34,408.4) rotate(-45)" font-family="Liberation Sans" font-weight="bold" font-size="9" text-anchor="end">12</text>
<line x1="254.26" y1="395.8" x2="254.26" y2="400.3" stroke="#262626" stroke-width="1.3"/>
<text transform="translate(257.06,408.4) rotate(-45)" font-family="Liberation Sans" font-weight="bold" font-size="9" text-anchor="end">13</text>
<line x1="264.98" y1="395.8" x2="264.98" y2="400.3" stroke="#262626" stroke-width="1.3"/>
<text transform="translate(267.78,408.4) rotate(-45)" font-family="Liberation Sans" font-weight="bold" font-size="9" text-anchor="end">14</text>
<line x1="275.7" y1="395.8" x2="275.7" y2="400.3" stroke="#262626" stroke-width="1.3"/>
<text transform="translate(278.5,408.4) rotate(-45)" font-family="Liberation Sans" font-weight="bold" font-size="9" text-anchor="end">15</text>
<line x1="286.42" y1="395.8" x2="286.42" y2="400.3" stroke="#262626" stroke-width="1.3"/>
<text transform="translate(289.22,408.4) rotate(-45)" font-family="Liberation Sans" font-weight="bold" font-size="9" text-anchor="end">16</text>
<line x1="297.14" y1="395.8" x2="297.14" y2="400.3" stroke="#262626" stroke-width="1.3"/>
<text transform="translate(299.94,408.4) rotate(-45)" font-family="Liberation Sans" font-weight="bold" font-size="9" text-anchor="end">17</text>
<line x1="307.86" y1="395.8" x2="307.86" y2="400.3" stroke="#262626" stroke-width="1.3"/>
<text transform="translate(310.66,408.4) rotate(-45)" font-family="Liberation Sans" font-weight="bold" font-size="9" text-anchor="end">18</text>
<line x1="318.58" y1="395.8" x2="318.58" y2="400.3" stroke="#262626" stroke-width="1.3"/>
<text transform="translate(321.38,408.4) rotate(-45)" font-family="Liberation Sans" font-weight="bold" font-size="9" text-anchor="end">19</text>
<line x1="329.3" y1="395.8" x2="329.3" y2="400.3" stroke="#262626" stroke-width="1.3"/>
<text transform="translate(332.1,408.4) rotate(-45)" font-family="Liberation Sans" font-weight="bold" font-size="9" text-anchor="end">20</text>
<line x1="340.02" y1="395.8" x2="340.02" y2="400.3" stroke="#262626" stroke-width="1.3"/>
<text transform="translate(342.82,408.4) rotate(-45)" font-family="Liberation Sans" font-weight="bold" font-size="9" text-anchor="end">21</text>
<text x="281.06" y="422.6" font-family="Liberation Sans" font-weight="bold" font-size="9" text-anchor="middle">Postnatal Days</text>
<text transform="translate(189.55,331.05) rotate(-90)" font-family="Liberation Sans" font-weight="bold" font-size="9" text-anchor="middle">High Amplitude Events</text>
<path d="M222.1 293.16V310.03M219.7 293.16H224.5M219.7 310.03H224.5" stroke="#f27480" stroke-width="1.2" fill="none"/>
<path d="M232.82 300.26V310.97M230.42 300.26H235.22M230.42 310.97H235.22" stroke="#f27480" stroke-width="1.2" fill="none"/>
<path d="M243.54 342.43V347.78M241.14 342.43H245.94M241.14 347.78H245.94" stroke="#f27480" stroke-width="1.2" fill="none"/>
<path d="M254.26 371.21V376.57M251.86 371.21H256.66M251.86 376.57H256.66" stroke="#f27480" stroke-width="1.2" fill="none"/>
<path d="M264.98 377.91V380.58M262.58 377.91H267.38M262.58 380.58H267.38" stroke="#f27480" stroke-width="1.2" fill="none"/>
<path d="M275.7 382.59V383.93M273.3 382.59H278.1M273.3 383.93H278.1" stroke="#f27480" stroke-width="1.2" fill="none"/>
<polyline points="222.1,301.6 232.82,305.61 243.54,345.11 254.26,373.89 264.98,379.25 275.7,383.26 286.42,384.6 297.14,384.6 307.86,384.6 318.58,384.6 329.3,384.6 340.02,384.6" fill="none" stroke="#f27480" stroke-width="1.2"/>
<circle cx="222.1" cy="301.6" r="2.5" fill="#f5a3aa" stroke="#f0707c" stroke-width="1"/>
<circle cx="232.82" cy="305.61" r="2.5" fill="#f5a3aa" stroke="#f0707c" stroke-width="1"/>
<circle cx="243.54" cy="345.11" r="2.5" fill="#f5a3aa" stroke="#f0707c" stroke-width="1"/>
<circle cx="254.26" cy="373.89" r="2.5" fill="#f5a3aa" stroke="#f0707c" stroke-width="1"/>
<circle cx="264.98" cy="379.25" r="2.5" fill="#f5a3aa" stroke="#f0707c" stroke-width="1"/>
<circle cx="275.7" cy="383.26" r="2.5" fill="#f5a3aa" stroke="#f0707c" stroke-width="1"/>
<circle cx="286.42" cy="384.6" r="2.5" fill="#f5a3aa" stroke="#f0707c" stroke-width="1"/>
<circle cx="297.14" cy="384.6" r="2.5" fill="#f5a3aa" stroke="#f0707c" stroke-width="1"/>
<circle cx="307.86" cy="384.6" r="2.5" fill="#f5a3aa" stroke="#f0707c" stroke-width="1"/>
<circle cx="318.58" cy="384.6" r="2.5" fill="#f5a3aa" stroke="#f0707c" stroke-width="1"/>
<circle cx="329.3" cy="384.6" r="2.5" fill="#f5a3aa" stroke="#f0707c" stroke-width="1"/>
<circle cx="340.02" cy="384.6" r="2.5" fill="#f5a3aa" stroke="#f0707c" stroke-width="1"/>
<path d="M222.1 381.12V381.92M219.7 381.12H224.5M219.7 381.92H224.5" stroke="#6d6e70" stroke-width="1.2" fill="none"/>
<path d="M232.82 382.19V382.99M230.42 382.19H235.22M230.42 382.99H235.22" stroke="#6d6e70" stroke-width="1.2" fill="none"/>
<path d="M243.54 382.46V383.26M241.14 382.46H245.94M241.14 383.26H245.94" stroke="#6d6e70" stroke-width="1.2" fill="none"/>
<path d="M254.26 383.53V384.33M251.86 383.53H256.66M251.86 384.33H256.66" stroke="#6d6e70" stroke-width="1.2" fill="none"/>
<polyline points="222.1,381.52 232.82,382.59 243.54,382.86 254.26,383.93 264.98,384.6 275.7,384.6 286.42,384.6 297.14,384.6 307.86,384.6 318.58,384.6 329.3,384.6 340.02,384.6" fill="none" stroke="#6d6e70" stroke-width="1.2"/>
<circle cx="222.1" cy="381.52" r="2.5" fill="#8f9194" stroke="#707276" stroke-width="1"/>
<circle cx="232.82" cy="382.59" r="2.5" fill="#8f9194" stroke="#707276" stroke-width="1"/>
<circle cx="243.54" cy="382.86" r="2.5" fill="#8f9194" stroke="#707276" stroke-width="1"/>
<circle cx="254.26" cy="383.93" r="2.5" fill="#8f9194" stroke="#707276" stroke-width="1"/>
<circle cx="264.98" cy="384.6" r="2.5" fill="#8f9194" stroke="#707276" stroke-width="1"/>
<circle cx="275.7" cy="384.6" r="2.5" fill="#8f9194" stroke="#707276" stroke-width="1"/>
<circle cx="286.42" cy="384.6" r="2.5" fill="#8f9194" stroke="#707276" stroke-width="1"/>
<circle cx="297.14" cy="384.6" r="2.5" fill="#8f9194" stroke="#707276" stroke-width="1"/>
<circle cx="307.86" cy="384.6" r="2.5" fill="#8f9194" stroke="#707276" stroke-width="1"/>
<circle cx="318.58" cy="384.6" r="2.5" fill="#8f9194" stroke="#707276" stroke-width="1"/>
<circle cx="329.3" cy="384.6" r="2.5" fill="#8f9194" stroke="#707276" stroke-width="1"/>
<circle cx="340.02" cy="384.6" r="2.5" fill="#8f9194" stroke="#707276" stroke-width="1"/>
<text x="222.1" y="297.1" font-family="Liberation Sans" font-weight="bold" font-size="13.5" text-anchor="middle">***</text>
<text x="232.82" y="304.2" font-family="Liberation Sans" font-weight="bold" font-size="13.5" text-anchor="middle">***</text>
<text x="243.54" y="346.1" font-family="Liberation Sans" font-weight="bold" font-size="13.5" text-anchor="middle">**</text>
<text x="254.26" y="373.2" font-family="Liberation Sans" font-weight="bold" font-size="13.5" text-anchor="middle">*</text>
<text x="264.98" y="380.3" font-family="Liberation Sans" font-weight="bold" font-size="13.5" text-anchor="middle">*</text>
<line x1="288.5" y1="358.2" x2="300.2" y2="358.2" stroke="#6d6e70" stroke-width="1.2"/>
<circle cx="294.5" cy="358.2" r="2.5" fill="#8f9194" stroke="#707276" stroke-width="1"/>
<text x="306.2" y="361.5" font-family="Liberation Sans" font-weight="bold" font-size="9">WT-Veh</text>
<line x1="288.5" y1="367.6" x2="300.2" y2="367.6" stroke="#f27480" stroke-width="1.2"/>
<circle cx="294.5" cy="367.6" r="2.5" fill="#f5a3aa" stroke="#f0707c" stroke-width="1"/>
<text x="306.2" y="370.9" font-family="Liberation Sans" font-weight="bold" font-size="9">KO-Veh</text>
<text x="343.8" y="272.6" font-family="Liberation Sans" font-weight="bold" font-size="15">e</text>
<line x1="384" y1="277.2" x2="384" y2="385.2" stroke="#262626" stroke-width="1.3"/>
<line x1="379.5" y1="384.6" x2="384" y2="384.6" stroke="#262626" stroke-width="1.3"/>
<text x="378.3" y="387.85" font-family="Liberation Sans" font-weight="bold" font-size="9" text-anchor="end">0</text>
<line x1="379.5" y1="349" x2="384" y2="349" stroke="#262626" stroke-width="1.3"/>
<text x="378.3" y="352.25" font-family="Liberation Sans" font-weight="bold" font-size="9" text-anchor="end">10</text>
<line x1="379.5" y1="313.4" x2="384" y2="313.4" stroke="#262626" stroke-width="1.3"/>
<text x="378.3" y="316.65" font-family="Liberation Sans" font-weight="bold" font-size="9" text-anchor="end">20</text>
<line x1="379.5" y1="277.8" x2="384" y2="277.8" stroke="#262626" stroke-width="1.3"/>
<text x="378.3" y="281.05" font-family="Liberation Sans" font-weight="bold" font-size="9" text-anchor="end">30</text>
<line x1="394.25" y1="395.7" x2="513.37" y2="395.7" stroke="#262626" stroke-width="1.3"/>
<line x1="394.85" y1="395.7" x2="394.85" y2="400.2" stroke="#262626" stroke-width="1.3"/>
<text transform="translate(397.65,408.3) rotate(-45)" font-family="Liberation Sans" font-weight="bold" font-size="9" text-anchor="end">10</text>
<line x1="405.57" y1="395.7" x2="405.57" y2="400.2" stroke="#262626" stroke-width="1.3"/>
<text transform="translate(408.37,408.3) rotate(-45)" font-family="Liberation Sans" font-weight="bold" font-size="9" text-anchor="end">11</text>
<line x1="416.29" y1="395.7" x2="416.29" y2="400.2" stroke="#262626" stroke-width="1.3"/>
<text transform="translate(419.09,408.3) rotate(-45)" font-family="Liberation Sans" font-weight="bold" font-size="9" text-anchor="end">12</text>
<line x1="427.01" y1="395.7" x2="427.01" y2="400.2" stroke="#262626" stroke-width="1.3"/>
<text transform="translate(429.81,408.3) rotate(-45)" font-family="Liberation Sans" font-weight="bold" font-size="9" text-anchor="end">13</text>
<line x1="437.73" y1="395.7" x2="437.73" y2="400.2" stroke="#262626" stroke-width="1.3"/>
<text transform="translate(440.53,408.3) rotate(-45)" font-family="Liberation Sans" font-weight="bold" font-size="9" text-anchor="end">14</text>
<line x1="448.45" y1="395.7" x2="448.45" y2="400.2" stroke="#262626" stroke-width="1.3"/>
<text transform="translate(451.25,408.3) rotate(-45)" font-family="Liberation Sans" font-weight="bold" font-size="9" text-anchor="end">15</text>
<line x1="459.17" y1="395.7" x2="459.17" y2="400.2" stroke="#262626" stroke-width="1.3"/>
<text transform="translate(461.97,408.3) rotate(-45)" font-family="Liberation Sans" font-weight="bold" font-size="9" text-anchor="end">16</text>
<line x1="469.89" y1="395.7" x2="469.89" y2="400.2" stroke="#262626" stroke-width="1.3"/>
<text transform="translate(472.69,408.3) rotate(-45)" font-family="Liberation Sans" font-weight="bold" font-size="9" text-anchor="end">17</text>
<line x1="480.61" y1="395.7" x2="480.61" y2="400.2" stroke="#262626" stroke-width="1.3"/>
<text transform="translate(483.41,408.3) rotate(-45)" font-family="Liberation Sans" font-weight="bold" font-size="9" text-anchor="end">18</text>
<line x1="491.33" y1="395.7" x2="491.33" y2="400.2" stroke="#262626" stroke-width="1.3"/>
<text transform="translate(494.13,408.3) rotate(-45)" font-family="Liberation Sans" font-weight="bold" font-size="9" text-anchor="end">19</text>
<line x1="502.05" y1="395.7" x2="502.05" y2="400.2" stroke="#262626" stroke-width="1.3"/>
<text transform="translate(504.85,408.3) rotate(-45)" font-family="Liberation Sans" font-weight="bold" font-size="9" text-anchor="end">20</text>
<line x1="512.77" y1="395.7" x2="512.77" y2="400.2" stroke="#262626" stroke-width="1.3"/>
<text transform="translate(515.57,408.3) rotate(-45)" font-family="Liberation Sans" font-weight="bold" font-size="9" text-anchor="end">21</text>
<text x="453.81" y="422.5" font-family="Liberation Sans" font-weight="bold" font-size="9" text-anchor="middle">Postnatal Days</text>
<text transform="translate(362.3,331.2) rotate(-90)" font-family="Liberation Sans" font-weight="bold" font-size="9" text-anchor="middle">Time on Side (Minutes)</text>
<path d="M394.85 308.42V311.26M392.45 308.42H397.25M392.45 311.26H397.25" stroke="#f27480" stroke-width="1.2" fill="none"/>
<path d="M405.57 303.43V309.13M403.17 303.43H407.97M403.17 309.13H407.97" stroke="#f27480" stroke-width="1.2" fill="none"/>
<path d="M416.29 313.76V324.44M413.89 313.76H418.69M413.89 324.44H418.69" stroke="#f27480" stroke-width="1.2" fill="none"/>
<path d="M427.01 329.78V342.59M424.61 329.78H429.41M424.61 342.59H429.41" stroke="#f27480" stroke-width="1.2" fill="none"/>
<path d="M437.73 353.27V368.94M435.33 353.27H440.13M435.33 368.94H440.13" stroke="#f27480" stroke-width="1.2" fill="none"/>
<polyline points="394.85,309.84 405.57,306.28 416.29,319.1 427.01,336.18 437.73,361.1 448.45,384.6 459.17,384.6 469.89,384.6 480.61,384.6 491.33,384.6 502.05,384.6 512.77,384.6" fill="none" stroke="#f27480" stroke-width="1.2"/>
<circle cx="394.85" cy="309.84" r="2.5" fill="#f5a3aa" stroke="#f0707c" stroke-width="1"/>
<circle cx="405.57" cy="306.28" r="2.5" fill="#f5a3aa" stroke="#f0707c" stroke-width="1"/>
<circle cx="416.29" cy="319.1" r="2.5" fill="#f5a3aa" stroke="#f0707c" stroke-width="1"/>
<circle cx="427.01" cy="336.18" r="2.5" fill="#f5a3aa" stroke="#f0707c" stroke-width="1"/>
<circle cx="437.73" cy="361.1" r="2.5" fill="#f5a3aa" stroke="#f0707c" stroke-width="1"/>
<circle cx="448.45" cy="384.6" r="2.5" fill="#f5a3aa" stroke="#f0707c" stroke-width="1"/>
<circle cx="459.17" cy="384.6" r="2.5" fill="#f5a3aa" stroke="#f0707c" stroke-width="1"/>
<circle cx="469.89" cy="384.6" r="2.5" fill="#f5a3aa" stroke="#f0707c" stroke-width="1"/>
<circle cx="480.61" cy="384.6" r="2.5" fill="#f5a3aa" stroke="#f0707c" stroke-width="1"/>
<circle cx="491.33" cy="384.6" r="2.5" fill="#f5a3aa" stroke="#f0707c" stroke-width="1"/>
<circle cx="502.05" cy="384.6" r="2.5" fill="#f5a3aa" stroke="#f0707c" stroke-width="1"/>
<circle cx="512.77" cy="384.6" r="2.5" fill="#f5a3aa" stroke="#f0707c" stroke-width="1"/>
<polyline points="394.85,384.6 405.57,384.6 416.29,384.6 427.01,384.6 437.73,384.6 448.45,384.6 459.17,384.6 469.89,384.6 480.61,384.6 491.33,384.6 502.05,384.6 512.77,384.6" fill="none" stroke="#6d6e70" stroke-width="1.2"/>
<circle cx="394.85" cy="384.6" r="2.5" fill="#8f9194" stroke="#707276" stroke-width="1"/>
<circle cx="405.57" cy="384.6" r="2.5" fill="#8f9194" stroke="#707276" stroke-width="1"/>
<circle cx="416.29" cy="384.6" r="2.5" fill="#8f9194" stroke="#707276" stroke-width="1"/>
<circle cx="427.01" cy="384.6" r="2.5" fill="#8f9194" stroke="#707276" stroke-width="1"/>
<circle cx="437.73" cy="384.6" r="2.5" fill="#8f9194" stroke="#707276" stroke-width="1"/>
<circle cx="448.45" cy="384.6" r="2.5" fill="#8f9194" stroke="#707276" stroke-width="1"/>
<circle cx="459.17" cy="384.6" r="2.5" fill="#8f9194" stroke="#707276" stroke-width="1"/>
<circle cx="469.89" cy="384.6" r="2.5" fill="#8f9194" stroke="#707276" stroke-width="1"/>
<circle cx="480.61" cy="384.6" r="2.5" fill="#8f9194" stroke="#707276" stroke-width="1"/>
<circle cx="491.33" cy="384.6" r="2.5" fill="#8f9194" stroke="#707276" stroke-width="1"/>
<circle cx="502.05" cy="384.6" r="2.5" fill="#8f9194" stroke="#707276" stroke-width="1"/>
<circle cx="512.77" cy="384.6" r="2.5" fill="#8f9194" stroke="#707276" stroke-width="1"/>
<text x="394.85" y="311.4" font-family="Liberation Sans" font-weight="bold" font-size="13.5" text-anchor="middle">***</text>
<text x="405.57" y="305.7" font-family="Liberation Sans" font-weight="bold" font-size="13.5" text-anchor="middle">***</text>
<text x="416.29" y="317.6" font-family="Liberation Sans" font-weight="bold" font-size="13.5" text-anchor="middle">***</text>
<text x="427.01" y="332.2" font-family="Liberation Sans" font-weight="bold" font-size="13.5" text-anchor="middle">**</text>
<text x="437.73" y="357" font-family="Liberation Sans" font-weight="bold" font-size="13.5" text-anchor="middle">**</text>
<line x1="457" y1="355.3" x2="468.7" y2="355.3" stroke="#6d6e70" stroke-width="1.2"/>
<circle cx="463" cy="355.3" r="2.5" fill="#8f9194" stroke="#707276" stroke-width="1"/>
<text x="474" y="358.6" font-family="Liberation Sans" font-weight="bold" font-size="9">WT-Veh</text>
<line x1="457" y1="364.7" x2="468.7" y2="364.7" stroke="#f27480" stroke-width="1.2"/>
<circle cx="463" cy="364.7" r="2.5" fill="#f5a3aa" stroke="#f0707c" stroke-width="1"/>
<text x="474" y="368" font-family="Liberation Sans" font-weight="bold" font-size="9">KO-Veh</text>
<text x="512.6" y="272.6" font-family="Liberation Sans" font-weight="bold" font-size="15">f</text>
<line x1="549.35" y1="276.7" x2="549.35" y2="384.9" stroke="#262626" stroke-width="1.3"/>
<line x1="544.85" y1="384.3" x2="549.35" y2="384.3" stroke="#262626" stroke-width="1.3"/>
<text x="543.65" y="387.55" font-family="Liberation Sans" font-weight="bold" font-size="9" text-anchor="end">0</text>
<line x1="544.85" y1="348.63" x2="549.35" y2="348.63" stroke="#262626" stroke-width="1.3"/>
<text x="543.65" y="351.88" font-family="Liberation Sans" font-weight="bold" font-size="9" text-anchor="end">10</text>
<line x1="544.85" y1="312.97" x2="549.35" y2="312.97" stroke="#262626" stroke-width="1.3"/>
<text x="543.65" y="316.22" font-family="Liberation Sans" font-weight="bold" font-size="9" text-anchor="end">20</text>
<line x1="544.85" y1="277.3" x2="549.35" y2="277.3" stroke="#262626" stroke-width="1.3"/>
<text x="543.65" y="280.55" font-family="Liberation Sans" font-weight="bold" font-size="9" text-anchor="end">30</text>
<line x1="559.6" y1="395.7" x2="678.72" y2="395.7" stroke="#262626" stroke-width="1.3"/>
<line x1="560.2" y1="395.7" x2="560.2" y2="400.2" stroke="#262626" stroke-width="1.3"/>
<text transform="translate(563,408.3) rotate(-45)" font-family="Liberation Sans" font-weight="bold" font-size="9" text-anchor="end">10</text>
<line x1="570.92" y1="395.7" x2="570.92" y2="400.2" stroke="#262626" stroke-width="1.3"/>
<text transform="translate(573.72,408.3) rotate(-45)" font-family="Liberation Sans" font-weight="bold" font-size="9" text-anchor="end">11</text>
<line x1="581.64" y1="395.7" x2="581.64" y2="400.2" stroke="#262626" stroke-width="1.3"/>
<text transform="translate(584.44,408.3) rotate(-45)" font-family="Liberation Sans" font-weight="bold" font-size="9" text-anchor="end">12</text>
<line x1="592.36" y1="395.7" x2="592.36" y2="400.2" stroke="#262626" stroke-width="1.3"/>
<text transform="translate(595.16,408.3) rotate(-45)" font-family="Liberation Sans" font-weight="bold" font-size="9" text-anchor="end">13</text>
<line x1="603.08" y1="395.7" x2="603.08" y2="400.2" stroke="#262626" stroke-width="1.3"/>
<text transform="translate(605.88,408.3) rotate(-45)" font-family="Liberation Sans" font-weight="bold" font-size="9" text-anchor="end">14</text>
<line x1="613.8" y1="395.7" x2="613.8" y2="400.2" stroke="#262626" stroke-width="1.3"/>
<text transform="translate(616.6,408.3) rotate(-45)" font-family="Liberation Sans" font-weight="bold" font-size="9" text-anchor="end">15</text>
<line x1="624.52" y1="395.7" x2="624.52" y2="400.2" stroke="#262626" stroke-width="1.3"/>
<text transform="translate(627.32,408.3) rotate(-45)" font-family="Liberation Sans" font-weight="bold" font-size="9" text-anchor="end">16</text>
<line x1="635.24" y1="395.7" x2="635.24" y2="400.2" stroke="#262626" stroke-width="1.3"/>
<text transform="translate(638.04,408.3) rotate(-45)" font-family="Liberation Sans" font-weight="bold" font-size="9" text-anchor="end">17</text>
<line x1="645.96" y1="395.7" x2="645.96" y2="400.2" stroke="#262626" stroke-width="1.3"/>
<text transform="translate(648.76,408.3) rotate(-45)" font-family="Liberation Sans" font-weight="bold" font-size="9" text-anchor="end">18</text>
<line x1="656.68" y1="395.7" x2="656.68" y2="400.2" stroke="#262626" stroke-width="1.3"/>
<text transform="translate(659.48,408.3) rotate(-45)" font-family="Liberation Sans" font-weight="bold" font-size="9" text-anchor="end">19</text>
<line x1="667.4" y1="395.7" x2="667.4" y2="400.2" stroke="#262626" stroke-width="1.3"/>
<text transform="translate(670.2,408.3) rotate(-45)" font-family="Liberation Sans" font-weight="bold" font-size="9" text-anchor="end">20</text>
<line x1="678.12" y1="395.7" x2="678.12" y2="400.2" stroke="#262626" stroke-width="1.3"/>
<text transform="translate(680.92,408.3) rotate(-45)" font-family="Liberation Sans" font-weight="bold" font-size="9" text-anchor="end">21</text>
<text x="619.16" y="422.5" font-family="Liberation Sans" font-weight="bold" font-size="9" text-anchor="middle">Postnatal Days</text>
<text transform="translate(527.65,330.8) rotate(-90)" font-family="Liberation Sans" font-weight="bold" font-size="9" text-anchor="middle">Walking (Minutes)</text>
<path d="M560.2 382.69V384.12M557.8 382.69H562.6M557.8 384.12H562.6" stroke="#f27480" stroke-width="1.2" fill="none"/>
<path d="M592.36 382.52V383.94M589.96 382.52H594.76M589.96 383.94H594.76" stroke="#f27480" stroke-width="1.2" fill="none"/>
<path d="M603.08 382.52V383.94M600.68 382.52H605.48M600.68 383.94H605.48" stroke="#f27480" stroke-width="1.2" fill="none"/>
<path d="M613.8 365.04V372.17M611.4 365.04H616.2M611.4 372.17H616.2" stroke="#f27480" stroke-width="1.2" fill="none"/>
<path d="M624.52 316.89V327.59M622.12 316.89H626.92M622.12 327.59H626.92" stroke="#f27480" stroke-width="1.2" fill="none"/>
<path d="M635.24 310.47V317.6M632.84 310.47H637.64M632.84 317.6H637.64" stroke="#f27480" stroke-width="1.2" fill="none"/>
<path d="M645.96 289.78V296.92M643.56 289.78H648.36M643.56 296.92H648.36" stroke="#f27480" stroke-width="1.2" fill="none"/>
<path d="M656.68 293.35V301.91M654.28 293.35H659.08M654.28 301.91H659.08" stroke="#f27480" stroke-width="1.2" fill="none"/>
<path d="M667.4 293.35V302.62M665 293.35H669.8M665 302.62H669.8" stroke="#f27480" stroke-width="1.2" fill="none"/>
<path d="M678.12 296.2V306.9M675.72 296.2H680.52M675.72 306.9H680.52" stroke="#f27480" stroke-width="1.2" fill="none"/>
<polyline points="560.2,383.41 570.92,384.3 581.64,384.3 592.36,383.23 603.08,383.23 613.8,368.61 624.52,322.24 635.24,314.04 645.96,293.35 656.68,297.63 667.4,297.99 678.12,301.55" fill="none" stroke="#f27480" stroke-width="1.2"/>
<circle cx="560.2" cy="383.41" r="2.5" fill="#f5a3aa" stroke="#f0707c" stroke-width="1"/>
<circle cx="570.92" cy="384.3" r="2.5" fill="#f5a3aa" stroke="#f0707c" stroke-width="1"/>
<circle cx="581.64" cy="384.3" r="2.5" fill="#f5a3aa" stroke="#f0707c" stroke-width="1"/>
<circle cx="592.36" cy="383.23" r="2.5" fill="#f5a3aa" stroke="#f0707c" stroke-width="1"/>
<circle cx="603.08" cy="383.23" r="2.5" fill="#f5a3aa" stroke="#f0707c" stroke-width="1"/>
<circle cx="613.8" cy="368.61" r="2.5" fill="#f5a3aa" stroke="#f0707c" stroke-width="1"/>
<circle cx="624.52" cy="322.24" r="2.5" fill="#f5a3aa" stroke="#f0707c" stroke-width="1"/>
<circle cx="635.24" cy="314.04" r="2.5" fill="#f5a3aa" stroke="#f0707c" stroke-width="1"/>
<circle cx="645.96" cy="293.35" r="2.5" fill="#f5a3aa" stroke="#f0707c" stroke-width="1"/>
<circle cx="656.68" cy="297.63" r="2.5" fill="#f5a3aa" stroke="#f0707c" stroke-width="1"/>
<circle cx="667.4" cy="297.99" r="2.5" fill="#f5a3aa" stroke="#f0707c" stroke-width="1"/>
<circle cx="678.12" cy="301.55" r="2.5" fill="#f5a3aa" stroke="#f0707c" stroke-width="1"/>
<path d="M560.2 375.03V377.88M557.8 375.03H562.6M557.8 377.88H562.6" stroke="#6d6e70" stroke-width="1.2" fill="none"/>
<path d="M570.92 376.1V378.24M568.52 376.1H573.32M568.52 378.24H573.32" stroke="#6d6e70" stroke-width="1.2" fill="none"/>
<path d="M581.64 376.1V379.66M579.24 376.1H584.04M579.24 379.66H584.04" stroke="#6d6e70" stroke-width="1.2" fill="none"/>
<path d="M592.36 361.47V364.33M589.96 361.47H594.76M589.96 364.33H594.76" stroke="#6d6e70" stroke-width="1.2" fill="none"/>
<path d="M603.08 361.47V364.33M600.68 361.47H605.48M600.68 364.33H605.48" stroke="#6d6e70" stroke-width="1.2" fill="none"/>
<path d="M613.8 344.35V350.06M611.4 344.35H616.2M611.4 350.06H616.2" stroke="#6d6e70" stroke-width="1.2" fill="none"/>
<path d="M624.52 307.62V313.32M622.12 307.62H626.92M622.12 313.32H626.92" stroke="#6d6e70" stroke-width="1.2" fill="none"/>
<path d="M635.24 297.63V301.91M632.84 297.63H637.64M632.84 301.91H637.64" stroke="#6d6e70" stroke-width="1.2" fill="none"/>
<path d="M645.96 293.35V297.63M643.56 293.35H648.36M643.56 297.63H648.36" stroke="#6d6e70" stroke-width="1.2" fill="none"/>
<path d="M656.68 294.78V300.48M654.28 294.78H659.08M654.28 300.48H659.08" stroke="#6d6e70" stroke-width="1.2" fill="none"/>
<path d="M667.4 294.78V300.48M665 294.78H669.8M665 300.48H669.8" stroke="#6d6e70" stroke-width="1.2" fill="none"/>
<path d="M678.12 300.84V306.55M675.72 300.84H680.52M675.72 306.55H680.52" stroke="#6d6e70" stroke-width="1.2" fill="none"/>
<polyline points="560.2,376.45 570.92,377.17 581.64,377.88 592.36,362.9 603.08,362.9 613.8,347.21 624.52,310.47 635.24,299.77 645.96,295.49 656.68,297.63 667.4,297.63 678.12,303.69" fill="none" stroke="#6d6e70" stroke-width="1.2"/>
<circle cx="560.2" cy="376.45" r="2.5" fill="#8f9194" stroke="#707276" stroke-width="1"/>
<circle cx="570.92" cy="377.17" r="2.5" fill="#8f9194" stroke="#707276" stroke-width="1"/>
<circle cx="581.64" cy="377.88" r="2.5" fill="#8f9194" stroke="#707276" stroke-width="1"/>
<circle cx="592.36" cy="362.9" r="2.5" fill="#8f9194" stroke="#707276" stroke-width="1"/>
<circle cx="603.08" cy="362.9" r="2.5" fill="#8f9194" stroke="#707276" stroke-width="1"/>
<circle cx="613.8" cy="347.21" r="2.5" fill="#8f9194" stroke="#707276" stroke-width="1"/>
<circle cx="624.52" cy="310.47" r="2.5" fill="#8f9194" stroke="#707276" stroke-width="1"/>
<circle cx="635.24" cy="299.77" r="2.5" fill="#8f9194" stroke="#707276" stroke-width="1"/>
<circle cx="645.96" cy="295.49" r="2.5" fill="#8f9194" stroke="#707276" stroke-width="1"/>
<circle cx="656.68" cy="297.63" r="2.5" fill="#8f9194" stroke="#707276" stroke-width="1"/>
<circle cx="667.4" cy="297.63" r="2.5" fill="#8f9194" stroke="#707276" stroke-width="1"/>
<circle cx="678.12" cy="303.69" r="2.5" fill="#8f9194" stroke="#707276" stroke-width="1"/>
<text x="560.2" y="376.9" font-family="Liberation Sans" font-weight="bold" font-size="13.5" text-anchor="middle">**</text>
<text x="570.92" y="376.9" font-family="Liberation Sans" font-weight="bold" font-size="13.5" text-anchor="middle">**</text>
<text x="581.64" y="378.3" font-family="Liberation Sans" font-weight="bold" font-size="13.5" text-anchor="middle">*</text>
<text x="592.36" y="364.5" font-family="Liberation Sans" font-weight="bold" font-size="13.5" text-anchor="middle">***</text>
<text x="603.08" y="360.7" font-family="Liberation Sans" font-weight="bold" font-size="13.5" text-anchor="middle">***</text>
<text x="613.8" y="346.5" font-family="Liberation Sans" font-weight="bold" font-size="13.5" text-anchor="middle">**</text>
<text x="624.52" y="309.9" font-family="Liberation Sans" font-weight="bold" font-size="13.5" text-anchor="middle">*</text>
<text x="635.24" y="300" font-family="Liberation Sans" font-weight="bold" font-size="13.5" text-anchor="middle">*</text>
<line x1="621.9" y1="348.5" x2="633.6" y2="348.5" stroke="#6d6e70" stroke-width="1.2"/>
<circle cx="627.9" cy="348.5" r="2.5" fill="#8f9194" stroke="#707276" stroke-width="1"/>
<text x="639.7" y="351.8" font-family="Liberation Sans" font-weight="bold" font-size="9">WT-Veh</text>
<line x1="621.9" y1="357.6" x2="633.6" y2="357.6" stroke="#f27480" stroke-width="1.2"/>
<circle cx="627.9" cy="357.6" r="2.5" fill="#f5a3aa" stroke="#f0707c" stroke-width="1"/>
<text x="639.7" y="360.9" font-family="Liberation Sans" font-weight="bold" font-size="9">KO-Veh</text>
<text x="1.4" y="441" font-family="Liberation Sans" font-weight="bold" font-size="15">g</text>
<line x1="42.4" y1="447.3" x2="42.4" y2="555.5" stroke="#262626" stroke-width="1.3"/>
<line x1="37.9" y1="554.9" x2="42.4" y2="554.9" stroke="#262626" stroke-width="1.3"/>
<text x="36.7" y="558.15" font-family="Liberation Sans" font-weight="bold" font-size="9" text-anchor="end">0</text>
<line x1="37.9" y1="528.15" x2="42.4" y2="528.15" stroke="#262626" stroke-width="1.3"/>
<text x="36.7" y="531.4" font-family="Liberation Sans" font-weight="bold" font-size="9" text-anchor="end">20</text>
<line x1="37.9" y1="501.4" x2="42.4" y2="501.4" stroke="#262626" stroke-width="1.3"/>
<text x="36.7" y="504.65" font-family="Liberation Sans" font-weight="bold" font-size="9" text-anchor="end">40</text>
<line x1="37.9" y1="474.65" x2="42.4" y2="474.65" stroke="#262626" stroke-width="1.3"/>
<text x="36.7" y="477.9" font-family="Liberation Sans" font-weight="bold" font-size="9" text-anchor="end">60</text>
<line x1="37.9" y1="447.9" x2="42.4" y2="447.9" stroke="#262626" stroke-width="1.3"/>
<text x="36.7" y="451.15" font-family="Liberation Sans" font-weight="bold" font-size="9" text-anchor="end">80</text>
<line x1="52.65" y1="565.8" x2="171.77" y2="565.8" stroke="#262626" stroke-width="1.3"/>
<line x1="53.25" y1="565.8" x2="53.25" y2="570.3" stroke="#262626" stroke-width="1.3"/>
<text transform="translate(56.05,578.4) rotate(-45)" font-family="Liberation Sans" font-weight="bold" font-size="9" text-anchor="end">10</text>
<line x1="63.97" y1="565.8" x2="63.97" y2="570.3" stroke="#262626" stroke-width="1.3"/>
<text transform="translate(66.77,578.4) rotate(-45)" font-family="Liberation Sans" font-weight="bold" font-size="9" text-anchor="end">11</text>
<line x1="74.69" y1="565.8" x2="74.69" y2="570.3" stroke="#262626" stroke-width="1.3"/>
<text transform="translate(77.49,578.4) rotate(-45)" font-family="Liberation Sans" font-weight="bold" font-size="9" text-anchor="end">12</text>
<line x1="85.41" y1="565.8" x2="85.41" y2="570.3" stroke="#262626" stroke-width="1.3"/>
<text transform="translate(88.21,578.4) rotate(-45)" font-family="Liberation Sans" font-weight="bold" font-size="9" text-anchor="end">13</text>
<line x1="96.13" y1="565.8" x2="96.13" y2="570.3" stroke="#262626" stroke-width="1.3"/>
<text transform="translate(98.93,578.4) rotate(-45)" font-family="Liberation Sans" font-weight="bold" font-size="9" text-anchor="end">14</text>
<line x1="106.85" y1="565.8" x2="106.85" y2="570.3" stroke="#262626" stroke-width="1.3"/>
<text transform="translate(109.65,578.4) rotate(-45)" font-family="Liberation Sans" font-weight="bold" font-size="9" text-anchor="end">15</text>
<line x1="117.57" y1="565.8" x2="117.57" y2="570.3" stroke="#262626" stroke-width="1.3"/>
<text transform="translate(120.37,578.4) rotate(-45)" font-family="Liberation Sans" font-weight="bold" font-size="9" text-anchor="end">16</text>
<line x1="128.29" y1="565.8" x2="128.29" y2="570.3" stroke="#262626" stroke-width="1.3"/>
<text transform="translate(131.09,578.4) rotate(-45)" font-family="Liberation Sans" font-weight="bold" font-size="9" text-anchor="end">17</text>
<line x1="139.01" y1="565.8" x2="139.01" y2="570.3" stroke="#262626" stroke-width="1.3"/>
<text transform="translate(141.81,578.4) rotate(-45)" font-family="Liberation Sans" font-weight="bold" font-size="9" text-anchor="end">18</text>
<line x1="149.73" y1="565.8" x2="149.73" y2="570.3" stroke="#262626" stroke-width="1.3"/>
<text transform="translate(152.53,578.4) rotate(-45)" font-family="Liberation Sans" font-weight="bold" font-size="9" text-anchor="end">19</text>
<line x1="160.45" y1="565.8" x2="160.45" y2="570.3" stroke="#262626" stroke-width="1.3"/>
<text transform="translate(163.25,578.4) rotate(-45)" font-family="Liberation Sans" font-weight="bold" font-size="9" text-anchor="end">20</text>
<line x1="171.17" y1="565.8" x2="171.17" y2="570.3" stroke="#262626" stroke-width="1.3"/>
<text transform="translate(173.97,578.4) rotate(-45)" font-family="Liberation Sans" font-weight="bold" font-size="9" text-anchor="end">21</text>
<text x="112.21" y="592.6" font-family="Liberation Sans" font-weight="bold" font-size="9" text-anchor="middle">Postnatal Days</text>
<text transform="translate(20.7,501.4) rotate(-90)" font-family="Liberation Sans" font-weight="bold" font-size="9" text-anchor="middle">Low Amplitude Events</text>
<path d="M53.25 484.01V492.04M50.85 484.01H55.65M50.85 492.04H55.65" stroke="#651c69" stroke-width="1.2" fill="none"/>
<path d="M63.97 501.4V509.42M61.57 501.4H66.37M61.57 509.42H66.37" stroke="#651c69" stroke-width="1.2" fill="none"/>
<path d="M74.69 528.95V534.3M72.29 528.95H77.09M72.29 534.3H77.09" stroke="#651c69" stroke-width="1.2" fill="none"/>
<path d="M85.41 540.86V543.53M83.01 540.86H87.81M83.01 543.53H87.81" stroke="#651c69" stroke-width="1.2" fill="none"/>
<path d="M96.13 542.86V545.54M93.73 542.86H98.53M93.73 545.54H98.53" stroke="#651c69" stroke-width="1.2" fill="none"/>
<path d="M106.85 550.89V552.23M104.45 550.89H109.25M104.45 552.23H109.25" stroke="#651c69" stroke-width="1.2" fill="none"/>
<polyline points="53.25,488.02 63.97,505.41 74.69,531.63 85.41,542.19 96.13,544.2 106.85,551.56 117.57,554.9 128.29,554.9 139.01,554.9 149.73,554.9 160.45,554.9 171.17,554.9" fill="none" stroke="#651c69" stroke-width="1.2"/>
<circle cx="53.25" cy="488.02" r="2.5" fill="#8a4a8c" stroke="#5a1460" stroke-width="1"/>
<circle cx="63.97" cy="505.41" r="2.5" fill="#8a4a8c" stroke="#5a1460" stroke-width="1"/>
<circle cx="74.69" cy="531.63" r="2.5" fill="#8a4a8c" stroke="#5a1460" stroke-width="1"/>
<circle cx="85.41" cy="542.19" r="2.5" fill="#8a4a8c" stroke="#5a1460" stroke-width="1"/>
<circle cx="96.13" cy="544.2" r="2.5" fill="#8a4a8c" stroke="#5a1460" stroke-width="1"/>
<circle cx="106.85" cy="551.56" r="2.5" fill="#8a4a8c" stroke="#5a1460" stroke-width="1"/>
<circle cx="117.57" cy="554.9" r="2.5" fill="#8a4a8c" stroke="#5a1460" stroke-width="1"/>
<circle cx="128.29" cy="554.9" r="2.5" fill="#8a4a8c" stroke="#5a1460" stroke-width="1"/>
<circle cx="139.01" cy="554.9" r="2.5" fill="#8a4a8c" stroke="#5a1460" stroke-width="1"/>
<circle cx="149.73" cy="554.9" r="2.5" fill="#8a4a8c" stroke="#5a1460" stroke-width="1"/>
<circle cx="160.45" cy="554.9" r="2.5" fill="#8a4a8c" stroke="#5a1460" stroke-width="1"/>
<circle cx="171.17" cy="554.9" r="2.5" fill="#8a4a8c" stroke="#5a1460" stroke-width="1"/>
<path d="M53.25 469.3V480M50.85 469.3H55.65M50.85 480H55.65" stroke="#f27480" stroke-width="1.2" fill="none"/>
<path d="M63.97 474.65V485.35M61.57 474.65H66.37M61.57 485.35H66.37" stroke="#f27480" stroke-width="1.2" fill="none"/>
<path d="M74.69 508.09V516.11M72.29 508.09H77.09M72.29 516.11H77.09" stroke="#f27480" stroke-width="1.2" fill="none"/>
<path d="M85.41 536.84V540.86M83.01 536.84H87.81M83.01 540.86H87.81" stroke="#f27480" stroke-width="1.2" fill="none"/>
<path d="M96.13 541.26V545.27M93.73 541.26H98.53M93.73 545.27H98.53" stroke="#f27480" stroke-width="1.2" fill="none"/>
<path d="M106.85 549.82V552.49M104.45 549.82H109.25M104.45 552.49H109.25" stroke="#f27480" stroke-width="1.2" fill="none"/>
<polyline points="53.25,474.65 63.97,480 74.69,512.1 85.41,538.85 96.13,543.26 106.85,551.15 117.57,554.9 128.29,554.9 139.01,554.9 149.73,554.9 160.45,554.9 171.17,554.9" fill="none" stroke="#f27480" stroke-width="1.2"/>
<circle cx="53.25" cy="474.65" r="2.5" fill="#f5a3aa" stroke="#f0707c" stroke-width="1"/>
<circle cx="63.97" cy="480" r="2.5" fill="#f5a3aa" stroke="#f0707c" stroke-width="1"/>
<circle cx="74.69" cy="512.1" r="2.5" fill="#f5a3aa" stroke="#f0707c" stroke-width="1"/>
<circle cx="85.41" cy="538.85" r="2.5" fill="#f5a3aa" stroke="#f0707c" stroke-width="1"/>
<circle cx="96.13" cy="543.26" r="2.5" fill="#f5a3aa" stroke="#f0707c" stroke-width="1"/>
<circle cx="106.85" cy="551.15" r="2.5" fill="#f5a3aa" stroke="#f0707c" stroke-width="1"/>
<circle cx="117.57" cy="554.9" r="2.5" fill="#f5a3aa" stroke="#f0707c" stroke-width="1"/>
<circle cx="128.29" cy="554.9" r="2.5" fill="#f5a3aa" stroke="#f0707c" stroke-width="1"/>
<circle cx="139.01" cy="554.9" r="2.5" fill="#f5a3aa" stroke="#f0707c" stroke-width="1"/>
<circle cx="149.73" cy="554.9" r="2.5" fill="#f5a3aa" stroke="#f0707c" stroke-width="1"/>
<circle cx="160.45" cy="554.9" r="2.5" fill="#f5a3aa" stroke="#f0707c" stroke-width="1"/>
<circle cx="171.17" cy="554.9" r="2.5" fill="#f5a3aa" stroke="#f0707c" stroke-width="1"/>
<text x="63.97" y="477.4" font-family="Liberation Sans" font-weight="bold" font-size="13.5" text-anchor="middle">**</text>
<text x="74.69" y="510.4" font-family="Liberation Sans" font-weight="bold" font-size="13.5" text-anchor="middle">**</text>
<line x1="117" y1="523.3" x2="128.7" y2="523.3" stroke="#f27480" stroke-width="1.2"/>
<circle cx="123" cy="523.3" r="2.5" fill="#f5a3aa" stroke="#f0707c" stroke-width="1"/>
<text x="135.2" y="526.6" font-family="Liberation Sans" font-weight="bold" font-size="9">KO-Veh</text>
<line x1="117" y1="532.9" x2="128.7" y2="532.9" stroke="#651c69" stroke-width="1.2"/>
<circle cx="123" cy="532.9" r="2.5" fill="#8a4a8c" stroke="#5a1460" stroke-width="1"/>
<text x="135.2" y="536.2" font-family="Liberation Sans" font-weight="bold" font-size="9">KO-350</text>
<text x="171.2" y="442" font-family="Liberation Sans" font-weight="bold" font-size="15">h</text>
<line x1="211.45" y1="446.7" x2="211.45" y2="554.9" stroke="#262626" stroke-width="1.3"/>
<line x1="206.95" y1="554.3" x2="211.45" y2="554.3" stroke="#262626" stroke-width="1.3"/>
<text x="205.75" y="557.55" font-family="Liberation Sans" font-weight="bold" font-size="9" text-anchor="end">0</text>
<line x1="206.95" y1="527.55" x2="211.45" y2="527.55" stroke="#262626" stroke-width="1.3"/>
<text x="205.75" y="530.8" font-family="Liberation Sans" font-weight="bold" font-size="9" text-anchor="end">20</text>
<line x1="206.95" y1="500.8" x2="211.45" y2="500.8" stroke="#262626" stroke-width="1.3"/>
<text x="205.75" y="504.05" font-family="Liberation Sans" font-weight="bold" font-size="9" text-anchor="end">40</text>
<line x1="206.95" y1="474.05" x2="211.45" y2="474.05" stroke="#262626" stroke-width="1.3"/>
<text x="205.75" y="477.3" font-family="Liberation Sans" font-weight="bold" font-size="9" text-anchor="end">60</text>
<line x1="206.95" y1="447.3" x2="211.45" y2="447.3" stroke="#262626" stroke-width="1.3"/>
<text x="205.75" y="450.55" font-family="Liberation Sans" font-weight="bold" font-size="9" text-anchor="end">80</text>
<line x1="221.7" y1="565.5" x2="340.82" y2="565.5" stroke="#262626" stroke-width="1.3"/>
<line x1="222.3" y1="565.5" x2="222.3" y2="570" stroke="#262626" stroke-width="1.3"/>
<text transform="translate(225.1,578.1) rotate(-45)" font-family="Liberation Sans" font-weight="bold" font-size="9" text-anchor="end">10</text>
<line x1="233.02" y1="565.5" x2="233.02" y2="570" stroke="#262626" stroke-width="1.3"/>
<text transform="translate(235.82,578.1) rotate(-45)" font-family="Liberation Sans" font-weight="bold" font-size="9" text-anchor="end">11</text>
<line x1="243.74" y1="565.5" x2="243.74" y2="570" stroke="#262626" stroke-width="1.3"/>
<text transform="translate(246.54,578.1) rotate(-45)" font-family="Liberation Sans" font-weight="bold" font-size="9" text-anchor="end">12</text>
<line x1="254.46" y1="565.5" x2="254.46" y2="570" stroke="#262626" stroke-width="1.3"/>
<text transform="translate(257.26,578.1) rotate(-45)" font-family="Liberation Sans" font-weight="bold" font-size="9" text-anchor="end">13</text>
<line x1="265.18" y1="565.5" x2="265.18" y2="570" stroke="#262626" stroke-width="1.3"/>
<text transform="translate(267.98,578.1) rotate(-45)" font-family="Liberation Sans" font-weight="bold" font-size="9" text-anchor="end">14</text>
<line x1="275.9" y1="565.5" x2="275.9" y2="570" stroke="#262626" stroke-width="1.3"/>
<text transform="translate(278.7,578.1) rotate(-45)" font-family="Liberation Sans" font-weight="bold" font-size="9" text-anchor="end">15</text>
<line x1="286.62" y1="565.5" x2="286.62" y2="570" stroke="#262626" stroke-width="1.3"/>
<text transform="translate(289.42,578.1) rotate(-45)" font-family="Liberation Sans" font-weight="bold" font-size="9" text-anchor="end">16</text>
<line x1="297.34" y1="565.5" x2="297.34" y2="570" stroke="#262626" stroke-width="1.3"/>
<text transform="translate(300.14,578.1) rotate(-45)" font-family="Liberation Sans" font-weight="bold" font-size="9" text-anchor="end">17</text>
<line x1="308.06" y1="565.5" x2="308.06" y2="570" stroke="#262626" stroke-width="1.3"/>
<text transform="translate(310.86,578.1) rotate(-45)" font-family="Liberation Sans" font-weight="bold" font-size="9" text-anchor="end">18</text>
<line x1="318.78" y1="565.5" x2="318.78" y2="570" stroke="#262626" stroke-width="1.3"/>
<text transform="translate(321.58,578.1) rotate(-45)" font-family="Liberation Sans" font-weight="bold" font-size="9" text-anchor="end">19</text>
<line x1="329.5" y1="565.5" x2="329.5" y2="570" stroke="#262626" stroke-width="1.3"/>
<text transform="translate(332.3,578.1) rotate(-45)" font-family="Liberation Sans" font-weight="bold" font-size="9" text-anchor="end">20</text>
<line x1="340.22" y1="565.5" x2="340.22" y2="570" stroke="#262626" stroke-width="1.3"/>
<text transform="translate(343.02,578.1) rotate(-45)" font-family="Liberation Sans" font-weight="bold" font-size="9" text-anchor="end">21</text>
<text x="281.26" y="592.3" font-family="Liberation Sans" font-weight="bold" font-size="9" text-anchor="middle">Postnatal Days</text>
<text transform="translate(189.75,500.8) rotate(-90)" font-family="Liberation Sans" font-weight="bold" font-size="9" text-anchor="middle">High Amplitude Events</text>
<path d="M222.3 482.07V490.1M219.9 482.07H224.7M219.9 490.1H224.7" stroke="#651c69" stroke-width="1.2" fill="none"/>
<path d="M233.02 499.33V506.02M230.62 499.33H235.42M230.62 506.02H235.42" stroke="#651c69" stroke-width="1.2" fill="none"/>
<path d="M243.74 529.56V533.57M241.34 529.56H246.14M241.34 533.57H246.14" stroke="#651c69" stroke-width="1.2" fill="none"/>
<path d="M254.46 549.35V552.03M252.06 549.35H256.86M252.06 552.03H256.86" stroke="#651c69" stroke-width="1.2" fill="none"/>
<path d="M265.18 550.29V551.62M262.78 550.29H267.58M262.78 551.62H267.58" stroke="#651c69" stroke-width="1.2" fill="none"/>
<path d="M275.9 552.56V553.36M273.5 552.56H278.3M273.5 553.36H278.3" stroke="#651c69" stroke-width="1.2" fill="none"/>
<polyline points="222.3,486.09 233.02,502.67 243.74,531.56 254.46,550.69 265.18,550.96 275.9,552.96 286.62,554.3 297.34,554.3 308.06,554.3 318.78,554.3 329.5,554.3 340.22,554.3" fill="none" stroke="#651c69" stroke-width="1.2"/>
<circle cx="222.3" cy="486.09" r="2.5" fill="#8a4a8c" stroke="#5a1460" stroke-width="1"/>
<circle cx="233.02" cy="502.67" r="2.5" fill="#8a4a8c" stroke="#5a1460" stroke-width="1"/>
<circle cx="243.74" cy="531.56" r="2.5" fill="#8a4a8c" stroke="#5a1460" stroke-width="1"/>
<circle cx="254.46" cy="550.69" r="2.5" fill="#8a4a8c" stroke="#5a1460" stroke-width="1"/>
<circle cx="265.18" cy="550.96" r="2.5" fill="#8a4a8c" stroke="#5a1460" stroke-width="1"/>
<circle cx="275.9" cy="552.96" r="2.5" fill="#8a4a8c" stroke="#5a1460" stroke-width="1"/>
<circle cx="286.62" cy="554.3" r="2.5" fill="#8a4a8c" stroke="#5a1460" stroke-width="1"/>
<circle cx="297.34" cy="554.3" r="2.5" fill="#8a4a8c" stroke="#5a1460" stroke-width="1"/>
<circle cx="308.06" cy="554.3" r="2.5" fill="#8a4a8c" stroke="#5a1460" stroke-width="1"/>
<circle cx="318.78" cy="554.3" r="2.5" fill="#8a4a8c" stroke="#5a1460" stroke-width="1"/>
<circle cx="329.5" cy="554.3" r="2.5" fill="#8a4a8c" stroke="#5a1460" stroke-width="1"/>
<circle cx="340.22" cy="554.3" r="2.5" fill="#8a4a8c" stroke="#5a1460" stroke-width="1"/>
<path d="M222.3 462.95V479.8M219.9 462.95H224.7M219.9 479.8H224.7" stroke="#f27480" stroke-width="1.2" fill="none"/>
<path d="M233.02 470.04V480.74M230.62 470.04H235.42M230.62 480.74H235.42" stroke="#f27480" stroke-width="1.2" fill="none"/>
<path d="M243.74 512.17V517.52M241.34 512.17H246.14M241.34 517.52H246.14" stroke="#f27480" stroke-width="1.2" fill="none"/>
<path d="M254.46 540.66V546.01M252.06 540.66H256.86M252.06 546.01H256.86" stroke="#f27480" stroke-width="1.2" fill="none"/>
<path d="M265.18 547.88V550.55M262.78 547.88H267.58M262.78 550.55H267.58" stroke="#f27480" stroke-width="1.2" fill="none"/>
<path d="M275.9 552.03V553.36M273.5 552.03H278.3M273.5 553.36H278.3" stroke="#f27480" stroke-width="1.2" fill="none"/>
<polyline points="222.3,471.38 233.02,475.39 243.74,514.84 254.46,543.33 265.18,549.22 275.9,552.69 286.62,554.3 297.34,554.3 308.06,554.3 318.78,554.3 329.5,554.3 340.22,554.3" fill="none" stroke="#f27480" stroke-width="1.2"/>
<circle cx="222.3" cy="471.38" r="2.5" fill="#f5a3aa" stroke="#f0707c" stroke-width="1"/>
<circle cx="233.02" cy="475.39" r="2.5" fill="#f5a3aa" stroke="#f0707c" stroke-width="1"/>
<circle cx="243.74" cy="514.84" r="2.5" fill="#f5a3aa" stroke="#f0707c" stroke-width="1"/>
<circle cx="254.46" cy="543.33" r="2.5" fill="#f5a3aa" stroke="#f0707c" stroke-width="1"/>
<circle cx="265.18" cy="549.22" r="2.5" fill="#f5a3aa" stroke="#f0707c" stroke-width="1"/>
<circle cx="275.9" cy="552.69" r="2.5" fill="#f5a3aa" stroke="#f0707c" stroke-width="1"/>
<circle cx="286.62" cy="554.3" r="2.5" fill="#f5a3aa" stroke="#f0707c" stroke-width="1"/>
<circle cx="297.34" cy="554.3" r="2.5" fill="#f5a3aa" stroke="#f0707c" stroke-width="1"/>
<circle cx="308.06" cy="554.3" r="2.5" fill="#f5a3aa" stroke="#f0707c" stroke-width="1"/>
<circle cx="318.78" cy="554.3" r="2.5" fill="#f5a3aa" stroke="#f0707c" stroke-width="1"/>
<circle cx="329.5" cy="554.3" r="2.5" fill="#f5a3aa" stroke="#f0707c" stroke-width="1"/>
<circle cx="340.22" cy="554.3" r="2.5" fill="#f5a3aa" stroke="#f0707c" stroke-width="1"/>
<text x="233.02" y="472.5" font-family="Liberation Sans" font-weight="bold" font-size="13.5" text-anchor="middle">**</text>
<text x="243.74" y="516.1" font-family="Liberation Sans" font-weight="bold" font-size="13.5" text-anchor="middle">***</text>
<text x="254.46" y="544" font-family="Liberation Sans" font-weight="bold" font-size="13.5" text-anchor="middle">*</text>
<line x1="281.5" y1="522.5" x2="293.2" y2="522.5" stroke="#f27480" stroke-width="1.2"/>
<circle cx="287.5" cy="522.5" r="2.5" fill="#f5a3aa" stroke="#f0707c" stroke-width="1"/>
<text x="299" y="525.8" font-family="Liberation Sans" font-weight="bold" font-size="9">KO-Veh</text>
<line x1="281.5" y1="532.6" x2="293.2" y2="532.6" stroke="#651c69" stroke-width="1.2"/>
<circle cx="287.5" cy="532.6" r="2.5" fill="#8a4a8c" stroke="#5a1460" stroke-width="1"/>
<text x="299" y="535.9" font-family="Liberation Sans" font-weight="bold" font-size="9">KO-350</text>
<text x="348.5" y="441" font-family="Liberation Sans" font-weight="bold" font-size="15">i</text>
<line x1="383.95" y1="446.6" x2="383.95" y2="554.4" stroke="#262626" stroke-width="1.3"/>
<line x1="379.45" y1="553.8" x2="383.95" y2="553.8" stroke="#262626" stroke-width="1.3"/>
<text x="378.25" y="557.05" font-family="Liberation Sans" font-weight="bold" font-size="9" text-anchor="end">0</text>
<line x1="379.45" y1="518.27" x2="383.95" y2="518.27" stroke="#262626" stroke-width="1.3"/>
<text x="378.25" y="521.52" font-family="Liberation Sans" font-weight="bold" font-size="9" text-anchor="end">10</text>
<line x1="379.45" y1="482.73" x2="383.95" y2="482.73" stroke="#262626" stroke-width="1.3"/>
<text x="378.25" y="485.98" font-family="Liberation Sans" font-weight="bold" font-size="9" text-anchor="end">20</text>
<line x1="379.45" y1="447.2" x2="383.95" y2="447.2" stroke="#262626" stroke-width="1.3"/>
<text x="378.25" y="450.45" font-family="Liberation Sans" font-weight="bold" font-size="9" text-anchor="end">30</text>
<line x1="394.2" y1="564.8" x2="513.32" y2="564.8" stroke="#262626" stroke-width="1.3"/>
<line x1="394.8" y1="564.8" x2="394.8" y2="569.3" stroke="#262626" stroke-width="1.3"/>
<text transform="translate(397.6,577.4) rotate(-45)" font-family="Liberation Sans" font-weight="bold" font-size="9" text-anchor="end">10</text>
<line x1="405.52" y1="564.8" x2="405.52" y2="569.3" stroke="#262626" stroke-width="1.3"/>
<text transform="translate(408.32,577.4) rotate(-45)" font-family="Liberation Sans" font-weight="bold" font-size="9" text-anchor="end">11</text>
<line x1="416.24" y1="564.8" x2="416.24" y2="569.3" stroke="#262626" stroke-width="1.3"/>
<text transform="translate(419.04,577.4) rotate(-45)" font-family="Liberation Sans" font-weight="bold" font-size="9" text-anchor="end">12</text>
<line x1="426.96" y1="564.8" x2="426.96" y2="569.3" stroke="#262626" stroke-width="1.3"/>
<text transform="translate(429.76,577.4) rotate(-45)" font-family="Liberation Sans" font-weight="bold" font-size="9" text-anchor="end">13</text>
<line x1="437.68" y1="564.8" x2="437.68" y2="569.3" stroke="#262626" stroke-width="1.3"/>
<text transform="translate(440.48,577.4) rotate(-45)" font-family="Liberation Sans" font-weight="bold" font-size="9" text-anchor="end">14</text>
<line x1="448.4" y1="564.8" x2="448.4" y2="569.3" stroke="#262626" stroke-width="1.3"/>
<text transform="translate(451.2,577.4) rotate(-45)" font-family="Liberation Sans" font-weight="bold" font-size="9" text-anchor="end">15</text>
<line x1="459.12" y1="564.8" x2="459.12" y2="569.3" stroke="#262626" stroke-width="1.3"/>
<text transform="translate(461.92,577.4) rotate(-45)" font-family="Liberation Sans" font-weight="bold" font-size="9" text-anchor="end">16</text>
<line x1="469.84" y1="564.8" x2="469.84" y2="569.3" stroke="#262626" stroke-width="1.3"/>
<text transform="translate(472.64,577.4) rotate(-45)" font-family="Liberation Sans" font-weight="bold" font-size="9" text-anchor="end">17</text>
<line x1="480.56" y1="564.8" x2="480.56" y2="569.3" stroke="#262626" stroke-width="1.3"/>
<text transform="translate(483.36,577.4) rotate(-45)" font-family="Liberation Sans" font-weight="bold" font-size="9" text-anchor="end">18</text>
<line x1="491.28" y1="564.8" x2="491.28" y2="569.3" stroke="#262626" stroke-width="1.3"/>
<text transform="translate(494.08,577.4) rotate(-45)" font-family="Liberation Sans" font-weight="bold" font-size="9" text-anchor="end">19</text>
<line x1="502" y1="564.8" x2="502" y2="569.3" stroke="#262626" stroke-width="1.3"/>
<text transform="translate(504.8,577.4) rotate(-45)" font-family="Liberation Sans" font-weight="bold" font-size="9" text-anchor="end">20</text>
<line x1="512.72" y1="564.8" x2="512.72" y2="569.3" stroke="#262626" stroke-width="1.3"/>
<text transform="translate(515.52,577.4) rotate(-45)" font-family="Liberation Sans" font-weight="bold" font-size="9" text-anchor="end">21</text>
<text x="453.76" y="591.6" font-family="Liberation Sans" font-weight="bold" font-size="9" text-anchor="middle">Postnatal Days</text>
<text transform="translate(362.25,500.5) rotate(-90)" font-family="Liberation Sans" font-weight="bold" font-size="9" text-anchor="middle">Time on Side (Minutes)</text>
<path d="M394.8 479.54V483.8M392.4 479.54H397.2M392.4 483.8H397.2" stroke="#651c69" stroke-width="1.2" fill="none"/>
<path d="M405.52 479.54V483.8M403.12 479.54H407.92M403.12 483.8H407.92" stroke="#651c69" stroke-width="1.2" fill="none"/>
<path d="M416.24 509.74V516.85M413.84 509.74H418.64M413.84 516.85H418.64" stroke="#651c69" stroke-width="1.2" fill="none"/>
<path d="M426.96 524.66V530.35M424.56 524.66H429.36M424.56 530.35H429.36" stroke="#651c69" stroke-width="1.2" fill="none"/>
<path d="M437.68 551.31V552.73M435.28 551.31H440.08M435.28 552.73H440.08" stroke="#651c69" stroke-width="1.2" fill="none"/>
<polyline points="394.8,481.67 405.52,481.67 416.24,513.29 426.96,527.51 437.68,552.02 448.4,553.8 459.12,553.8 469.84,553.8 480.56,553.8 491.28,553.8 502,553.8 512.72,553.8" fill="none" stroke="#651c69" stroke-width="1.2"/>
<circle cx="394.8" cy="481.67" r="2.5" fill="#8a4a8c" stroke="#5a1460" stroke-width="1"/>
<circle cx="405.52" cy="481.67" r="2.5" fill="#8a4a8c" stroke="#5a1460" stroke-width="1"/>
<circle cx="416.24" cy="513.29" r="2.5" fill="#8a4a8c" stroke="#5a1460" stroke-width="1"/>
<circle cx="426.96" cy="527.51" r="2.5" fill="#8a4a8c" stroke="#5a1460" stroke-width="1"/>
<circle cx="437.68" cy="552.02" r="2.5" fill="#8a4a8c" stroke="#5a1460" stroke-width="1"/>
<circle cx="448.4" cy="553.8" r="2.5" fill="#8a4a8c" stroke="#5a1460" stroke-width="1"/>
<circle cx="459.12" cy="553.8" r="2.5" fill="#8a4a8c" stroke="#5a1460" stroke-width="1"/>
<circle cx="469.84" cy="553.8" r="2.5" fill="#8a4a8c" stroke="#5a1460" stroke-width="1"/>
<circle cx="480.56" cy="553.8" r="2.5" fill="#8a4a8c" stroke="#5a1460" stroke-width="1"/>
<circle cx="491.28" cy="553.8" r="2.5" fill="#8a4a8c" stroke="#5a1460" stroke-width="1"/>
<circle cx="502" cy="553.8" r="2.5" fill="#8a4a8c" stroke="#5a1460" stroke-width="1"/>
<circle cx="512.72" cy="553.8" r="2.5" fill="#8a4a8c" stroke="#5a1460" stroke-width="1"/>
<path d="M394.8 477.76V480.6M392.4 477.76H397.2M392.4 480.6H397.2" stroke="#f27480" stroke-width="1.2" fill="none"/>
<path d="M405.52 472.78V478.47M403.12 472.78H407.92M403.12 478.47H407.92" stroke="#f27480" stroke-width="1.2" fill="none"/>
<path d="M416.24 484.15V494.81M413.84 484.15H418.64M413.84 494.81H418.64" stroke="#f27480" stroke-width="1.2" fill="none"/>
<path d="M426.96 499.79V512.58M424.56 499.79H429.36M424.56 512.58H429.36" stroke="#f27480" stroke-width="1.2" fill="none"/>
<path d="M437.68 522.53V538.17M435.28 522.53H440.08M435.28 538.17H440.08" stroke="#f27480" stroke-width="1.2" fill="none"/>
<polyline points="394.8,479.18 405.52,475.63 416.24,489.48 426.96,506.19 437.68,530.35 448.4,553.8 459.12,553.8 469.84,553.8 480.56,553.8 491.28,553.8 502,553.8 512.72,553.8" fill="none" stroke="#f27480" stroke-width="1.2"/>
<circle cx="394.8" cy="479.18" r="2.5" fill="#f5a3aa" stroke="#f0707c" stroke-width="1"/>
<circle cx="405.52" cy="475.63" r="2.5" fill="#f5a3aa" stroke="#f0707c" stroke-width="1"/>
<circle cx="416.24" cy="489.48" r="2.5" fill="#f5a3aa" stroke="#f0707c" stroke-width="1"/>
<circle cx="426.96" cy="506.19" r="2.5" fill="#f5a3aa" stroke="#f0707c" stroke-width="1"/>
<circle cx="437.68" cy="530.35" r="2.5" fill="#f5a3aa" stroke="#f0707c" stroke-width="1"/>
<circle cx="448.4" cy="553.8" r="2.5" fill="#f5a3aa" stroke="#f0707c" stroke-width="1"/>
<circle cx="459.12" cy="553.8" r="2.5" fill="#f5a3aa" stroke="#f0707c" stroke-width="1"/>
<circle cx="469.84" cy="553.8" r="2.5" fill="#f5a3aa" stroke="#f0707c" stroke-width="1"/>
<circle cx="480.56" cy="553.8" r="2.5" fill="#f5a3aa" stroke="#f0707c" stroke-width="1"/>
<circle cx="491.28" cy="553.8" r="2.5" fill="#f5a3aa" stroke="#f0707c" stroke-width="1"/>
<circle cx="502" cy="553.8" r="2.5" fill="#f5a3aa" stroke="#f0707c" stroke-width="1"/>
<circle cx="512.72" cy="553.8" r="2.5" fill="#f5a3aa" stroke="#f0707c" stroke-width="1"/>
<text x="416.24" y="486" font-family="Liberation Sans" font-weight="bold" font-size="13.5" text-anchor="middle">**</text>
<text x="426.96" y="502.5" font-family="Liberation Sans" font-weight="bold" font-size="13.5" text-anchor="middle">*</text>
<text x="437.68" y="526.2" font-family="Liberation Sans" font-weight="bold" font-size="13.5" text-anchor="middle">*</text>
<line x1="455" y1="532.6" x2="466.7" y2="532.6" stroke="#f27480" stroke-width="1.2"/>
<circle cx="461" cy="532.6" r="2.5" fill="#f5a3aa" stroke="#f0707c" stroke-width="1"/>
<text x="472.5" y="535.9" font-family="Liberation Sans" font-weight="bold" font-size="9">KO-Veh</text>
<line x1="455" y1="542" x2="466.7" y2="542" stroke="#651c69" stroke-width="1.2"/>
<circle cx="461" cy="542" r="2.5" fill="#8a4a8c" stroke="#5a1460" stroke-width="1"/>
<text x="472.5" y="545.3" font-family="Liberation Sans" font-weight="bold" font-size="9">KO-350</text>
<text x="513.5" y="441" font-family="Liberation Sans" font-weight="bold" font-size="15">j</text>
<line x1="550.05" y1="446.3" x2="550.05" y2="554" stroke="#262626" stroke-width="1.3"/>
<line x1="545.55" y1="553.4" x2="550.05" y2="553.4" stroke="#262626" stroke-width="1.3"/>
<text x="544.35" y="556.65" font-family="Liberation Sans" font-weight="bold" font-size="9" text-anchor="end">0</text>
<line x1="545.55" y1="517.9" x2="550.05" y2="517.9" stroke="#262626" stroke-width="1.3"/>
<text x="544.35" y="521.15" font-family="Liberation Sans" font-weight="bold" font-size="9" text-anchor="end">10</text>
<line x1="545.55" y1="482.4" x2="550.05" y2="482.4" stroke="#262626" stroke-width="1.3"/>
<text x="544.35" y="485.65" font-family="Liberation Sans" font-weight="bold" font-size="9" text-anchor="end">20</text>
<line x1="545.55" y1="446.9" x2="550.05" y2="446.9" stroke="#262626" stroke-width="1.3"/>
<text x="544.35" y="450.15" font-family="Liberation Sans" font-weight="bold" font-size="9" text-anchor="end">30</text>
<line x1="560.3" y1="564.7" x2="679.42" y2="564.7" stroke="#262626" stroke-width="1.3"/>
<line x1="560.9" y1="564.7" x2="560.9" y2="569.2" stroke="#262626" stroke-width="1.3"/>
<text transform="translate(563.7,577.3) rotate(-45)" font-family="Liberation Sans" font-weight="bold" font-size="9" text-anchor="end">10</text>
<line x1="571.62" y1="564.7" x2="571.62" y2="569.2" stroke="#262626" stroke-width="1.3"/>
<text transform="translate(574.42,577.3) rotate(-45)" font-family="Liberation Sans" font-weight="bold" font-size="9" text-anchor="end">11</text>
<line x1="582.34" y1="564.7" x2="582.34" y2="569.2" stroke="#262626" stroke-width="1.3"/>
<text transform="translate(585.14,577.3) rotate(-45)" font-family="Liberation Sans" font-weight="bold" font-size="9" text-anchor="end">12</text>
<line x1="593.06" y1="564.7" x2="593.06" y2="569.2" stroke="#262626" stroke-width="1.3"/>
<text transform="translate(595.86,577.3) rotate(-45)" font-family="Liberation Sans" font-weight="bold" font-size="9" text-anchor="end">13</text>
<line x1="603.78" y1="564.7" x2="603.78" y2="569.2" stroke="#262626" stroke-width="1.3"/>
<text transform="translate(606.58,577.3) rotate(-45)" font-family="Liberation Sans" font-weight="bold" font-size="9" text-anchor="end">14</text>
<line x1="614.5" y1="564.7" x2="614.5" y2="569.2" stroke="#262626" stroke-width="1.3"/>
<text transform="translate(617.3,577.3) rotate(-45)" font-family="Liberation Sans" font-weight="bold" font-size="9" text-anchor="end">15</text>
<line x1="625.22" y1="564.7" x2="625.22" y2="569.2" stroke="#262626" stroke-width="1.3"/>
<text transform="translate(628.02,577.3) rotate(-45)" font-family="Liberation Sans" font-weight="bold" font-size="9" text-anchor="end">16</text>
<line x1="635.94" y1="564.7" x2="635.94" y2="569.2" stroke="#262626" stroke-width="1.3"/>
<text transform="translate(638.74,577.3) rotate(-45)" font-family="Liberation Sans" font-weight="bold" font-size="9" text-anchor="end">17</text>
<line x1="646.66" y1="564.7" x2="646.66" y2="569.2" stroke="#262626" stroke-width="1.3"/>
<text transform="translate(649.46,577.3) rotate(-45)" font-family="Liberation Sans" font-weight="bold" font-size="9" text-anchor="end">18</text>
<line x1="657.38" y1="564.7" x2="657.38" y2="569.2" stroke="#262626" stroke-width="1.3"/>
<text transform="translate(660.18,577.3) rotate(-45)" font-family="Liberation Sans" font-weight="bold" font-size="9" text-anchor="end">19</text>
<line x1="668.1" y1="564.7" x2="668.1" y2="569.2" stroke="#262626" stroke-width="1.3"/>
<text transform="translate(670.9,577.3) rotate(-45)" font-family="Liberation Sans" font-weight="bold" font-size="9" text-anchor="end">20</text>
<line x1="678.82" y1="564.7" x2="678.82" y2="569.2" stroke="#262626" stroke-width="1.3"/>
<text transform="translate(681.62,577.3) rotate(-45)" font-family="Liberation Sans" font-weight="bold" font-size="9" text-anchor="end">21</text>
<text x="619.86" y="591.5" font-family="Liberation Sans" font-weight="bold" font-size="9" text-anchor="middle">Postnatal Days</text>
<text transform="translate(528.35,500.15) rotate(-90)" font-family="Liberation Sans" font-weight="bold" font-size="9" text-anchor="middle">Walking (Minutes)</text>
<path d="M571.62 550.56V551.98M569.22 550.56H574.02M569.22 551.98H574.02" stroke="#651c69" stroke-width="1.2" fill="none"/>
<path d="M582.34 542.39V545.94M579.94 542.39H584.74M579.94 545.94H584.74" stroke="#651c69" stroke-width="1.2" fill="none"/>
<path d="M593.06 534.59V538.13M590.66 534.59H595.46M590.66 538.13H595.46" stroke="#651c69" stroke-width="1.2" fill="none"/>
<path d="M603.78 531.03V534.59M601.38 531.03H606.18M601.38 534.59H606.18" stroke="#651c69" stroke-width="1.2" fill="none"/>
<path d="M614.5 514.7V520.38M612.1 514.7H616.9M612.1 520.38H616.9" stroke="#651c69" stroke-width="1.2" fill="none"/>
<path d="M625.22 468.2V473.88M622.82 468.2H627.62M622.82 473.88H627.62" stroke="#651c69" stroke-width="1.2" fill="none"/>
<path d="M635.94 474.24V478.5M633.54 474.24H638.34M633.54 478.5H638.34" stroke="#651c69" stroke-width="1.2" fill="none"/>
<path d="M646.66 466.78V472.46M644.26 466.78H649.06M644.26 472.46H649.06" stroke="#651c69" stroke-width="1.2" fill="none"/>
<path d="M657.38 465.36V471.04M654.98 465.36H659.78M654.98 471.04H659.78" stroke="#651c69" stroke-width="1.2" fill="none"/>
<path d="M668.1 470.68V476.37M665.7 470.68H670.5M665.7 476.37H670.5" stroke="#651c69" stroke-width="1.2" fill="none"/>
<path d="M678.82 470.68V476.37M676.42 470.68H681.22M676.42 476.37H681.22" stroke="#651c69" stroke-width="1.2" fill="none"/>
<polyline points="560.9,553.4 571.62,551.27 582.34,544.17 593.06,536.36 603.78,532.81 614.5,517.54 625.22,471.04 635.94,476.37 646.66,469.62 657.38,468.2 668.1,473.52 678.82,473.52" fill="none" stroke="#651c69" stroke-width="1.2"/>
<circle cx="560.9" cy="553.4" r="2.5" fill="#8a4a8c" stroke="#5a1460" stroke-width="1"/>
<circle cx="571.62" cy="551.27" r="2.5" fill="#8a4a8c" stroke="#5a1460" stroke-width="1"/>
<circle cx="582.34" cy="544.17" r="2.5" fill="#8a4a8c" stroke="#5a1460" stroke-width="1"/>
<circle cx="593.06" cy="536.36" r="2.5" fill="#8a4a8c" stroke="#5a1460" stroke-width="1"/>
<circle cx="603.78" cy="532.81" r="2.5" fill="#8a4a8c" stroke="#5a1460" stroke-width="1"/>
<circle cx="614.5" cy="517.54" r="2.5" fill="#8a4a8c" stroke="#5a1460" stroke-width="1"/>
<circle cx="625.22" cy="471.04" r="2.5" fill="#8a4a8c" stroke="#5a1460" stroke-width="1"/>
<circle cx="635.94" cy="476.37" r="2.5" fill="#8a4a8c" stroke="#5a1460" stroke-width="1"/>
<circle cx="646.66" cy="469.62" r="2.5" fill="#8a4a8c" stroke="#5a1460" stroke-width="1"/>
<circle cx="657.38" cy="468.2" r="2.5" fill="#8a4a8c" stroke="#5a1460" stroke-width="1"/>
<circle cx="668.1" cy="473.52" r="2.5" fill="#8a4a8c" stroke="#5a1460" stroke-width="1"/>
<circle cx="678.82" cy="473.52" r="2.5" fill="#8a4a8c" stroke="#5a1460" stroke-width="1"/>
<path d="M560.9 550.91V552.33M558.5 550.91H563.3M558.5 552.33H563.3" stroke="#f27480" stroke-width="1.2" fill="none"/>
<path d="M571.62 552.33V553.04M569.22 552.33H574.02M569.22 553.04H574.02" stroke="#f27480" stroke-width="1.2" fill="none"/>
<path d="M593.06 551.27V552.69M590.66 551.27H595.46M590.66 552.69H595.46" stroke="#f27480" stroke-width="1.2" fill="none"/>
<path d="M603.78 551.62V553.04M601.38 551.62H606.18M601.38 553.04H606.18" stroke="#f27480" stroke-width="1.2" fill="none"/>
<path d="M614.5 534.59V541.68M612.1 534.59H616.9M612.1 541.68H616.9" stroke="#f27480" stroke-width="1.2" fill="none"/>
<path d="M625.22 487.01V497.66M622.82 487.01H627.62M622.82 497.66H627.62" stroke="#f27480" stroke-width="1.2" fill="none"/>
<path d="M635.94 480.27V487.37M633.54 480.27H638.34M633.54 487.37H638.34" stroke="#f27480" stroke-width="1.2" fill="none"/>
<path d="M646.66 458.97V466.07M644.26 458.97H649.06M644.26 466.07H649.06" stroke="#f27480" stroke-width="1.2" fill="none"/>
<path d="M657.38 463.23V470.33M654.98 463.23H659.78M654.98 470.33H659.78" stroke="#f27480" stroke-width="1.2" fill="none"/>
<path d="M668.1 462.88V472.11M665.7 462.88H670.5M665.7 472.11H670.5" stroke="#f27480" stroke-width="1.2" fill="none"/>
<path d="M678.82 465.71V476.37M676.42 465.71H681.22M676.42 476.37H681.22" stroke="#f27480" stroke-width="1.2" fill="none"/>
<polyline points="560.9,551.62 571.62,552.69 582.34,553.4 593.06,551.98 603.78,552.33 614.5,538.13 625.22,492.34 635.94,483.82 646.66,462.52 657.38,466.78 668.1,467.49 678.82,471.04" fill="none" stroke="#f27480" stroke-width="1.2"/>
<circle cx="560.9" cy="551.62" r="2.5" fill="#f5a3aa" stroke="#f0707c" stroke-width="1"/>
<circle cx="571.62" cy="552.69" r="2.5" fill="#f5a3aa" stroke="#f0707c" stroke-width="1"/>
<circle cx="582.34" cy="553.4" r="2.5" fill="#f5a3aa" stroke="#f0707c" stroke-width="1"/>
<circle cx="593.06" cy="551.98" r="2.5" fill="#f5a3aa" stroke="#f0707c" stroke-width="1"/>
<circle cx="603.78" cy="552.33" r="2.5" fill="#f5a3aa" stroke="#f0707c" stroke-width="1"/>
<circle cx="614.5" cy="538.13" r="2.5" fill="#f5a3aa" stroke="#f0707c" stroke-width="1"/>
<circle cx="625.22" cy="492.34" r="2.5" fill="#f5a3aa" stroke="#f0707c" stroke-width="1"/>
<circle cx="635.94" cy="483.82" r="2.5" fill="#f5a3aa" stroke="#f0707c" stroke-width="1"/>
<circle cx="646.66" cy="462.52" r="2.5" fill="#f5a3aa" stroke="#f0707c" stroke-width="1"/>
<circle cx="657.38" cy="466.78" r="2.5" fill="#f5a3aa" stroke="#f0707c" stroke-width="1"/>
<circle cx="668.1" cy="467.49" r="2.5" fill="#f5a3aa" stroke="#f0707c" stroke-width="1"/>
<circle cx="678.82" cy="471.04" r="2.5" fill="#f5a3aa" stroke="#f0707c" stroke-width="1"/>
<text x="582.34" y="545.4" font-family="Liberation Sans" font-weight="bold" font-size="13.5" text-anchor="middle">***</text>
<text x="593.06" y="539.1" font-family="Liberation Sans" font-weight="bold" font-size="13.5" text-anchor="middle">***</text>
<text x="603.78" y="533.9" font-family="Liberation Sans" font-weight="bold" font-size="13.5" text-anchor="middle">***</text>
<text x="614.5" y="519" font-family="Liberation Sans" font-weight="bold" font-size="13.5" text-anchor="middle">**</text>
<text x="625.22" y="471.7" font-family="Liberation Sans" font-weight="bold" font-size="13.5" text-anchor="middle">**</text>
<line x1="622.1" y1="533.4" x2="633.8" y2="533.4" stroke="#f27480" stroke-width="1.2"/>
<circle cx="628.1" cy="533.4" r="2.5" fill="#f5a3aa" stroke="#f0707c" stroke-width="1"/>
<text x="640.5" y="536.7" font-family="Liberation Sans" font-weight="bold" font-size="9">KO-Veh</text>
<line x1="622.1" y1="542.6" x2="633.8" y2="542.6" stroke="#651c69" stroke-width="1.2"/>
<circle cx="628.1" cy="542.6" r="2.5" fill="#8a4a8c" stroke="#5a1460" stroke-width="1"/>
<text x="640.5" y="545.9" font-family="Liberation Sans" font-weight="bold" font-size="9">KO-350</text>
</svg></body></html>
